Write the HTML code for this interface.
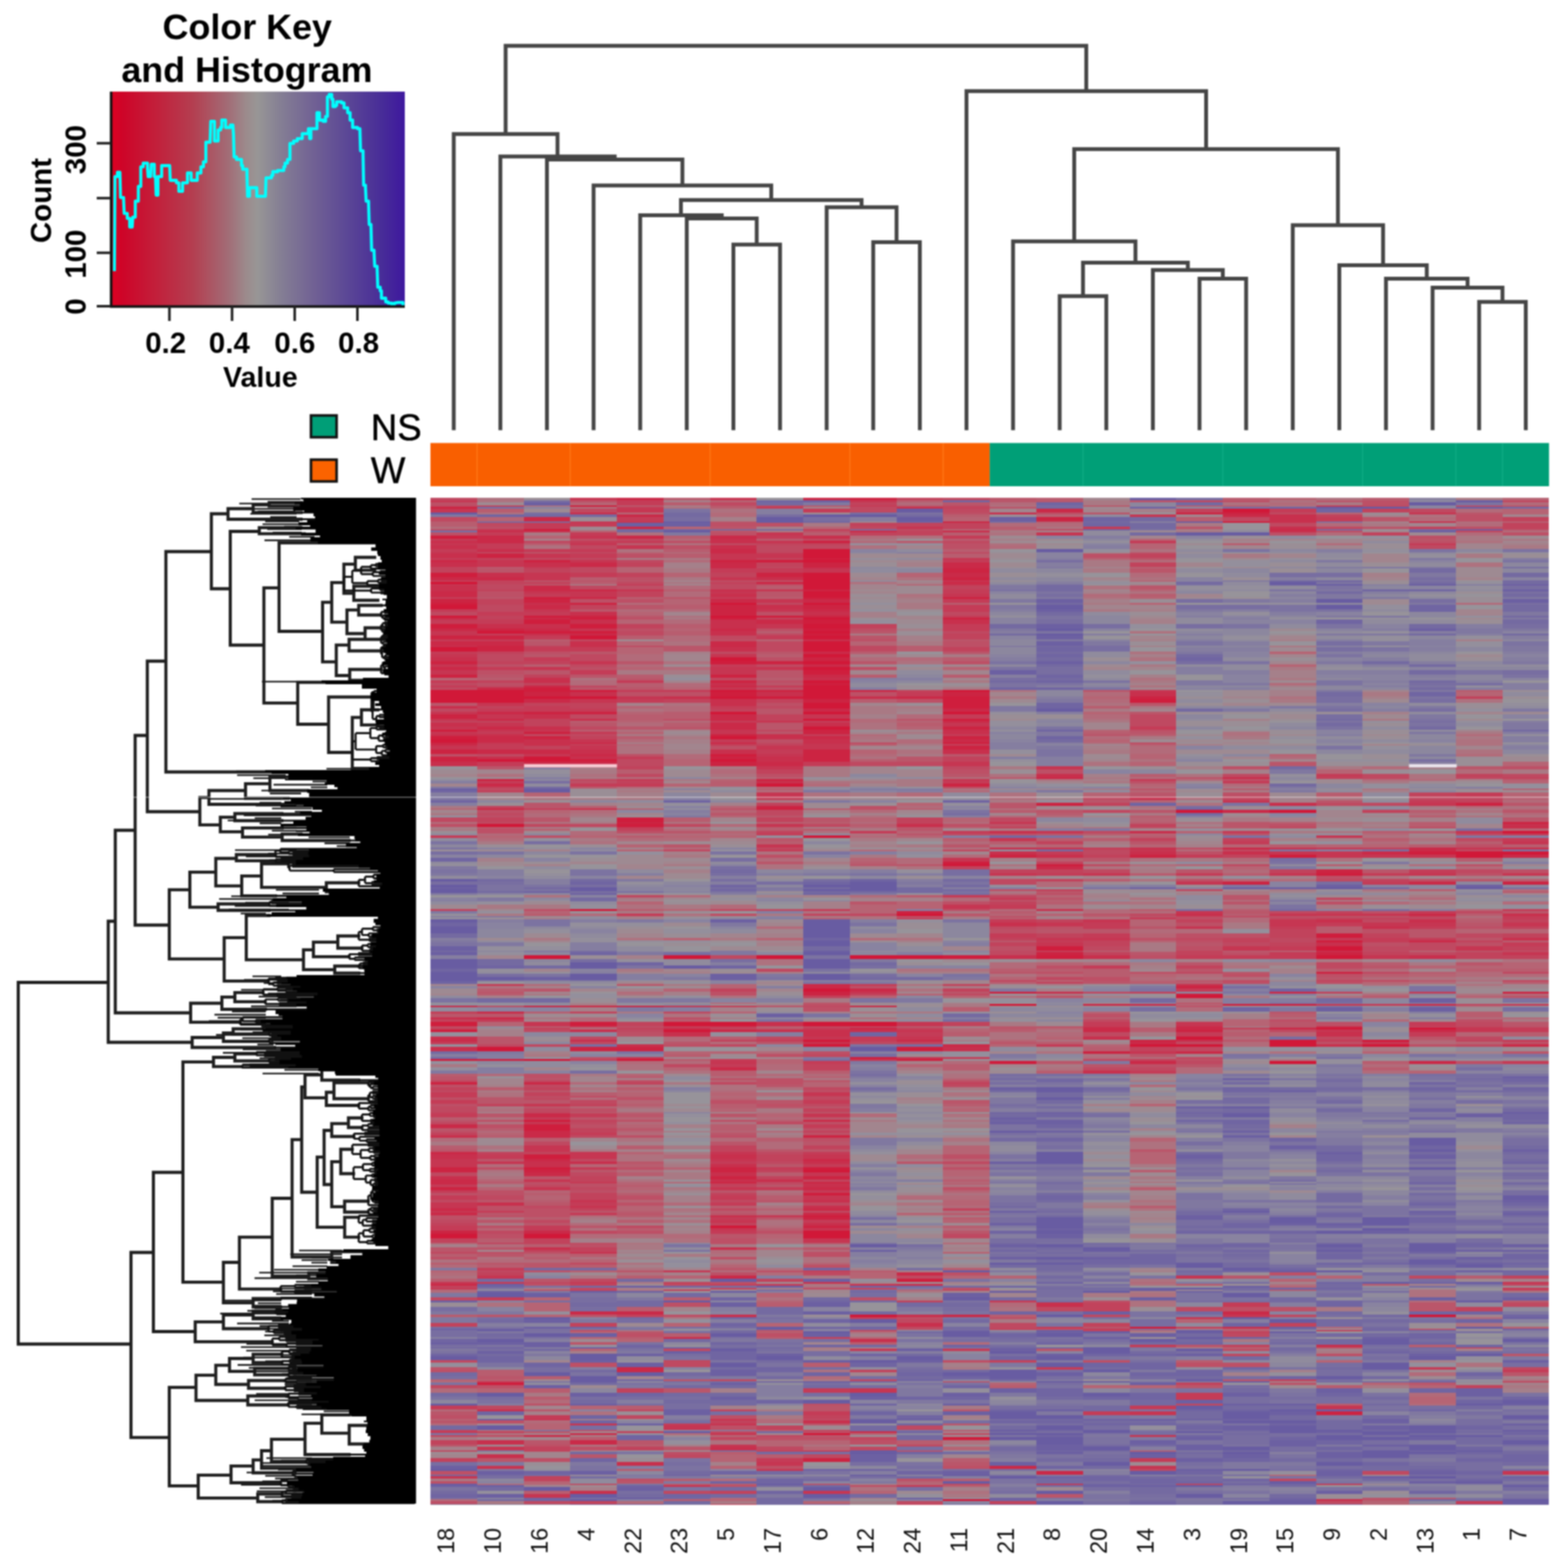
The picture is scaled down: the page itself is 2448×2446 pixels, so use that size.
<!DOCTYPE html>
<html><head><meta charset="utf-8"><title>Heatmap</title>
<style>html,body{margin:0;padding:0;background:#fff;}body{width:2448px;height:2446px;overflow:hidden;}svg{display:block;}#w{filter:blur(1.2px);}</style>
</head><body><div id="w">
<svg width="2448" height="2446" viewBox="0 0 2448 2446">
<linearGradient id="kg" x1="0" x2="1" y1="0" y2="0"><stop offset="0.000" stop-color="#e00020"/><stop offset="0.040" stop-color="#ce0428"/><stop offset="0.150" stop-color="#c31e3a"/><stop offset="0.280" stop-color="#b43e50"/><stop offset="0.400" stop-color="#a26c76"/><stop offset="0.460" stop-color="#9c8a8c"/><stop offset="0.500" stop-color="#989696"/><stop offset="0.580" stop-color="#847e94"/><stop offset="0.680" stop-color="#736494"/><stop offset="0.800" stop-color="#5c4896"/><stop offset="0.920" stop-color="#482d98"/><stop offset="1.000" stop-color="#3e189e"/></linearGradient>
<rect x="172" y="143" width="460" height="335" fill="url(#kg)"/>
<polyline points="178.6,423.3 179.5,275.7 183.4,275.7 183.4,269.0 187.2,269.0 188.2,308.3 193.0,308.3 193.0,312.1 193.9,333.2 198.7,333.2 198.7,340.9 202.5,340.9 202.5,354.3 206.4,354.3 207.3,339.0 211.2,339.0 211.2,333.2 211.2,314.0 216.0,314.0 216.0,310.2 216.0,291.0 219.8,291.0 219.8,287.2 219.8,260.4 223.6,260.4 223.6,254.6 227.5,254.6 230.3,254.6 230.3,262.3 231.3,275.7 235.1,275.7 236.1,256.5 240.9,256.5 240.9,275.7 242.8,275.7 243.8,304.5 246.6,304.5 246.6,275.7 250.5,275.7 252.4,275.7 252.4,258.5 264.9,258.5 265.8,281.5 275.4,281.5 275.4,285.3 279.2,285.3 279.2,298.7 283.1,298.7 285.0,298.7 285.0,285.3 290.7,285.3 292.7,285.3 292.7,270.0 296.5,270.0 298.4,270.0 298.4,281.5 304.2,281.5 308.0,281.5 308.0,270.0 313.7,270.0 313.7,260.4 317.6,260.4 317.6,252.7 321.4,252.7 321.4,246.9 321.4,222.0 328.1,222.0 328.1,220.1 329.1,189.4 332.9,189.4 334.8,189.4 334.8,220.1 338.7,220.1 340.6,220.1 340.6,202.9 344.4,202.9 344.4,199.0 346.3,199.0 346.3,187.5 350.2,187.5 352.1,187.5 352.1,199.0 359.8,199.0 359.8,195.2 363.6,195.2 364.6,210.5 365.5,245.0 369.3,245.0 369.3,248.9 373.2,248.9 377.0,248.9 377.0,258.5 378.9,258.5 378.9,264.2 385.6,264.2 385.6,273.8 386.6,306.4 389.4,306.4 389.4,293.0 393.3,293.0 400.9,293.0 400.9,306.4 414.4,306.4 415.3,277.6 423.9,277.6 423.9,273.8 425.9,273.8 425.9,268.0 433.5,268.0 433.5,266.1 443.1,266.1 443.1,260.4 445.0,260.4 445.0,254.6 448.9,254.6 448.9,248.9 452.7,248.9 452.7,223.9 458.4,223.9 458.4,220.1 464.2,220.1 464.2,216.3 471.9,216.3 471.9,208.6 481.5,208.6 481.5,200.9 483.4,200.9 483.4,216.3 485.3,216.3 485.3,200.9 494.9,200.9 494.9,176.0 498.7,176.0 498.7,187.5 504.5,187.5 504.5,189.4 508.3,189.4 508.3,181.8 511.2,181.8 511.2,151.1 514.0,151.1 514.0,147.3 517.9,147.3 517.9,154.9 519.8,154.9 519.8,166.4 523.6,166.4 523.6,164.5 525.6,164.5 525.6,158.8 533.2,158.8 533.2,160.7 537.1,160.7 537.1,168.3 542.8,168.3 542.8,176.0 546.6,176.0 546.6,187.5 550.5,187.5 550.5,195.2 550.5,199.0 558.1,199.0 558.1,200.9 561.9,200.9 561.9,202.9 562.9,235.4 566.8,235.4 566.8,241.2 567.7,289.1 570.6,289.1 570.6,293.0 571.6,314.0 575.4,314.0 575.4,317.9 576.4,350.5 579.2,350.5 579.2,354.3 580.2,390.7 584.0,390.7 584.0,394.6 585.0,415.7 588.8,415.7 588.8,419.5 589.8,448.3 593.6,448.3 593.6,454.0 595.5,454.0 595.5,465.5 602.2,465.5 602.2,471.3 606.1,471.3 606.1,473.2 611.8,473.2 611.8,477.0 615.7,477.0 615.7,473.2 621.4,472.2 629.1,472.2 629.1,477.0" fill="none" stroke="#00ffff" stroke-width="4.8" stroke-linejoin="round"/>
<path d="M173.5 143V478.5H632" fill="none" stroke="#111" stroke-width="4"/>
<path d="M151 223.6H173" stroke="#222" stroke-width="4"/>
<path d="M151 309.3H173" stroke="#222" stroke-width="4"/>
<path d="M151 394.6H173" stroke="#222" stroke-width="4"/>
<path d="M151 478.0H173" stroke="#222" stroke-width="4"/>
<path d="M264.5 478V501" stroke="#222" stroke-width="4"/>
<path d="M362.3 478V501" stroke="#222" stroke-width="4"/>
<path d="M460.1 478V501" stroke="#222" stroke-width="4"/>
<path d="M558.0 478V501" stroke="#222" stroke-width="4"/>
<path d="M1145.0 668.5V381.7H1217.8V668.5M1072.2 668.5V341.0H1181.4V381.7M999.5 668.5V336.0H1126.8V341.0M1363.3 668.5V378.0H1436.1V668.5M1290.6 668.5V323.5H1399.7V378.0M1063.1 336.0V312.3H1345.1V323.5M926.7 668.5V289.5H1204.1V312.3M853.9 668.5V249.0H1065.4V289.5M781.2 668.5V244.3H959.7V249.0M708.4 668.5V209.3H870.4V244.3M1654.4 668.5V462.3H1727.2V668.5M1872.7 668.5V435.0H1945.5V668.5M1799.9 668.5V421.6H1909.1V435.0M1690.8 462.3V410.1H1854.5V421.6M1581.6 668.5V376.8H1772.7V410.1M2309.3 668.5V471.2H2382.1V668.5M2236.6 668.5V448.9H2345.7V471.2M2163.8 668.5V435.0H2291.2V448.9M2091.0 668.5V414.1H2227.5V435.0M2018.3 668.5V351.5H2159.3V414.1M1677.1 376.8V232.7H2088.8V351.5M1508.9 668.5V142.3H1883.0V232.7M789.4 209.3V71.5H1695.9V142.3" fill="none" stroke="#454545" stroke-width="6" stroke-linecap="square"/>
<rect x="672.0" y="691.5" width="873.2" height="67.5" fill="#f95f00"/>
<rect x="1545.2" y="691.5" width="873.2" height="67.5" fill="#009f77"/>
<rect x="744.0" y="692" width="1.6" height="66.5" fill="#ff7a18"/>
<rect x="889.5" y="692" width="1.6" height="66.5" fill="#ff7a18"/>
<rect x="1107.8" y="692" width="1.6" height="66.5" fill="#ff7a18"/>
<rect x="1326.1" y="692" width="1.6" height="66.5" fill="#ff7a18"/>
<rect x="1471.7" y="692" width="1.6" height="66.5" fill="#ff7a18"/>
<rect x="1690.0" y="692" width="1.6" height="66.5" fill="#10ad86"/>
<rect x="1908.3" y="692" width="1.6" height="66.5" fill="#10ad86"/>
<rect x="2126.6" y="692" width="1.6" height="66.5" fill="#10ad86"/>
<rect x="2272.2" y="692" width="1.6" height="66.5" fill="#10ad86"/>
<rect x="2344.9" y="692" width="1.6" height="66.5" fill="#10ad86"/>
<path fill="#bf4961" d="M672 777h73v4h-73zM672 789h73v2h-73zM672 807h73v7h-73zM672 826h73v2h-73zM672 955h73v6h-73zM672 1066h73v4h-73zM672 1073h73v4h-73zM672 1106h73v5h-73zM672 1276h73v7h-73zM672 1686h73v3h-73zM672 1702h73v3h-73zM672 1727h73v9h-73zM672 1751h73v4h-73zM672 1830h73v6h-73zM672 1873h73v4h-73zM672 1904h73v5h-73zM672 1954h73v3h-73zM672 2025h73v5h-73zM672 2123h73v4h-73zM672 2162h73v5h-73zM672 2240h73v3h-73zM745 816h73v6h-73zM745 862h73v2h-73zM745 912h73v8h-73zM745 944h73v11h-73zM745 1021h73v11h-73zM745 1070h73v3h-73zM745 1177h73v4h-73zM745 1269h73v4h-73zM745 1283h73v3h-73zM745 1630h73v4h-73zM745 1866h73v7h-73zM745 1921h73v5h-73zM745 1983h73v3h-73zM745 2194h73v6h-73zM818 844h72v4h-72zM818 871h72v3h-72zM818 1146h72v3h-72zM818 1286h72v5h-72zM818 1607h72v4h-72zM818 1630h72v4h-72zM818 1686h72v3h-72zM818 1693h72v4h-72zM818 1713h72v4h-72zM818 1730h72v6h-72zM818 1782h72v6h-72zM818 1849h72v4h-72zM818 1882h72v4h-72zM818 1904h72v5h-72zM818 2001h72v3h-72zM818 2343h72v5h-72zM890 794h73v6h-73zM890 851h73v6h-73zM890 862h73v2h-73zM890 871h73v3h-73zM890 885h73v9h-73zM890 914h73v6h-73zM890 998h73v3h-73zM890 1021h73v11h-73zM890 1037h73v4h-73zM890 1070h73v3h-73zM890 1115h73v7h-73zM890 1134h73v5h-73zM890 1146h73v3h-73zM890 1216h73v3h-73zM890 1286h73v5h-73zM890 1602h73v2h-73zM890 1618h73v5h-73zM890 1626h73v4h-73zM890 1711h73v2h-73zM890 1717h73v6h-73zM890 1751h73v4h-73zM890 1772h73v4h-73zM890 1809h73v4h-73zM890 1830h73v6h-73zM890 1853h73v5h-73zM890 1921h73v5h-73zM890 1940h73v2h-73zM890 1971h73v3h-73zM890 1996h73v5h-73zM890 2010h73v3h-73zM890 2076h73v2h-73zM890 2316h73v2h-73zM963 841h73v3h-73zM963 874h73v4h-73zM963 908h73v4h-73zM963 985h73v7h-73zM963 1008h73v2h-73zM963 1185h73v11h-73zM963 1208h73v5h-73zM963 1397h73v4h-73zM963 1607h73v4h-73zM963 1913h73v4h-73zM963 2200h73v3h-73zM963 2209h73v6h-73zM1036 1286h73v5h-73zM1036 1326h73v3h-73zM1036 1579h73v3h-73zM1036 1661h73v5h-73zM1036 2004h73v3h-73zM1036 2105h73v4h-73zM1036 2123h73v11h-73zM1036 2270h73v6h-73zM1036 2327h73v5h-73zM1109 784h72v5h-72zM1109 848h72v3h-72zM1109 912h72v8h-72zM1109 992h72v6h-72zM1109 1017h72v4h-72zM1109 1058h72v4h-72zM1109 1419h72v3h-72zM1109 1491h72v6h-72zM1109 1630h72v4h-72zM1109 1689h72v4h-72zM1109 1873h72v4h-72zM1109 1886h72v4h-72zM1109 2010h72v3h-72zM1109 2153h72v3h-72zM1109 2234h72v3h-72zM1109 2243h72v5h-72zM1181 789h73v2h-73zM1181 851h73v11h-73zM1181 885h73v2h-73zM1181 941h73v3h-73zM1181 989h73v3h-73zM1181 1001h73v16h-73zM1181 1037h73v4h-73zM1181 1102h73v4h-73zM1181 1139h73v3h-73zM1181 1159h73v2h-73zM1181 1264h73v9h-73zM1181 1323h73v3h-73zM1181 1419h73v3h-73zM1181 1512h73v5h-73zM1181 1570h73v2h-73zM1181 1618h73v5h-73zM1181 1751h73v4h-73zM1181 1798h73v4h-73zM1181 1813h73v4h-73zM1181 1845h73v4h-73zM1181 2240h73v3h-73zM1181 2258h73v6h-73zM1254 841h73v3h-73zM1254 851h73v6h-73zM1254 1286h73v5h-73zM1254 1426h73v4h-73zM1254 1570h73v2h-73zM1254 1602h73v2h-73zM1254 1645h73v5h-73zM1254 1697h73v5h-73zM1254 1711h73v6h-73zM1254 1723h73v4h-73zM1254 1877h73v5h-73zM1254 1890h73v3h-73zM1254 1986h73v5h-73zM1254 2270h73v6h-73zM1327 791h73v9h-73zM1327 822h73v4h-73zM1327 1008h73v9h-73zM1327 1159h73v2h-73zM1327 1189h73v7h-73zM1327 1426h73v4h-73zM1327 1602h73v2h-73zM1327 1626h73v4h-73zM1327 2010h73v3h-73zM1327 2153h73v3h-73zM1327 2243h73v5h-73zM1327 2258h73v6h-73zM1400 1189h72v7h-72zM1400 1991h72v5h-72zM1400 2059h72v6h-72zM1400 2071h72v3h-72zM1400 2225h72v7h-72zM1400 2255h72v3h-72zM1400 2343h72v5h-72zM1472 777h73v4h-73zM1472 789h73v2h-73zM1472 794h73v6h-73zM1472 844h73v4h-73zM1472 862h73v2h-73zM1472 955h73v6h-73zM1472 985h73v4h-73zM1472 1196h73v5h-73zM1472 1301h73v3h-73zM1472 1326h73v3h-73zM1472 1551h73v3h-73zM1472 1693h73v4h-73zM1472 1813h73v4h-73zM1472 1926h73v7h-73zM1472 2013h73v2h-73zM1472 2316h73v2h-73zM1545 1276h73v7h-73zM1545 1372h73v9h-73zM1545 1397h73v4h-73zM1545 1446h73v4h-73zM1545 1484h73v7h-73zM1545 2065h73v9h-73zM1618 826h73v2h-73zM1618 1525h73v5h-73zM1618 1532h73v4h-73zM1618 2040h73v7h-73zM1691 1264h73v5h-73zM1691 1297h73v4h-73zM1691 1326h73v8h-73zM1691 1349h73v3h-73zM1691 1357h73v6h-73zM1691 1477h73v7h-73zM1691 1548h73v3h-73zM1691 1591h73v4h-73zM1691 1611h73v7h-73zM1691 1653h73v3h-73zM1691 1666h73v5h-73zM1691 2052h73v4h-73zM1764 1115h72v19h-72zM1764 1159h72v2h-72zM1764 1426h72v4h-72zM1764 1666h72v5h-72zM1764 2293h72v3h-72zM1836 781h73v3h-73zM1836 1388h73v3h-73zM1836 1430h73v2h-73zM1836 1464h73v4h-73zM1836 1517h73v3h-73zM1836 1626h73v4h-73zM1836 1634h73v7h-73zM1836 1650h73v3h-73zM1836 1656h73v5h-73zM1836 2040h73v7h-73zM1836 2191h73v3h-73zM1909 807h73v7h-73zM1909 1208h73v5h-73zM1909 1244h73v5h-73zM1909 1326h73v3h-73zM1909 1349h73v3h-73zM1909 1430h73v2h-73zM1909 1471h73v6h-73zM1909 1530h73v2h-73zM1909 2081h73v6h-73zM1909 2113h73v4h-73zM1982 800h73v3h-73zM1982 816h73v6h-73zM1982 1422h73v4h-73zM1982 1432h73v3h-73zM1982 1464h73v7h-73zM1982 1607h73v4h-73zM1982 2052h73v4h-73zM1982 2308h73v4h-73zM2055 822h72v4h-72zM2055 1253h72v5h-72zM2055 1372h72v4h-72zM2055 1401h72v4h-72zM2055 1502h72v10h-72zM2055 1618h72v5h-72zM2055 2343h72v5h-72zM2127 789h73v2h-73zM2127 1208h73v8h-73zM2127 1253h73v5h-73zM2127 1435h73v5h-73zM2127 1477h73v9h-73zM2127 1517h73v3h-73zM2127 2296h73v6h-73zM2200 794h73v6h-73zM2200 851h73v6h-73zM2200 1244h73v5h-73zM2200 1291h73v2h-73zM2200 1432h73v3h-73zM2200 1471h73v13h-73zM2200 1486h73v5h-73zM2200 1991h73v5h-73zM2273 789h73v2h-73zM2273 828h73v3h-73zM2273 1213h73v3h-73zM2273 1244h73v5h-73zM2273 1301h73v3h-73zM2273 1308h73v5h-73zM2273 1326h73v3h-73zM2273 1357h73v6h-73zM2273 1422h73v4h-73zM2273 1457h73v7h-73zM2273 1567h73v3h-73zM2273 1595h73v7h-73zM2273 1618h73v5h-73zM2273 1630h73v4h-73zM2273 2103h73v2h-73zM2346 781h72v3h-72zM2346 1208h72v5h-72zM2346 1517h72v3h-72zM2346 2004h72v3h-72zM2346 2013h72v2h-72zM2346 2033h72v7h-72zM2346 2134h72v4h-72z"/>
<path fill="#c63652" d="M672 781h73v3h-73zM672 794h73v6h-73zM672 848h73v3h-73zM672 862h73v2h-73zM672 912h73v2h-73zM672 985h73v7h-73zM672 1021h73v5h-73zM672 1037h73v4h-73zM672 1046h73v7h-73zM672 1111h73v4h-73zM672 1122h73v3h-73zM672 1134h73v5h-73zM672 1142h73v4h-73zM672 1164h73v6h-73zM672 1809h73v13h-73zM672 1877h73v9h-73zM672 1890h73v3h-73zM672 2001h73v3h-73zM672 2304h73v4h-73zM745 826h73v2h-73zM745 874h73v11h-73zM745 1097h73v5h-73zM745 1115h73v7h-73zM745 1128h73v6h-73zM745 1139h73v3h-73zM745 1159h73v2h-73zM745 1813h73v4h-73zM745 1991h73v5h-73zM745 2258h73v6h-73zM745 2288h73v5h-73zM818 864h72v7h-72zM818 894h72v12h-72zM818 923h72v4h-72zM818 951h72v4h-72zM818 1041h72v5h-72zM818 1139h72v3h-72zM818 1177h72v4h-72zM818 1595h72v7h-72zM818 1723h72v4h-72zM818 1751h72v4h-72zM818 1788h72v10h-72zM818 1841h72v4h-72zM818 1853h72v5h-72zM818 2215h72v2h-72zM818 2332h72v6h-72zM890 777h73v4h-73zM890 814h73v2h-73zM890 836h73v5h-73zM890 848h73v3h-73zM890 874h73v4h-73zM890 923h73v9h-73zM890 981h73v4h-73zM890 1032h73v5h-73zM890 1091h73v6h-73zM890 1154h73v5h-73zM890 1164h73v6h-73zM890 1798h73v11h-73zM890 1845h73v2h-73zM890 1873h73v4h-73zM890 1882h73v4h-73zM890 1954h73v3h-73zM890 2222h73v3h-73zM963 794h73v6h-73zM963 814h73v2h-73zM963 851h73v6h-73zM963 920h73v3h-73zM963 1087h73v4h-73zM963 1650h73v3h-73zM1036 1983h73v3h-73zM1036 2013h73v2h-73zM1036 2225h73v7h-73zM1036 2318h73v3h-73zM1109 777h72v4h-72zM1109 864h72v10h-72zM1109 901h72v5h-72zM1109 923h72v4h-72zM1109 1021h72v5h-72zM1109 1041h72v12h-72zM1109 1073h72v4h-72zM1109 1139h72v7h-72zM1109 1656h72v5h-72zM1109 1798h72v4h-72zM1109 1809h72v4h-72zM1109 1853h72v5h-72zM1109 1904h72v5h-72zM1109 1917h72v4h-72zM1109 2222h72v3h-72zM1109 2237h72v3h-72zM1109 2255h72v3h-72zM1109 2348h72v1h-72zM1181 831h73v5h-73zM1181 844h73v4h-73zM1181 864h73v7h-73zM1181 920h73v3h-73zM1181 935h73v6h-73zM1181 951h73v4h-73zM1181 974h73v7h-73zM1181 1041h73v5h-73zM1181 1125h73v3h-73zM1181 1164h73v6h-73zM1181 1177h73v4h-73zM1181 1196h73v5h-73zM1181 1237h73v7h-73zM1181 1286h73v5h-73zM1181 1318h73v5h-73zM1181 1897h73v3h-73zM1181 2282h73v6h-73zM1181 2293h73v3h-73zM1254 887h73v7h-73zM1254 1115h73v7h-73zM1254 1161h73v9h-73zM1254 1618h73v5h-73zM1254 1705h73v6h-73zM1254 1738h73v6h-73zM1254 1802h73v7h-73zM1254 1830h73v6h-73zM1254 1866h73v7h-73zM1254 1917h73v4h-73zM1254 1933h73v7h-73zM1254 2001h73v3h-73zM1254 2327h73v5h-73zM1327 781h73v3h-73zM1327 1548h73v3h-73zM1327 1653h73v3h-73zM1327 2004h73v3h-73zM1327 2167h73v7h-73zM1400 822h72v4h-72zM1400 1595h72v7h-72zM1400 1607h72v4h-72zM1400 1618h72v5h-72zM1400 1650h72v3h-72zM1472 871h73v3h-73zM1472 906h73v2h-73zM1472 912h73v2h-73zM1472 927h73v5h-73zM1472 1128h73v6h-73zM1472 1189h73v7h-73zM1472 1216h73v3h-73zM1472 1339h73v6h-73zM1472 1412h73v7h-73zM1545 1283h73v3h-73zM1545 1308h73v5h-73zM1545 1363h73v4h-73zM1618 831h73v5h-73zM1618 1196h73v5h-73zM1618 1297h73v4h-73zM1618 1323h73v3h-73zM1618 1440h73v6h-73zM1618 1464h73v4h-73zM1618 1471h73v6h-73zM1618 2316h73v2h-73zM1691 1363h73v4h-73zM1691 1435h73v5h-73zM1691 1464h73v4h-73zM1691 1602h73v2h-73zM1764 803h72v4h-72zM1764 1077h72v3h-72zM1764 1244h72v5h-72zM1764 1326h72v3h-72zM1764 1641h72v4h-72zM1764 2203h72v6h-72zM1764 2240h72v3h-72zM1764 2288h72v5h-72zM1836 1376h73v5h-73zM1836 1422h73v4h-73zM1836 1446h73v4h-73zM1836 1595h73v7h-73zM1836 1991h73v5h-73zM1836 2056h73v3h-73zM1909 1249h73v4h-73zM1909 1477h73v7h-73zM1909 2052h73v4h-73zM1982 1323h73v3h-73zM1982 1329h73v5h-73zM1982 1363h73v4h-73zM1982 1426h73v4h-73zM1982 1435h73v11h-73zM2055 789h72v2h-72zM2055 1304h72v4h-72zM2055 1329h72v10h-72zM2055 1426h72v4h-72zM2055 1607h72v4h-72zM2055 2076h72v2h-72zM2055 2194h72v6h-72zM2055 2316h72v2h-72zM2127 1334h73v5h-73zM2127 1426h73v4h-73zM2127 1440h73v6h-73zM2127 1491h73v6h-73zM2127 1626h73v4h-73zM2200 800h73v3h-73zM2200 1253h73v5h-73zM2200 1334h73v5h-73zM2200 1363h73v4h-73zM2200 1440h73v6h-73zM2273 1297h73v4h-73zM2273 1323h73v3h-73zM2273 1477h73v7h-73zM2273 1604h73v7h-73zM2346 1313h72v5h-72zM2346 1363h72v4h-72zM2346 1440h72v6h-72zM2346 1486h72v5h-72zM2346 2001h72v3h-72zM2346 2296h72v6h-72z"/>
<path fill="#bd5066" d="M672 784h73v5h-73zM672 831h73v5h-73zM672 1177h73v4h-73zM672 1286h73v5h-73zM672 1602h73v2h-73zM672 1693h73v4h-73zM672 1713h73v4h-73zM672 1723h73v4h-73zM672 1765h73v3h-73zM672 1862h73v4h-73zM672 1897h73v7h-73zM672 1962h73v4h-73zM672 2138h73v4h-73zM672 2209h73v6h-73zM672 2296h73v6h-73zM672 2312h73v4h-73zM672 2343h73v5h-73zM745 822h73v4h-73zM745 923h73v9h-73zM745 1037h73v4h-73zM745 1046h73v7h-73zM745 1066h73v4h-73zM745 1231h73v2h-73zM745 1264h73v5h-73zM745 1273h73v3h-73zM745 1293h73v8h-73zM745 1748h73v3h-73zM745 1755h73v6h-73zM745 1822h73v4h-73zM745 1858h73v8h-73zM745 1882h73v8h-73zM745 1897h73v3h-73zM745 1913h73v4h-73zM745 1926h73v7h-73zM745 1954h73v3h-73zM745 2162h73v5h-73zM745 2217h73v5h-73zM745 2240h73v3h-73zM818 1017h72v4h-72zM818 1304h72v4h-72zM818 1419h72v3h-72zM818 1676h72v7h-72zM818 1711h72v2h-72zM818 1845h72v4h-72zM818 1886h72v14h-72zM818 1954h72v3h-72zM818 1983h72v3h-72zM818 2004h72v3h-72zM818 2013h72v2h-72zM818 2191h72v3h-72zM818 2255h72v3h-72zM818 2276h72v6h-72zM890 781h73v3h-73zM890 841h73v3h-73zM890 935h73v6h-73zM890 1041h73v5h-73zM890 1219h73v4h-73zM890 1650h73v3h-73zM890 1730h73v6h-73zM890 1755h73v6h-73zM890 1847h73v6h-73zM890 1858h73v4h-73zM890 1942h73v5h-73zM890 2127h73v7h-73zM890 2232h73v2h-73zM890 2258h73v6h-73zM963 864h73v7h-73zM963 901h73v5h-73zM963 914h73v6h-73zM963 935h73v6h-73zM963 964h73v3h-73zM963 981h73v4h-73zM963 1080h73v7h-73zM963 1177h73v4h-73zM963 1297h73v4h-73zM963 1602h73v2h-73zM963 1611h73v7h-73zM963 1686h73v3h-73zM963 1713h73v4h-73zM963 1748h73v3h-73zM963 1772h73v4h-73zM963 1822h73v4h-73zM963 1866h73v7h-73zM963 1877h73v5h-73zM963 1921h73v5h-73zM963 2081h73v6h-73zM963 2308h73v4h-73zM1036 844h73v4h-73zM1036 851h73v6h-73zM1036 1080h73v7h-73zM1036 1122h73v3h-73zM1036 1588h73v3h-73zM1036 1630h73v4h-73zM1036 2033h73v7h-73zM1036 2052h73v4h-73zM1036 2266h73v4h-73zM1109 816h72v6h-72zM1109 831h72v5h-72zM1109 906h72v2h-72zM1109 998h72v3h-72zM1109 1164h72v6h-72zM1109 1262h72v2h-72zM1109 1426h72v4h-72zM1109 1548h72v6h-72zM1109 1683h72v3h-72zM1109 1717h72v6h-72zM1109 1748h72v3h-72zM1109 1772h72v4h-72zM1109 1933h72v9h-72zM1109 1962h72v4h-72zM1109 1986h72v5h-72zM1109 2001h72v3h-72zM1109 2209h72v6h-72zM1109 2225h72v7h-72zM1109 2318h72v3h-72zM1181 816h73v6h-73zM1181 912h73v2h-73zM1181 955h73v6h-73zM1181 981h73v4h-73zM1181 1026h73v6h-73zM1181 1062h73v4h-73zM1181 1073h73v4h-73zM1181 1097h73v5h-73zM1181 1154h73v5h-73zM1181 1208h73v5h-73zM1181 1334h73v5h-73zM1181 1645h73v5h-73zM1181 1683h73v10h-73zM1181 1723h73v4h-73zM1181 1921h73v5h-73zM1181 1983h73v3h-73zM1181 2081h73v6h-73zM1181 2243h73v5h-73zM1181 2288h73v5h-73zM1254 828h73v3h-73zM1254 1567h73v3h-73zM1254 1572h73v7h-73zM1254 1641h73v4h-73zM1254 1702h73v3h-73zM1254 1751h73v4h-73zM1254 1761h73v4h-73zM1254 1768h73v4h-73zM1254 1776h73v6h-73zM1254 1954h73v8h-73zM1254 1974h73v5h-73zM1254 2010h73v3h-73zM1254 2191h73v3h-73zM1254 2215h73v2h-73zM1254 2234h73v3h-73zM1254 2243h73v5h-73zM1254 2316h73v2h-73zM1327 981h73v4h-73zM1327 998h73v3h-73zM1327 1041h73v5h-73zM1327 1080h73v7h-73zM1327 1258h73v6h-73zM1327 1539h73v4h-73zM1327 2025h73v5h-73zM1327 2248h73v7h-73zM1327 2318h73v3h-73zM1400 826h72v2h-72zM1400 1091h72v6h-72zM1400 2056h72v3h-72zM1400 2264h72v2h-72zM1400 2308h72v4h-72zM1472 800h73v3h-73zM1472 848h73v9h-73zM1472 1001h73v9h-73zM1472 1032h73v5h-73zM1472 1201h73v7h-73zM1472 1228h73v3h-73zM1472 1286h73v5h-73zM1472 1407h73v5h-73zM1472 1419h73v3h-73zM1472 1686h73v3h-73zM1472 1802h73v7h-73zM1472 1822h73v4h-73zM1472 1853h73v5h-73zM1472 1986h73v5h-73zM1472 2010h73v3h-73zM1472 2123h73v4h-73zM1472 2237h73v3h-73zM1472 2288h73v5h-73zM1545 1286h73v5h-73zM1545 1301h73v3h-73zM1545 1388h73v3h-73zM1545 1430h73v2h-73zM1545 1450h73v7h-73zM1545 1477h73v7h-73zM1545 2056h73v3h-73zM1618 800h73v3h-73zM1618 1201h73v7h-73zM1618 1394h73v3h-73zM1618 1446h73v4h-73zM1618 1507h73v5h-73zM1618 1517h73v3h-73zM1618 1602h73v2h-73zM1618 2074h73v2h-73zM1691 864h73v7h-73zM1691 1244h73v5h-73zM1691 1525h73v7h-73zM1691 1582h73v6h-73zM1691 2030h73v3h-73zM1691 2123h73v4h-73zM1764 781h72v3h-72zM1764 1139h72v3h-72zM1764 1219h72v4h-72zM1764 1231h72v2h-72zM1764 1291h72v2h-72zM1764 1464h72v4h-72zM1764 1491h72v6h-72zM1764 1517h72v3h-72zM1764 1661h72v5h-72zM1836 1323h73v3h-73zM1836 1329h73v5h-73zM1836 1372h73v4h-73zM1836 1432h73v3h-73zM1836 1440h73v6h-73zM1836 1457h73v7h-73zM1836 1468h73v3h-73zM1836 1477h73v7h-73zM1836 1570h73v2h-73zM1836 1653h73v3h-73zM1836 2127h73v7h-73zM1909 781h73v3h-73zM1909 1196h73v5h-73zM1909 1216h73v3h-73zM1909 1237h73v7h-73zM1909 1457h73v7h-73zM1909 1486h73v5h-73zM1909 1520h73v5h-73zM1909 1532h73v4h-73zM1909 2040h73v7h-73zM1909 2105h73v4h-73zM1909 2127h73v7h-73zM1982 831h73v5h-73zM1982 1286h73v5h-73zM1982 1430h73v2h-73zM1982 1591h73v4h-73zM1982 1986h73v5h-73zM1982 2040h73v7h-73zM2055 828h72v3h-72zM2055 1367h72v5h-72zM2055 1407h72v5h-72zM2055 1520h72v5h-72zM2055 1532h72v4h-72zM2055 1595h72v7h-72zM2055 1626h72v4h-72zM2055 2113h72v4h-72zM2127 781h73v8h-73zM2127 1422h73v4h-73zM2127 1450h73v7h-73zM2127 1471h73v6h-73zM2127 2338h73v2h-73zM2200 836h73v5h-73zM2200 844h73v4h-73zM2200 1372h73v4h-73zM2200 1630h73v4h-73zM2200 2074h73v2h-73zM2200 2338h73v2h-73zM2273 803h73v11h-73zM2273 822h73v4h-73zM2273 1318h73v5h-73zM2273 1349h73v3h-73zM2273 1363h73v4h-73zM2273 1446h73v4h-73zM2273 1471h73v6h-73zM2273 1591h73v4h-73zM2273 1656h73v5h-73zM2346 789h72v2h-72zM2346 831h72v5h-72zM2346 1196h72v5h-72zM2346 1357h72v6h-72zM2346 1484h72v2h-72zM2346 1602h72v2h-72zM2346 1626h72v4h-72z"/>
<path fill="#cc2442" d="M672 791h73v3h-73zM672 935h73v6h-73zM672 992h73v6h-73zM672 1032h73v5h-73zM672 1053h73v5h-73zM672 1115h73v7h-73zM672 1159h73v2h-73zM672 1170h73v7h-73zM672 1181h73v8h-73zM672 1689h73v4h-73zM672 1822h73v8h-73zM672 1853h73v5h-73zM672 1921h73v5h-73zM745 864h73v7h-73zM745 981h73v4h-73zM745 992h73v6h-73zM745 1008h73v9h-73zM745 1216h73v3h-73zM745 1262h73v2h-73zM745 1653h73v3h-73zM818 874h72v4h-72zM818 935h72v6h-72zM818 1080h72v7h-72zM818 1111h72v4h-72zM818 1142h72v4h-72zM818 1149h72v5h-72zM818 1826h72v4h-72zM890 941h73v3h-73zM890 961h73v3h-73zM890 1111h73v4h-73zM890 1634h73v7h-73zM963 1283h73v3h-73zM963 1634h73v7h-73zM1109 874h72v4h-72zM1109 944h72v17h-72zM1109 1053h72v5h-72zM1109 1062h72v4h-72zM1109 1146h72v3h-72zM1109 1181h72v4h-72zM1109 1189h72v7h-72zM1109 1822h72v8h-72zM1109 1836h72v5h-72zM1109 1845h72v2h-72zM1181 894h73v7h-73zM1181 1032h73v5h-73zM1181 1077h73v3h-73zM1181 1216h73v3h-73zM1181 1258h73v4h-73zM1254 844h73v4h-73zM1254 878h73v7h-73zM1254 920h73v3h-73zM1254 944h73v7h-73zM1254 961h73v3h-73zM1254 1026h73v6h-73zM1254 1091h73v6h-73zM1254 1139h73v7h-73zM1254 1170h73v19h-73zM1254 1548h73v6h-73zM1254 1772h73v4h-73zM1254 1836h73v5h-73zM1254 1845h73v2h-73zM1254 1900h73v4h-73zM1254 1913h73v4h-73zM1254 2276h73v6h-73zM1327 777h73v4h-73zM1400 1422h72v4h-72zM1472 814h73v2h-73zM1472 887h73v7h-73zM1472 901h73v5h-73zM1472 932h73v3h-73zM1472 964h73v3h-73zM1472 1080h73v7h-73zM1472 1134h73v5h-73zM1472 1149h73v5h-73zM1472 1164h73v6h-73zM1472 1223h73v5h-73zM1545 1334h73v5h-73zM1545 1548h73v3h-73zM1618 807h73v7h-73zM1618 1253h73v5h-73zM1618 1486h73v5h-73zM1691 1641h73v4h-73zM1764 1087h72v4h-72zM1764 1334h72v5h-72zM1764 1623h72v3h-72zM1836 800h73v3h-73zM1836 1539h73v4h-73zM1836 1607h73v4h-73zM1909 800h73v3h-73zM1909 1376h73v5h-73zM1909 1567h73v3h-73zM1982 1567h73v3h-73zM2055 1357h72v6h-72zM2055 1486h72v5h-72zM2055 1517h72v3h-72zM2055 2203h72v6h-72zM2273 1253h73v5h-73zM2346 1283h72v3h-72zM2346 1376h72v5h-72zM2346 1548h72v3h-72z"/>
<path fill="#685ca2" d="M672 800h73v3h-73zM672 1231h73v2h-73zM672 1372h73v4h-73zM672 1381h73v4h-73zM672 1388h73v6h-73zM672 1435h73v5h-73zM672 1446h73v11h-73zM672 1497h73v15h-73zM672 1517h73v15h-73zM672 2117h73v6h-73zM672 2191h73v3h-73zM672 2293h73v3h-73zM672 2316h73v2h-73zM745 1525h73v5h-73zM745 2018h73v7h-73zM745 2076h73v2h-73zM745 2090h73v5h-73zM745 2174h73v6h-73zM745 2215h73v2h-73zM745 2225h73v7h-73zM818 1231h72v6h-72zM818 2056h72v3h-72zM818 2081h72v6h-72zM818 2142h72v6h-72zM818 2321h72v6h-72zM890 1385h73v6h-73zM890 1502h73v10h-73zM890 1520h73v10h-73zM890 2103h73v2h-73zM890 2113h73v10h-73zM890 2148h73v10h-73zM890 2332h73v6h-73zM890 2340h73v3h-73zM963 2142h73v6h-73zM963 2338h73v2h-73zM963 2348h73v1h-73zM1036 814h73v2h-73zM1036 828h73v3h-73zM1036 1507h73v5h-73zM1036 2030h73v3h-73zM1036 2234h73v3h-73zM1109 1996h72v5h-72zM1109 2081h72v6h-72zM1109 2105h72v4h-72zM1109 2127h72v7h-72zM1181 807h73v9h-73zM1181 2071h73v3h-73zM1181 2117h73v6h-73zM1181 2316h73v2h-73zM1254 803h73v4h-73zM1254 1381h73v4h-73zM1254 1388h73v3h-73zM1254 1435h73v29h-73zM1254 1468h73v9h-73zM1254 1486h73v5h-73zM1254 1497h73v15h-73zM1254 1520h73v10h-73zM1254 2078h73v3h-73zM1254 2185h73v6h-73zM1254 2321h73v6h-73zM1254 2332h73v6h-73zM1327 803h73v4h-73zM1327 1376h73v15h-73zM1327 1634h73v7h-73zM1327 1942h73v5h-73zM1327 2059h73v6h-73zM1327 2123h73v4h-73zM1327 2174h73v6h-73zM1327 2217h73v5h-73zM1327 2264h73v6h-73zM1327 2302h73v2h-73zM1400 794h72v6h-72zM1400 807h72v7h-72zM1400 2117h72v6h-72zM1400 2215h72v2h-72zM1400 2338h72v2h-72zM1472 1983h73v3h-73zM1472 2025h73v5h-73zM1472 2078h73v9h-73zM1472 2142h73v6h-73zM1472 2302h73v2h-73zM1472 2312h73v4h-73zM1545 1765h73v3h-73zM1545 1971h73v3h-73zM1545 2109h73v4h-73zM1545 2138h73v15h-73zM1545 2203h73v12h-73zM1545 2232h73v2h-73zM1545 2237h73v3h-73zM1545 2243h73v5h-73zM1545 2304h73v4h-73zM1618 857h73v5h-73zM1618 944h73v7h-73zM1618 981h73v4h-73zM1618 989h73v3h-73zM1618 1106h73v5h-73zM1618 1697h73v8h-73zM1618 1713h73v4h-73zM1618 1798h73v19h-73zM1618 1900h73v17h-73zM1618 1921h73v5h-73zM1618 1942h73v5h-73zM1618 1962h73v4h-73zM1618 1971h73v3h-73zM1618 2052h73v4h-73zM1618 2081h73v6h-73zM1618 2117h73v6h-73zM1618 2127h73v7h-73zM1618 2156h73v2h-73zM1618 2209h73v6h-73zM1618 2225h73v7h-73zM1618 2237h73v3h-73zM1618 2243h73v12h-73zM1618 2327h73v5h-73zM1618 2343h73v5h-73zM1691 1947h73v7h-73zM1691 2015h73v3h-73zM1691 2078h73v3h-73zM1691 2103h73v10h-73zM1691 2138h73v4h-73zM1691 2156h73v2h-73zM1691 2174h73v6h-73zM1691 2232h73v5h-73zM1691 2258h73v6h-73zM1691 2282h73v6h-73zM1764 2013h72v2h-72zM1764 2090h72v5h-72zM1764 2215h72v2h-72zM1764 2266h72v4h-72zM1764 2296h72v6h-72zM1836 814h73v2h-73zM1836 831h73v5h-73zM1836 1971h73v8h-73zM1836 2010h73v3h-73zM1836 2078h73v3h-73zM1836 2087h73v3h-73zM1836 2105h73v4h-73zM1836 2153h73v3h-73zM1836 2194h73v6h-73zM1836 2234h73v3h-73zM1836 2318h73v3h-73zM1836 2332h73v6h-73zM1909 831h73v5h-73zM1909 1727h73v3h-73zM1909 1738h73v6h-73zM1909 1890h73v3h-73zM1909 1979h73v4h-73zM1909 2018h73v7h-73zM1909 2056h73v3h-73zM1909 2156h73v2h-73zM1909 2203h73v12h-73zM1909 2217h73v5h-73zM1909 2258h73v6h-73zM1909 2266h73v4h-73zM1909 2293h73v3h-73zM1909 2343h73v5h-73zM1982 908h73v4h-73zM1982 1900h73v9h-73zM1982 1983h73v3h-73zM1982 2059h73v6h-73zM1982 2200h73v3h-73zM1982 2217h73v5h-73zM1982 2225h73v12h-73zM1982 2312h73v4h-73zM1982 2343h73v5h-73zM2055 791h72v3h-72zM2055 912h72v2h-72zM2055 935h72v6h-72zM2055 944h72v7h-72zM2055 1385h72v3h-72zM2055 1921h72v5h-72zM2055 1942h72v5h-72zM2055 1951h72v3h-72zM2055 1983h72v3h-72zM2055 2148h72v5h-72zM2055 2232h72v2h-72zM2055 2240h72v8h-72zM2055 2282h72v6h-72zM2127 791h73v3h-73zM2127 1900h73v13h-73zM2127 1917h73v4h-73zM2127 2001h73v3h-73zM2127 2090h73v9h-73zM2127 2127h73v11h-73zM2127 2234h73v6h-73zM2127 2243h73v5h-73zM2127 2264h73v12h-73zM2200 784h73v5h-73zM2200 912h73v2h-73zM2200 1776h73v12h-73zM2200 1794h73v4h-73zM2200 1822h73v4h-73zM2200 1942h73v12h-73zM2200 1966h73v8h-73zM2200 2117h73v6h-73zM2200 2225h73v7h-73zM2200 2234h73v3h-73zM2200 2240h73v3h-73zM2200 2255h73v9h-73zM2200 2266h73v4h-73zM2200 2304h73v4h-73zM2273 781h73v3h-73zM2273 826h73v2h-73zM2273 1385h73v3h-73zM2273 1974h73v5h-73zM2273 2001h73v3h-73zM2273 2030h73v3h-73zM2273 2071h73v3h-73zM2273 2113h73v4h-73zM2273 2191h73v3h-73zM2273 2240h73v3h-73zM2273 2264h73v2h-73zM2273 2312h73v4h-73zM2346 1736h72v2h-72zM2346 1866h72v7h-72zM2346 2090h72v5h-72zM2346 2185h72v6h-72zM2346 2209h72v6h-72zM2346 2232h72v2h-72zM2346 2248h72v7h-72zM2346 2318h72v3h-72zM2346 2340h72v8h-72z"/>
<path fill="#8078a0" d="M672 803h73v4h-73zM672 1228h73v3h-73zM672 1244h73v5h-73zM672 1352h73v5h-73zM672 1363h73v4h-73zM672 1394h73v3h-73zM672 1422h73v4h-73zM672 1468h73v3h-73zM672 1671h73v5h-73zM672 1979h73v4h-73zM672 2018h73v7h-73zM672 2047h73v5h-73zM672 2056h73v9h-73zM672 2105h73v4h-73zM745 1401h73v6h-73zM745 1430h73v2h-73zM745 1471h73v6h-73zM745 1530h73v2h-73zM745 1641h73v4h-73zM745 2010h73v3h-73zM745 2047h73v5h-73zM745 2078h73v3h-73zM745 2264h73v2h-73zM745 2282h73v6h-73zM745 2293h73v3h-73zM818 1484h72v2h-72zM818 2015h72v3h-72zM818 2113h72v4h-72zM890 1530h73v2h-73zM890 2059h73v6h-73zM890 2074h73v2h-73zM890 2282h73v6h-73zM963 1372h73v4h-73zM963 1435h73v5h-73zM963 1486h73v5h-73zM963 1558h73v7h-73zM963 1572h73v7h-73zM963 2025h73v5h-73zM963 2071h73v3h-73zM963 2109h73v4h-73zM963 2162h73v5h-73zM963 2302h73v2h-73zM963 2316h73v2h-73zM1036 831h73v5h-73zM1036 1273h73v3h-73zM1036 1525h73v5h-73zM1036 1558h73v7h-73zM1036 2158h73v4h-73zM1036 2215h73v2h-73zM1036 2304h73v4h-73zM1036 2312h73v4h-73zM1109 1440h72v6h-72zM1109 1484h72v7h-72zM1109 2090h72v5h-72zM1109 2148h72v5h-72zM1181 1385h73v6h-73zM1181 1520h73v5h-73zM1181 2052h73v4h-73zM1181 2142h73v6h-73zM1181 2203h73v6h-73zM1181 2304h73v4h-73zM1181 2332h73v6h-73zM1254 784h73v5h-73zM1254 1233h73v4h-73zM1254 1249h73v4h-73zM1254 1363h73v4h-73zM1254 1650h73v3h-73zM1254 2340h73v3h-73zM1327 1231h73v2h-73zM1327 1394h73v3h-73zM1327 1497h73v5h-73zM1327 1532h73v4h-73zM1327 1656h73v5h-73zM1327 1680h73v3h-73zM1327 1702h73v3h-73zM1327 1723h73v7h-73zM1327 1776h73v12h-73zM1327 1830h73v6h-73zM1327 1853h73v5h-73zM1327 2200h73v3h-73zM1327 2209h73v6h-73zM1327 2312h73v4h-73zM1400 1231h72v2h-72zM1400 1376h72v5h-72zM1400 1558h72v7h-72zM1400 1947h72v4h-72zM1400 2010h72v3h-72zM1400 2040h72v7h-72zM1400 2127h72v7h-72zM1400 2167h72v13h-72zM1400 2185h72v6h-72zM1400 2293h72v3h-72zM1472 1525h73v5h-73zM1545 914h73v6h-73zM1545 935h73v6h-73zM1545 944h73v7h-73zM1545 981h73v4h-73zM1545 1008h73v2h-73zM1545 1102h73v9h-73zM1545 1543h73v5h-73zM1545 1645h73v5h-73zM1545 1686h73v3h-73zM1545 1713h73v10h-73zM1545 1772h73v4h-73zM1545 1817h73v5h-73zM1545 1886h73v4h-73zM1545 1897h73v3h-73zM1545 1913h73v4h-73zM1545 1966h73v5h-73zM1545 1983h73v3h-73zM1545 2078h73v3h-73zM1545 2127h73v7h-73zM1545 2174h73v6h-73zM1545 2222h73v3h-73zM1545 2255h73v3h-73zM1545 2270h73v6h-73zM1618 885h73v2h-73zM1618 932h73v3h-73zM1618 998h73v3h-73zM1618 1091h73v6h-73zM1618 1142h73v7h-73zM1618 1164h73v6h-73zM1618 1233h73v4h-73zM1618 1693h73v4h-73zM1618 1723h73v4h-73zM1618 1730h73v6h-73zM1618 1744h73v4h-73zM1618 1768h73v4h-73zM1618 1841h73v4h-73zM1618 1877h73v9h-73zM1618 1986h73v5h-73zM1618 2025h73v5h-73zM1618 2123h73v4h-73zM1618 2153h73v3h-73zM1618 2185h73v6h-73zM1618 2203h73v6h-73zM1618 2282h73v6h-73zM1691 1001h73v7h-73zM1691 1293h73v4h-73zM1691 1656h73v5h-73zM1691 1676h73v4h-73zM1691 1736h73v2h-73zM1691 1755h73v6h-73zM1691 1822h73v4h-73zM1691 1830h73v6h-73zM1691 1904h73v5h-73zM1691 1913h73v4h-73zM1691 1921h73v5h-73zM1691 2007h73v3h-73zM1691 2095h73v4h-73zM1691 2148h73v5h-73zM1691 2185h73v9h-73zM1691 2240h73v3h-73zM1691 2340h73v3h-73zM1764 1539h72v4h-72zM1764 1942h72v9h-72zM1764 2105h72v4h-72zM1764 2117h72v6h-72zM1764 2138h72v4h-72zM1764 2167h72v7h-72zM1764 2209h72v6h-72zM1764 2232h72v2h-72zM1764 2243h72v5h-72zM1836 951h73v4h-73zM1836 1017h73v4h-73zM1836 1062h73v8h-73zM1836 1686h73v3h-73zM1836 1744h73v4h-73zM1836 1761h73v4h-73zM1836 1817h73v5h-73zM1836 1873h73v13h-73zM1836 1933h73v9h-73zM1836 1954h73v3h-73zM1836 1979h73v4h-73zM1836 2001h73v3h-73zM1836 2052h73v4h-73zM1836 2156h73v2h-73zM1836 2217h73v5h-73zM1836 2237h73v3h-73zM1836 2264h73v2h-73zM1836 2302h73v2h-73zM1836 2321h73v6h-73zM1836 2340h73v3h-73zM1909 906h73v2h-73zM1909 935h73v6h-73zM1909 1066h73v4h-73zM1909 1106h73v5h-73zM1909 1381h73v4h-73zM1909 1650h73v3h-73zM1909 1686h73v3h-73zM1909 1744h73v4h-73zM1909 1798h73v11h-73zM1909 1841h73v4h-73zM1909 1900h73v4h-73zM1909 2138h73v4h-73zM1909 2282h73v11h-73zM1909 2318h73v3h-73zM1909 2340h73v3h-73zM1982 1102h73v4h-73zM1982 1201h73v7h-73zM1982 1228h73v3h-73zM1982 1233h73v4h-73zM1982 1352h73v5h-73zM1982 1572h73v7h-73zM1982 1705h73v6h-73zM1982 1713h73v4h-73zM1982 1727h73v3h-73zM1982 1836h73v5h-73zM1982 1913h73v4h-73zM1982 1951h73v3h-73zM1982 2167h73v7h-73zM1982 2282h73v6h-73zM2055 874h72v4h-72zM2055 885h72v2h-72zM2055 920h72v3h-72zM2055 927h72v8h-72zM2055 961h72v3h-72zM2055 989h72v3h-72zM2055 1032h72v5h-72zM2055 1077h72v3h-72zM2055 1570h72v2h-72zM2055 1588h72v3h-72zM2055 1645h72v5h-72zM2055 1661h72v5h-72zM2055 1680h72v3h-72zM2055 1711h72v2h-72zM2055 1727h72v3h-72zM2055 1736h72v8h-72zM2055 1765h72v3h-72zM2055 1776h72v12h-72zM2055 1817h72v5h-72zM2055 1845h72v2h-72zM2055 1886h72v4h-72zM2055 1904h72v5h-72zM2055 1933h72v7h-72zM2055 2015h72v3h-72zM2055 2209h72v6h-72zM2055 2255h72v3h-72zM2055 2308h72v4h-72zM2127 932h73v3h-73zM2127 961h73v3h-73zM2127 989h73v3h-73zM2127 1001h73v7h-73zM2127 1345h73v4h-73zM2127 1738h73v6h-73zM2127 1765h73v3h-73zM2127 1788h73v6h-73zM2127 1897h73v3h-73zM2127 1913h73v4h-73zM2127 1942h73v5h-73zM2127 1954h73v3h-73zM2127 1962h73v4h-73zM2127 1974h73v5h-73zM2127 2056h73v3h-73zM2127 2123h73v4h-73zM2127 2222h73v3h-73zM2200 871h73v3h-73zM2200 885h73v2h-73zM2200 894h73v7h-73zM2200 941h73v3h-73zM2200 1077h73v3h-73zM2200 1102h73v4h-73zM2200 1115h73v7h-73zM2200 1142h73v4h-73zM2200 1177h73v4h-73zM2200 1565h73v2h-73zM2200 1570h73v2h-73zM2200 1705h73v8h-73zM2200 1723h73v7h-73zM2200 1738h73v6h-73zM2200 1761h73v4h-73zM2200 1817h73v5h-73zM2200 1826h73v10h-73zM2200 1957h73v5h-73zM2200 2078h73v3h-73zM2200 2203h73v6h-73zM2200 2222h73v3h-73zM2200 2248h73v7h-73zM2200 2276h73v6h-73zM2200 2321h73v6h-73zM2273 981h73v8h-73zM2273 1304h73v4h-73zM2273 1661h73v5h-73zM2273 1761h73v7h-73zM2273 1873h73v4h-73zM2273 1900h73v4h-73zM2273 1917h73v4h-73zM2273 2015h73v3h-73zM2273 2209h73v6h-73zM2273 2255h73v3h-73zM2273 2316h73v2h-73zM2273 2327h73v5h-73zM2346 932h72v3h-72zM2346 955h72v6h-72zM2346 964h72v3h-72zM2346 981h72v4h-72zM2346 1008h72v9h-72zM2346 1032h72v5h-72zM2346 1106h72v5h-72zM2346 1128h72v11h-72zM2346 1765h72v3h-72zM2346 1772h72v4h-72zM2346 1817h72v5h-72zM2346 1849h72v4h-72zM2346 1886h72v4h-72zM2346 1954h72v3h-72zM2346 2047h72v5h-72zM2346 2076h72v2h-72zM2346 2117h72v6h-72zM2346 2217h72v5h-72zM2346 2258h72v6h-72zM2346 2312h72v4h-72z"/>
<path fill="#b85d6f" d="M672 814h73v8h-73zM672 1676h73v4h-73zM672 1744h73v4h-73zM672 1788h73v6h-73zM672 1957h73v5h-73zM672 1971h73v3h-73zM672 1996h73v5h-73zM672 2052h73v4h-73zM745 794h73v6h-73zM745 885h73v2h-73zM745 1058h73v4h-73zM745 1291h73v2h-73zM745 1543h73v5h-73zM745 1551h73v3h-73zM745 1697h73v5h-73zM745 1761h73v4h-73zM745 1772h73v4h-73zM745 1933h73v7h-73zM745 1974h73v5h-73zM745 2138h73v10h-73zM745 2153h73v3h-73zM818 848h72v3h-72zM818 998h72v3h-72zM818 1037h72v4h-72zM818 1426h72v4h-72zM818 1579h72v3h-72zM818 1602h72v2h-72zM818 1776h72v6h-72zM818 1862h72v4h-72zM818 1873h72v4h-72zM818 1900h72v4h-72zM818 1942h72v5h-72zM818 1962h72v4h-72zM818 2148h72v5h-72zM818 2167h72v7h-72zM818 2180h72v5h-72zM818 2327h72v5h-72zM890 901h73v5h-73zM890 908h73v4h-73zM890 1125h73v3h-73zM890 1139h73v3h-73zM890 1228h73v3h-73zM890 1258h73v4h-73zM890 1705h73v6h-73zM890 1957h73v5h-73zM890 1974h73v5h-73zM890 1983h73v3h-73zM890 2243h73v5h-73zM963 789h73v2h-73zM963 848h73v3h-73zM963 932h73v3h-73zM963 992h73v6h-73zM963 1053h73v5h-73zM963 1066h73v7h-73zM963 1115h73v10h-73zM963 1149h73v5h-73zM963 1201h73v7h-73zM963 1262h73v2h-73zM963 1304h73v4h-73zM963 1419h73v3h-73zM963 1680h73v3h-73zM963 1697h73v5h-73zM963 1711h73v2h-73zM963 1723h73v4h-73zM963 1788h73v6h-73zM963 1817h73v5h-73zM963 1830h73v6h-73zM963 1849h73v4h-73zM963 1862h73v4h-73zM963 1890h73v3h-73zM963 1897h73v3h-73zM963 1904h73v5h-73zM963 1917h73v4h-73zM963 1991h73v5h-73zM963 2040h73v7h-73zM963 2087h73v3h-73zM963 2194h73v6h-73zM963 2255h73v3h-73zM963 2293h73v3h-73zM1036 777h73v4h-73zM1036 784h73v5h-73zM1036 836h73v5h-73zM1036 857h73v5h-73zM1036 864h73v7h-73zM1036 920h73v3h-73zM1036 944h73v7h-73zM1036 974h73v7h-73zM1036 985h73v7h-73zM1036 1111h73v11h-73zM1036 1128h73v6h-73zM1036 1276h73v7h-73zM1036 1591h73v4h-73zM1036 1645h73v5h-73zM1036 1653h73v3h-73zM1036 2025h73v5h-73zM1036 2081h73v6h-73zM1036 2308h73v4h-73zM1036 2316h73v2h-73zM1036 2340h73v3h-73zM1109 791h72v3h-72zM1109 1219h72v9h-72zM1109 1618h72v5h-72zM1109 1671h72v9h-72zM1109 1723h72v7h-72zM1109 1755h72v10h-72zM1109 1882h72v4h-72zM1109 1890h72v3h-72zM1109 2266h72v4h-72zM1109 2316h72v2h-72zM1181 841h73v3h-73zM1181 914h73v6h-73zM1181 932h73v3h-73zM1181 985h73v4h-73zM1181 1021h73v5h-73zM1181 1058h73v4h-73zM1181 1213h73v3h-73zM1181 1231h73v2h-73zM1181 1283h73v3h-73zM1181 1291h73v6h-73zM1181 1313h73v5h-73zM1181 1748h73v3h-73zM1181 1776h73v6h-73zM1181 1830h73v6h-73zM1181 1866h73v7h-73zM1181 1917h73v4h-73zM1181 2033h73v7h-73zM1181 2078h73v3h-73zM1181 2087h73v3h-73zM1181 2232h73v2h-73zM1181 2270h73v6h-73zM1254 831h73v5h-73zM1254 1283h73v3h-73zM1254 1293h73v4h-73zM1254 1671h73v5h-73zM1254 2127h73v7h-73zM1327 1017h73v4h-73zM1327 1053h73v5h-73zM1327 1091h73v6h-73zM1327 1161h73v3h-73zM1327 1185h73v4h-73zM1327 1286h73v5h-73zM1327 1345h73v4h-73zM1327 1983h73v3h-73zM1327 2095h73v4h-73zM1400 781h72v3h-72zM1400 844h72v4h-72zM1400 1008h72v9h-72zM1400 1128h72v6h-72zM1400 1262h72v2h-72zM1400 1397h72v4h-72zM1400 1602h72v2h-72zM1400 2248h72v7h-72zM1472 803h73v4h-73zM1472 831h73v5h-73zM1472 841h73v3h-73zM1472 857h73v5h-73zM1472 864h73v7h-73zM1472 941h73v3h-73zM1472 1026h73v6h-73zM1472 1053h73v5h-73zM1472 1308h73v5h-73zM1472 1572h73v7h-73zM1472 1611h73v7h-73zM1472 1661h73v10h-73zM1472 1723h73v4h-73zM1472 1841h73v4h-73zM1472 1847h73v2h-73zM1472 1893h73v4h-73zM1472 1900h73v4h-73zM1472 1913h73v4h-73zM1472 1979h73v4h-73zM1472 2276h73v6h-73zM1472 2308h73v4h-73zM1472 2318h73v3h-73zM1545 822h73v4h-73zM1545 1213h73v3h-73zM1545 1264h73v5h-73zM1545 1313h73v5h-73zM1545 1422h73v4h-73zM1545 1432h73v3h-73zM1545 1512h73v5h-73zM1545 1532h73v4h-73zM1545 1607h73v4h-73zM1545 2052h73v4h-73zM1545 2162h73v5h-73zM1618 777h73v4h-73zM1618 814h73v2h-73zM1618 1269h73v4h-73zM1618 1308h73v5h-73zM1618 1339h73v6h-73zM1618 1407h73v5h-73zM1618 1512h73v5h-73zM1618 1626h73v4h-73zM1618 1671h73v5h-73zM1691 1102h73v4h-73zM1691 1142h73v4h-73zM1691 1301h73v3h-73zM1691 1308h73v5h-73zM1691 1372h73v4h-73zM1691 1484h73v2h-73zM1691 1512h73v13h-73zM1691 1588h73v3h-73zM1691 1634h73v7h-73zM1764 927h72v5h-72zM1764 1146h72v3h-72zM1764 1161h72v3h-72zM1764 1208h72v5h-72zM1764 1273h72v3h-72zM1764 1283h72v3h-72zM1764 1304h72v4h-72zM1764 1363h72v4h-72zM1764 1419h72v3h-72zM1764 1532h72v4h-72zM1764 1604h72v7h-72zM1764 1826h72v4h-72zM1764 1853h72v5h-72zM1764 1882h72v4h-72zM1764 2264h72v2h-72zM1836 789h73v2h-73zM1836 807h73v7h-73zM1836 1532h73v4h-73zM1836 2004h73v3h-73zM1836 2123h73v4h-73zM1909 777h73v4h-73zM1909 789h73v2h-73zM1909 848h73v3h-73zM1909 1363h73v4h-73zM1909 1419h73v3h-73zM1909 1426h73v4h-73zM1909 1484h73v2h-73zM1909 1611h73v7h-73zM1909 2076h73v2h-73zM1982 1283h73v3h-73zM1982 1318h73v5h-73zM1982 1582h73v6h-73zM2055 1237h72v7h-72zM2055 1349h72v3h-72zM2055 1446h72v11h-72zM2055 1512h72v5h-72zM2055 2162h72v5h-72zM2055 2191h72v3h-72zM2127 777h73v4h-73zM2127 1297h73v4h-73zM2127 1308h73v5h-73zM2127 1502h73v5h-73zM2127 1520h73v5h-73zM2127 1554h73v4h-73zM2127 1656h73v5h-73zM2127 1666h73v5h-73zM2127 2004h73v3h-73zM2200 1264h73v5h-73zM2200 1273h73v3h-73zM2200 1283h73v8h-73zM2200 1297h73v4h-73zM2200 1318h73v5h-73zM2200 1388h73v3h-73zM2200 1517h73v3h-73zM2200 2099h73v4h-73zM2273 1077h73v3h-73zM2273 1313h73v5h-73zM2273 1339h73v6h-73zM2273 1426h73v4h-73zM2273 1435h73v5h-73zM2273 1512h73v5h-73zM2273 1579h73v9h-73zM2273 1991h73v5h-73zM2346 1216h72v3h-72zM2346 1231h72v2h-72zM2346 1318h72v5h-72zM2346 1372h72v4h-72zM2346 1391h72v3h-72zM2346 1468h72v3h-72zM2346 1512h72v5h-72zM2346 1532h72v4h-72zM2346 1611h72v7h-72zM2346 2030h72v3h-72zM2346 2071h72v3h-72z"/>
<path fill="#b26b7a" d="M672 822h73v4h-73zM672 1283h73v3h-73zM672 1776h73v6h-73zM672 1974h73v5h-73zM672 1986h73v5h-73zM672 2013h73v5h-73zM672 2156h73v2h-73zM672 2167h73v7h-73zM672 2200h73v3h-73zM672 2222h73v3h-73zM672 2340h73v3h-73zM745 1301h73v3h-73zM745 1308h73v5h-73zM745 1676h73v4h-73zM745 1711h73v2h-73zM745 1765h73v3h-73zM745 1817h73v5h-73zM745 1847h73v2h-73zM745 1942h73v5h-73zM745 1966h73v5h-73zM745 2316h73v2h-73zM818 1269h72v7h-72zM818 1536h72v3h-72zM818 1966h72v5h-72zM818 2185h72v6h-72zM818 2217h72v5h-72zM818 2316h72v2h-72zM890 791h73v3h-73zM890 1062h73v8h-73zM890 1264h73v5h-73zM890 1297h73v7h-73zM890 1426h73v4h-73zM890 1588h73v7h-73zM890 1604h73v3h-73zM890 1689h73v4h-73zM890 1713h73v4h-73zM890 1897h73v3h-73zM890 1909h73v4h-73zM890 1926h73v7h-73zM963 941h73v3h-73zM963 951h73v4h-73zM963 1021h73v11h-73zM963 1037h73v4h-73zM963 1128h73v6h-73zM963 1154h73v5h-73zM963 1161h73v3h-73zM963 1213h73v3h-73zM963 1228h73v3h-73zM963 1308h73v5h-73zM963 1548h73v3h-73zM963 1656h73v5h-73zM963 1702h73v3h-73zM963 1727h73v3h-73zM963 1751h73v4h-73zM963 1768h73v4h-73zM963 1826h73v4h-73zM963 1858h73v4h-73zM963 1926h73v7h-73zM963 2343h73v5h-73zM1036 841h73v3h-73zM1036 862h73v2h-73zM1036 874h73v4h-73zM1036 914h73v6h-73zM1036 923h73v9h-73zM1036 951h73v4h-73zM1036 967h73v7h-73zM1036 992h73v9h-73zM1036 1041h73v5h-73zM1036 1066h73v7h-73zM1036 1102h73v9h-73zM1036 1125h73v3h-73zM1036 1177h73v8h-73zM1036 1293h73v4h-73zM1036 1301h73v3h-73zM1036 1308h73v5h-73zM1036 1323h73v3h-73zM1036 1397h73v4h-73zM1036 1618h73v8h-73zM1036 1656h73v5h-73zM1036 1802h73v7h-73zM1036 1877h73v5h-73zM1036 1897h73v3h-73zM1036 1926h73v7h-73zM1036 2237h73v3h-73zM1109 800h72v7h-72zM1109 1201h72v7h-72zM1109 1286h72v5h-72zM1109 1301h72v3h-72zM1109 1412h72v7h-72zM1109 1565h72v2h-72zM1109 1626h72v4h-72zM1109 1680h72v3h-72zM1109 1702h72v3h-72zM1109 1711h72v2h-72zM1109 1776h72v6h-72zM1109 1951h72v6h-72zM1109 1983h72v3h-72zM1109 2308h72v4h-72zM1109 2338h72v2h-72zM1181 1233h73v4h-73zM1181 1339h73v6h-73zM1181 1446h73v4h-73zM1181 1641h73v4h-73zM1181 1661h73v10h-73zM1181 1676h73v4h-73zM1181 1705h73v6h-73zM1181 1744h73v4h-73zM1181 1765h73v3h-73zM1181 1782h73v12h-73zM1181 1862h73v4h-73zM1181 1893h73v4h-73zM1181 1913h73v4h-73zM1181 1933h73v7h-73zM1181 1947h73v4h-73zM1181 1986h73v5h-73zM1181 2215h73v7h-73zM1254 1223h73v5h-73zM1254 1676h73v4h-73zM1254 1951h73v3h-73zM1254 2148h73v5h-73zM1327 836h73v5h-73zM1327 844h73v4h-73zM1327 1026h73v6h-73zM1327 1122h73v6h-73zM1327 1146h73v3h-73zM1327 1177h73v4h-73zM1327 1264h73v5h-73zM1327 1283h73v3h-73zM1327 1291h73v2h-73zM1327 1304h73v4h-73zM1327 1326h73v3h-73zM1327 1397h73v4h-73zM1327 1464h73v4h-73zM1327 1738h73v6h-73zM1327 2078h73v3h-73zM1400 784h72v5h-72zM1400 1026h72v6h-72zM1400 1115h72v7h-72zM1400 1154h72v7h-72zM1400 1237h72v7h-72zM1400 1258h72v4h-72zM1400 1339h72v10h-72zM1400 1802h72v7h-72zM1400 1866h72v7h-72zM1400 2316h72v2h-72zM1472 826h73v2h-73zM1472 1213h73v3h-73zM1472 1233h73v4h-73zM1472 1283h73v3h-73zM1472 1313h73v5h-73zM1472 1334h73v5h-73zM1472 1401h73v6h-73zM1472 1604h73v3h-73zM1472 1656h73v5h-73zM1472 1727h73v3h-73zM1472 1836h73v5h-73zM1472 1845h73v2h-73zM1472 1866h73v7h-73zM1472 1882h73v4h-73zM1472 1917h73v4h-73zM1472 2095h73v4h-73zM1545 784h73v5h-73zM1545 816h73v6h-73zM1545 851h73v6h-73zM1545 1273h73v3h-73zM1545 1394h73v3h-73zM1545 1419h73v3h-73zM1545 1502h73v10h-73zM1545 2033h73v7h-73zM1618 816h73v6h-73zM1618 1273h73v3h-73zM1618 1376h73v9h-73zM1618 1611h73v7h-73zM1691 927h73v5h-73zM1691 1080h73v7h-73zM1691 1091h73v6h-73zM1691 1115h73v7h-73zM1691 1149h73v5h-73zM1691 1159h73v2h-73zM1691 1419h73v7h-73zM1691 1502h73v5h-73zM1691 1650h73v3h-73zM1764 874h72v4h-72zM1764 894h72v7h-72zM1764 1164h72v13h-72zM1764 1213h72v3h-72zM1764 1228h72v3h-72zM1764 1349h72v3h-72zM1764 1422h72v4h-72zM1764 1450h72v7h-72zM1764 1525h72v5h-72zM1764 1650h72v3h-72zM1764 1693h72v4h-72zM1764 2001h72v3h-72zM1836 1216h73v3h-73zM1836 1326h73v3h-73zM1836 1450h73v7h-73zM1836 1520h73v5h-73zM1836 1572h73v7h-73zM1836 1666h73v10h-73zM1909 1223h73v5h-73zM1909 1339h73v6h-73zM1909 1357h73v6h-73zM1909 1432h73v8h-73zM1909 1525h73v5h-73zM1909 1618h73v5h-73zM1909 1626h73v8h-73zM1982 784h73v5h-73zM1982 1066h73v4h-73zM1982 1181h73v4h-73zM1982 1372h73v4h-73zM1982 1588h73v3h-73zM2055 816h72v6h-72zM2055 831h72v5h-72zM2055 848h72v3h-72zM2055 2071h72v3h-72zM2127 1196h73v5h-73zM2127 1216h73v3h-73zM2127 1301h73v3h-73zM2127 1313h73v5h-73zM2127 1407h73v5h-73zM2127 1512h73v5h-73zM2127 1525h73v5h-73zM2127 1551h73v3h-73zM2127 1591h73v4h-73zM2127 1661h73v5h-73zM2127 1671h73v5h-73zM2127 2348h73v1h-73zM2200 807h73v7h-73zM2200 1216h73v3h-73zM2200 1269h73v4h-73zM2200 1349h73v3h-73zM2200 1401h73v4h-73zM2200 1532h73v4h-73zM2200 1626h73v4h-73zM2200 2030h73v3h-73zM2200 2142h73v6h-73zM2200 2174h73v6h-73zM2200 2191h73v3h-73zM2273 794h73v6h-73zM2273 816h73v6h-73zM2273 831h73v5h-73zM2273 941h73v3h-73zM2273 1146h73v3h-73zM2273 1177h73v4h-73zM2273 1201h73v7h-73zM2273 1258h73v4h-73zM2273 1352h73v5h-73zM2273 1517h73v8h-73zM2273 1530h73v2h-73zM2273 1588h73v3h-73zM2273 2056h73v3h-73zM2346 784h72v5h-72zM2346 828h72v3h-72zM2346 1249h72v4h-72zM2346 1262h72v2h-72zM2346 1269h72v4h-72zM2346 1388h72v3h-72zM2346 1407h72v5h-72zM2346 1520h72v5h-72zM2346 1551h72v3h-72zM2346 1588h72v3h-72z"/>
<path fill="#786ea1" d="M672 828h73v3h-73zM672 1329h73v5h-73zM672 1376h73v5h-73zM672 2040h73v7h-73zM672 2071h73v3h-73zM672 2076h73v11h-73zM672 2099h73v4h-73zM672 2148h73v5h-73zM672 2282h73v6h-73zM672 2338h73v2h-73zM745 791h73v3h-73zM745 1376h73v5h-73zM745 1520h73v5h-73zM745 2056h73v3h-73zM745 2087h73v3h-73zM745 2105h73v4h-73zM745 2180h73v5h-73zM745 2304h73v4h-73zM818 781h72v3h-72zM818 800h72v3h-72zM818 814h72v2h-72zM818 1219h72v4h-72zM818 1313h72v5h-72zM818 2030h72v3h-72zM818 2076h72v2h-72zM818 2134h72v8h-72zM818 2302h72v2h-72zM890 1381h73v4h-73zM890 1391h73v3h-73zM890 1484h73v2h-73zM890 1497h73v5h-73zM890 1630h73v4h-73zM890 1671h73v5h-73zM890 2025h73v8h-73zM890 2040h73v7h-73zM890 2180h73v5h-73zM890 2225h73v7h-73zM890 2304h73v4h-73zM963 2059h73v6h-73zM963 2180h73v5h-73zM963 2191h73v3h-73zM963 2327h73v5h-73zM1036 807h73v7h-73zM1036 1486h73v5h-73zM1036 2071h73v3h-73zM1036 2078h73v3h-73zM1036 2113h73v4h-73zM1036 2156h73v2h-73zM1036 2180h73v5h-73zM1036 2191h73v9h-73zM1036 2217h73v5h-73zM1036 2282h73v6h-73zM1109 1339h72v6h-72zM1109 1352h72v5h-72zM1109 1363h72v4h-72zM1109 1372h72v4h-72zM1109 1385h72v3h-72zM1109 1497h72v5h-72zM1109 2007h72v3h-72zM1109 2071h72v3h-72zM1109 2076h72v2h-72zM1109 2099h72v4h-72zM1109 2156h72v2h-72zM1109 2203h72v6h-72zM1109 2264h72v2h-72zM1181 803h73v4h-73zM1181 1376h73v5h-73zM1181 2056h73v3h-73zM1181 2095h73v4h-73zM1181 2105h73v4h-73zM1254 807h73v7h-73zM1254 1372h73v4h-73zM1254 1653h73v3h-73zM1254 2090h73v5h-73zM1254 2109h73v8h-73zM1254 2134h73v4h-73zM1254 2158h73v4h-73zM1254 2174h73v6h-73zM1254 2266h73v4h-73zM1327 800h73v3h-73zM1327 826h73v2h-73zM1327 1507h73v5h-73zM1327 1520h73v5h-73zM1327 1645h73v5h-73zM1327 1676h73v4h-73zM1327 1697h73v5h-73zM1327 1900h73v4h-73zM1327 1909h73v4h-73zM1327 2013h73v2h-73zM1327 2018h73v7h-73zM1327 2074h73v2h-73zM1327 2148h73v5h-73zM1327 2162h73v5h-73zM1327 2282h73v6h-73zM1327 2304h73v4h-73zM1400 1630h72v4h-72zM1400 1942h72v5h-72zM1400 1979h72v4h-72zM1400 2134h72v4h-72zM1400 2258h72v6h-72zM1400 2288h72v5h-72zM1400 2321h72v6h-72zM1472 1269h73v4h-73zM1472 1357h73v10h-73zM1472 1394h73v3h-73zM1472 1591h73v4h-73zM1472 2040h73v7h-73zM1472 2074h73v2h-73zM1472 2090h73v5h-73zM1472 2217h73v5h-73zM1472 2293h73v3h-73zM1545 814h73v2h-73zM1545 1058h73v4h-73zM1545 1676h73v4h-73zM1545 1689h73v4h-73zM1545 1723h73v4h-73zM1545 1768h73v4h-73zM1545 1822h73v4h-73zM1545 1877h73v5h-73zM1545 1900h73v9h-73zM1545 1933h73v7h-73zM1545 1947h73v4h-73zM1545 1957h73v5h-73zM1545 2090h73v5h-73zM1545 2099h73v4h-73zM1545 2113h73v4h-73zM1545 2194h73v6h-73zM1545 2215h73v2h-73zM1545 2264h73v2h-73zM1545 2293h73v3h-73zM1545 2302h73v2h-73zM1545 2327h73v5h-73zM1618 789h73v2h-73zM1618 874h73v4h-73zM1618 912h73v2h-73zM1618 927h73v5h-73zM1618 967h73v7h-73zM1618 1041h73v12h-73zM1618 1676h73v4h-73zM1618 1788h73v6h-73zM1618 1847h73v2h-73zM1618 1886h73v4h-73zM1618 1933h73v7h-73zM1618 1951h73v3h-73zM1618 1957h73v5h-73zM1618 1983h73v3h-73zM1618 2007h73v3h-73zM1618 2013h73v12h-73zM1618 2030h73v3h-73zM1618 2047h73v5h-73zM1618 2090h73v5h-73zM1618 2138h73v4h-73zM1618 2148h73v5h-73zM1618 2158h73v4h-73zM1618 2194h73v6h-73zM1618 2222h73v3h-73zM1618 2234h73v3h-73zM1691 974h73v7h-73zM1691 1008h73v9h-73zM1691 1702h73v3h-73zM1691 1738h73v6h-73zM1691 1765h73v3h-73zM1691 1942h73v5h-73zM1691 1957h73v5h-73zM1691 1974h73v5h-73zM1691 1986h73v5h-73zM1691 1996h73v5h-73zM1691 2004h73v3h-73zM1691 2013h73v2h-73zM1691 2056h73v3h-73zM1691 2090h73v5h-73zM1691 2225h73v7h-73zM1691 2270h73v6h-73zM1691 2302h73v2h-73zM1691 2312h73v4h-73zM1691 2321h73v6h-73zM1691 2343h73v5h-73zM1764 1572h72v7h-72zM1764 2059h72v12h-72zM1764 2123h72v4h-72zM1764 2234h72v6h-72zM1764 2332h72v6h-72zM1764 2340h72v3h-72zM1836 777h73v4h-73zM1836 935h73v6h-73zM1836 944h73v7h-73zM1836 974h73v7h-73zM1836 1032h73v5h-73zM1836 1258h73v4h-73zM1836 1419h73v3h-73zM1836 1717h73v6h-73zM1836 1730h73v6h-73zM1836 1782h73v6h-73zM1836 1813h73v4h-73zM1836 1822h73v4h-73zM1836 1830h73v6h-73zM1836 1904h73v9h-73zM1836 1917h73v4h-73zM1836 1951h73v3h-73zM1836 1957h73v5h-73zM1836 1986h73v5h-73zM1836 2030h73v3h-73zM1836 2109h73v4h-73zM1836 2232h73v2h-73zM1836 2270h73v6h-73zM1836 2282h73v6h-73zM1836 2327h73v5h-73zM1909 791h73v3h-73zM1909 944h73v7h-73zM1909 1539h73v4h-73zM1909 1761h73v4h-73zM1909 1845h73v2h-73zM1909 1893h73v4h-73zM1909 1904h73v5h-73zM1909 1954h73v3h-73zM1909 1962h73v4h-73zM1909 2001h73v3h-73zM1909 2013h73v2h-73zM1909 2030h73v3h-73zM1909 2148h73v5h-73zM1909 2162h73v5h-73zM1909 2180h73v11h-73zM1909 2234h73v3h-73zM1909 2240h73v15h-73zM1909 2312h73v4h-73zM1982 894h73v7h-73zM1982 1339h73v6h-73zM1982 1618h73v5h-73zM1982 1841h73v4h-73zM1982 1847h73v2h-73zM1982 1897h73v3h-73zM1982 1933h73v7h-73zM1982 1974h73v5h-73zM1982 2074h73v2h-73zM1982 2090h73v5h-73zM1982 2180h73v5h-73zM1982 2237h73v6h-73zM1982 2258h73v6h-73zM1982 2293h73v3h-73zM2055 894h72v7h-72zM2055 1001h72v7h-72zM2055 1010h72v7h-72zM2055 1087h72v10h-72zM2055 1106h72v5h-72zM2055 1115h72v7h-72zM2055 1376h72v5h-72zM2055 1650h72v3h-72zM2055 1683h72v3h-72zM2055 1702h72v3h-72zM2055 1813h72v4h-72zM2055 1822h72v4h-72zM2055 1974h72v5h-72zM2055 2013h72v2h-72zM2055 2018h72v7h-72zM2055 2052h72v4h-72zM2055 2127h72v7h-72zM2055 2138h72v10h-72zM2055 2153h72v3h-72zM2055 2180h72v11h-72zM2055 2237h72v3h-72zM2055 2288h72v5h-72zM2055 2348h72v1h-72zM2127 1326h73v3h-73zM2127 1419h73v3h-73zM2127 1697h73v5h-73zM2127 1748h73v3h-73zM2127 1947h73v7h-73zM2127 1957h73v5h-73zM2127 1966h73v5h-73zM2127 1986h73v5h-73zM2127 2015h73v3h-73zM2127 2099h73v4h-73zM2127 2117h73v6h-73zM2127 2200h73v3h-73zM2127 2240h73v3h-73zM2127 2248h73v7h-73zM2127 2258h73v6h-73zM2127 2321h73v6h-73zM2200 901h73v5h-73zM2200 935h73v6h-73zM2200 1066h73v4h-73zM2200 1091h73v6h-73zM2200 1106h73v5h-73zM2200 1125h73v3h-73zM2200 1185h73v4h-73zM2200 1676h73v4h-73zM2200 1713h73v4h-73zM2200 1765h73v3h-73zM2200 1836h73v9h-73zM2200 1853h73v5h-73zM2200 1873h73v4h-73zM2200 1882h73v4h-73zM2200 1909h73v4h-73zM2200 1917h73v4h-73zM2200 1962h73v4h-73zM2200 1983h73v8h-73zM2200 1996h73v5h-73zM2200 2007h73v3h-73zM2200 2059h73v6h-73zM2200 2090h73v5h-73zM2200 2105h73v4h-73zM2200 2194h73v6h-73zM2200 2282h73v6h-73zM2200 2302h73v2h-73zM2200 2308h73v4h-73zM2273 1066h73v4h-73zM2273 1293h73v4h-73zM2273 1666h73v5h-73zM2273 1676h73v7h-73zM2273 1686h73v3h-73zM2273 1693h73v4h-73zM2273 1717h73v6h-73zM2273 1909h73v4h-73zM2273 1933h73v7h-73zM2273 2078h73v3h-73zM2273 2203h73v6h-73zM2273 2215h73v10h-73zM2273 2232h73v2h-73zM2273 2270h73v6h-73zM2273 2282h73v14h-73zM2273 2302h73v6h-73zM2273 2340h73v3h-73zM2273 2348h73v1h-73zM2346 914h72v6h-72zM2346 923h72v4h-72zM2346 941h72v3h-72zM2346 974h72v7h-72zM2346 1046h72v7h-72zM2346 1572h72v7h-72zM2346 1689h72v4h-72zM2346 1776h72v12h-72zM2346 1802h72v7h-72zM2346 1822h72v4h-72zM2346 1836h72v5h-72zM2346 1845h72v2h-72zM2346 1858h72v8h-72zM2346 1882h72v4h-72zM2346 1917h72v4h-72zM2346 1966h72v5h-72zM2346 2087h72v3h-72zM2346 2103h72v2h-72zM2346 2109h72v4h-72zM2346 2127h72v7h-72zM2346 2200h72v3h-72zM2346 2225h72v7h-72zM2346 2255h72v3h-72zM2346 2264h72v2h-72zM2346 2316h72v2h-72zM2346 2338h72v2h-72zM2346 2348h72v1h-72z"/>
<path fill="#cf1e3d" d="M672 836h73v5h-73zM672 894h73v7h-73zM672 941h73v3h-73zM672 974h73v7h-73zM672 1139h73v3h-73zM672 1149h73v5h-73zM672 1570h73v2h-73zM672 1595h73v7h-73zM672 1607h73v4h-73zM672 1653h73v3h-73zM745 2158h73v4h-73zM818 932h72v3h-72zM818 961h72v3h-72zM818 967h72v7h-72zM818 985h72v4h-72zM818 1073h72v7h-72zM818 1748h72v3h-72zM818 1755h72v10h-72zM818 1802h72v7h-72zM818 1822h72v4h-72zM890 964h73v3h-73zM890 974h73v7h-73zM890 985h73v4h-73zM890 1077h73v3h-73zM890 1185h73v4h-73zM890 1595h73v7h-73zM963 1276h73v7h-73zM963 1286h73v5h-73zM1109 964h72v3h-72zM1109 1032h72v5h-72zM1109 1080h72v7h-72zM1109 1177h72v4h-72zM1181 874h73v4h-73zM1181 961h73v3h-73zM1181 1087h73v4h-73zM1181 1262h73v2h-73zM1254 871h73v3h-73zM1254 932h73v3h-73zM1254 967h73v7h-73zM1254 981h73v4h-73zM1254 989h73v3h-73zM1254 1046h73v7h-73zM1254 1066h73v4h-73zM1254 1822h73v4h-73zM1254 1862h73v4h-73zM1254 1897h73v3h-73zM1327 1650h73v3h-73zM1400 1634h72v7h-72zM1400 1653h72v3h-72zM1400 1996h72v5h-72zM1472 1087h73v19h-73zM1472 1122h73v3h-73zM1472 1159h73v2h-73zM1472 1345h73v4h-73zM1472 1491h73v6h-73zM1472 2243h73v5h-73zM1545 1656h73v5h-73zM1618 1349h73v3h-73zM1618 1477h73v7h-73zM1618 1491h73v6h-73zM1764 1091h72v6h-72zM1764 2071h72v3h-72zM1836 1551h73v3h-73zM1982 1334h73v5h-73zM2055 1363h72v4h-72zM2055 1457h72v7h-72zM2055 1468h72v3h-72zM2200 1329h73v5h-73z"/>
<path fill="#c43c57" d="M672 841h73v3h-73zM672 857h73v5h-73zM672 871h73v3h-73zM672 932h73v3h-73zM672 951h73v4h-73zM672 967h73v7h-73zM672 998h73v3h-73zM672 1017h73v4h-73zM672 1062h73v4h-73zM672 1070h73v3h-73zM672 1304h73v4h-73zM672 1579h73v3h-73zM672 1626h73v4h-73zM672 1705h73v8h-73zM672 1717h73v6h-73zM672 1738h73v6h-73zM672 1849h73v4h-73zM672 1858h73v4h-73zM672 1866h73v7h-73zM672 1913h73v8h-73zM672 2010h73v3h-73zM672 2194h73v6h-73zM672 2234h73v3h-73zM745 789h73v2h-73zM745 831h73v5h-73zM745 848h73v9h-73zM745 955h73v6h-73zM745 967h73v7h-73zM745 989h73v3h-73zM745 998h73v3h-73zM745 1041h73v5h-73zM745 1106h73v5h-73zM745 1142h73v4h-73zM745 1161h73v9h-73zM745 1189h73v7h-73zM745 1219h73v4h-73zM745 1536h73v3h-73zM745 1591h73v4h-73zM745 1802h73v7h-73zM745 1890h73v3h-73zM745 1979h73v4h-73zM745 2001h73v3h-73zM745 2025h73v5h-73zM745 2156h73v2h-73zM818 816h72v10h-72zM818 857h72v5h-72zM818 885h72v2h-72zM818 927h72v5h-72zM818 955h72v6h-72zM818 992h72v6h-72zM818 1010h72v7h-72zM818 1026h72v6h-72zM818 1102h72v9h-72zM818 1262h72v2h-72zM818 1744h72v4h-72zM818 1913h72v8h-72zM818 2209h72v6h-72zM890 816h73v6h-73zM890 831h73v5h-73zM890 844h73v4h-73zM890 857h73v5h-73zM890 864h73v7h-73zM890 894h73v7h-73zM890 1010h73v7h-73zM890 1046h73v7h-73zM890 1106h73v5h-73zM890 1142h73v4h-73zM890 1161h73v3h-73zM890 1223h73v5h-73zM890 1738h73v6h-73zM890 1768h73v4h-73zM890 1822h73v4h-73zM890 1877h73v5h-73zM890 1893h73v4h-73zM890 2001h73v3h-73zM963 781h73v8h-73zM963 791h73v3h-73zM963 807h73v7h-73zM963 844h73v4h-73zM963 912h73v2h-73zM963 1062h73v4h-73zM963 1077h73v3h-73zM963 1091h73v6h-73zM963 1181h73v4h-73zM963 1216h73v3h-73zM963 1223h73v5h-73zM963 1291h73v2h-73zM963 1426h73v4h-73zM1036 1077h73v3h-73zM1036 2222h73v3h-73zM1109 887h72v7h-72zM1109 932h72v3h-72zM1109 1037h72v4h-72zM1109 1102h72v4h-72zM1109 1125h72v3h-72zM1109 1154h72v5h-72zM1109 1161h72v3h-72zM1109 1602h72v2h-72zM1109 1653h72v3h-72zM1109 1661h72v5h-72zM1109 1813h72v4h-72zM1109 1847h72v2h-72zM1109 1866h72v7h-72zM1109 1877h72v5h-72zM1109 1900h72v4h-72zM1109 1921h72v5h-72zM1181 791h73v3h-73zM1181 836h73v5h-73zM1181 887h73v7h-73zM1181 992h73v6h-73zM1181 1070h73v3h-73zM1181 1170h73v7h-73zM1181 1301h73v3h-73zM1181 1326h73v3h-73zM1181 1623h73v3h-73zM1181 1822h73v4h-73zM1181 1853h73v5h-73zM1181 2004h73v3h-73zM1181 2276h73v6h-73zM1254 794h73v6h-73zM1254 826h73v2h-73zM1254 1125h73v3h-73zM1254 1146h73v3h-73zM1254 1189h73v7h-73zM1254 1419h73v3h-73zM1254 1604h73v3h-73zM1254 1656h73v5h-73zM1254 1717h73v6h-73zM1254 1755h73v6h-73zM1254 1798h73v4h-73zM1254 1817h73v5h-73zM1254 1858h73v4h-73zM1254 1904h73v5h-73zM1254 2167h73v7h-73zM1254 2203h73v6h-73zM1254 2264h73v2h-73zM1327 789h73v2h-73zM1327 1297h73v4h-73zM1327 1536h73v3h-73zM1327 1618h73v8h-73zM1327 2105h73v4h-73zM1400 1080h72v7h-72zM1400 1611h72v7h-72zM1400 2318h72v3h-72zM1472 836h73v5h-73zM1472 874h73v4h-73zM1472 920h73v7h-73zM1472 935h73v6h-73zM1472 944h73v11h-73zM1472 961h73v3h-73zM1472 974h73v11h-73zM1472 1115h73v7h-73zM1472 1146h73v3h-73zM1472 1161h73v3h-73zM1472 1219h73v4h-73zM1472 1297h73v4h-73zM1472 1397h73v4h-73zM1472 1650h73v3h-73zM1472 2105h73v4h-73zM1545 1291h73v2h-73zM1545 1401h73v4h-73zM1545 1412h73v7h-73zM1545 1435h73v5h-73zM1545 1457h73v7h-73zM1545 2030h73v3h-73zM1618 1329h73v5h-73zM1618 1363h73v4h-73zM1618 1468h73v3h-73zM1618 1630h73v4h-73zM1618 2071h73v3h-73zM1618 2134h73v4h-73zM1691 822h73v4h-73zM1691 1323h73v3h-73zM1691 1440h73v10h-73zM1691 1457h73v7h-73zM1691 1507h73v5h-73zM1691 1595h73v7h-73zM1691 2074h73v2h-73zM1691 2203h73v6h-73zM1764 844h72v4h-72zM1764 1134h72v5h-72zM1764 1216h72v3h-72zM1764 1432h72v3h-72zM1764 1671h72v5h-72zM1764 2099h72v4h-72zM1764 2194h72v6h-72zM1764 2276h72v6h-72zM1836 1334h73v5h-73zM1836 1363h73v4h-73zM1836 1491h73v6h-73zM1836 1543h73v5h-73zM1836 1611h73v7h-73zM1836 2174h73v11h-73zM1909 1219h73v4h-73zM1909 1297h73v4h-73zM1909 1313h73v5h-73zM1909 1491h73v6h-73zM1909 2033h73v7h-73zM1982 794h73v6h-73zM1982 1446h73v4h-73zM1982 1477h73v7h-73zM1982 1486h73v11h-73zM2055 807h72v7h-72zM2055 1208h72v5h-72zM2055 1323h72v3h-72zM2055 1440h72v6h-72zM2055 1464h72v4h-72zM2055 1567h72v3h-72zM2055 1623h72v3h-72zM2127 1363h73v4h-73zM2127 1376h73v5h-73zM2127 1464h73v7h-73zM2127 1567h73v3h-73zM2200 848h73v3h-73zM2200 1249h73v4h-73zM2200 1357h73v6h-73zM2200 1422h73v4h-73zM2200 1446h73v4h-73zM2200 1464h73v4h-73zM2200 1548h73v3h-73zM2200 1595h73v7h-73zM2200 1611h73v7h-73zM2200 2134h73v4h-73zM2273 1237h73v7h-73zM2273 2343h73v5h-73zM2346 1301h72v3h-72zM2346 1308h72v5h-72zM2346 1419h72v3h-72zM2346 1430h72v5h-72zM2346 1471h72v6h-72zM2346 1567h72v3h-72zM2346 1604h72v7h-72zM2346 1623h72v3h-72zM2346 1656h72v5h-72zM2346 2010h72v3h-72zM2346 2138h72v4h-72z"/>
<path fill="#c8304d" d="M672 844h73v4h-73zM672 851h73v6h-73zM672 864h73v7h-73zM672 878h73v7h-73zM672 914h73v9h-73zM672 1008h73v2h-73zM672 1026h73v6h-73zM672 1102h73v4h-73zM672 1128h73v6h-73zM672 1146h73v3h-73zM672 1189h73v7h-73zM672 1588h73v3h-73zM672 1618h73v5h-73zM672 1634h73v7h-73zM672 1772h73v4h-73zM672 1802h73v7h-73zM672 1836h73v5h-73zM745 828h73v3h-73zM745 857h73v5h-73zM745 894h73v7h-73zM745 974h73v7h-73zM745 1146h73v3h-73zM745 1181h73v4h-73zM745 1877h73v5h-73zM745 2200h73v3h-73zM745 2248h73v7h-73zM745 2270h73v6h-73zM818 828h72v3h-72zM818 878h72v7h-72zM818 941h72v3h-72zM818 974h72v7h-72zM818 989h72v3h-72zM818 1058h72v8h-72zM818 1115h72v7h-72zM818 1134h72v5h-72zM818 1154h72v10h-72zM818 1813h72v9h-72zM818 1947h72v4h-72zM890 800h73v3h-73zM890 955h73v6h-73zM890 967h73v7h-73zM890 1001h73v9h-73zM890 1080h73v7h-73zM890 1122h73v3h-73zM890 1170h73v7h-73zM890 1181h73v4h-73zM890 1607h73v4h-73zM890 1623h73v3h-73zM890 1813h73v4h-73zM890 2237h73v3h-73zM890 2327h73v5h-73zM963 1630h73v4h-73zM963 2282h73v6h-73zM1036 1087h73v4h-73zM1036 1604h73v3h-73zM1036 1611h73v7h-73zM1036 2087h73v3h-73zM1109 841h72v7h-72zM1109 851h72v6h-72zM1109 920h72v3h-72zM1109 927h72v5h-72zM1109 967h72v14h-72zM1109 985h72v7h-72zM1109 1010h72v7h-72zM1109 1066h72v4h-72zM1109 1091h72v11h-72zM1109 1170h72v7h-72zM1109 1570h72v2h-72zM1109 1802h72v7h-72zM1109 1817h72v5h-72zM1109 1830h72v6h-72zM1109 1841h72v4h-72zM1109 1897h72v3h-72zM1109 1947h72v4h-72zM1109 2052h72v4h-72zM1109 2215h72v2h-72zM1109 2258h72v6h-72zM1181 901h73v5h-73zM1181 944h73v7h-73zM1181 1080h73v7h-73zM1181 1146h73v8h-73zM1181 1181h73v8h-73zM1181 1219h73v4h-73zM1181 1595h73v7h-73zM1181 1607h73v4h-73zM1181 1841h73v4h-73zM1254 836h73v5h-73zM1254 955h73v6h-73zM1254 998h73v3h-73zM1254 1058h73v4h-73zM1254 1128h73v6h-73zM1254 1154h73v7h-73zM1254 1607h73v11h-73zM1254 1626h73v4h-73zM1254 1813h73v4h-73zM1254 1847h73v6h-73zM1254 1873h73v4h-73zM1254 1882h73v4h-73zM1254 1909h73v4h-73zM1254 2217h73v5h-73zM1327 828h73v3h-73zM1327 1087h73v4h-73zM1327 1607h73v4h-73zM1327 2090h73v5h-73zM1327 2234h73v3h-73zM1400 791h72v3h-72zM1400 1286h72v5h-72zM1400 2004h72v3h-72zM1400 2052h72v4h-72zM1400 2065h72v6h-72zM1472 828h73v3h-73zM1472 967h73v7h-73zM1472 1139h73v7h-73zM1472 1170h73v7h-73zM1472 1634h73v7h-73zM1545 800h73v3h-73zM1545 1297h73v4h-73zM1545 1323h73v3h-73zM1545 1329h73v5h-73zM1545 1440h73v6h-73zM1545 1491h73v6h-73zM1618 1208h73v5h-73zM1618 1334h73v5h-73zM1618 1419h73v3h-73zM1618 1548h73v3h-73zM1618 2033h73v7h-73zM1691 1491h73v6h-73zM1691 1618h73v5h-73zM1691 1671h73v5h-73zM1764 1080h72v7h-72zM1764 1297h72v4h-72zM1764 1323h72v3h-72zM1764 1329h72v5h-72zM1764 1567h72v3h-72zM1836 1426h73v4h-73zM1836 1536h73v3h-73zM1836 1623h73v3h-73zM1909 1213h73v3h-73zM1909 1329h73v5h-73zM1909 2071h73v3h-73zM1982 803h73v13h-73zM1982 822h73v4h-73zM1982 828h73v3h-73zM1982 1253h73v5h-73zM2055 1435h72v5h-72zM2055 1471h72v6h-72zM2055 1484h72v2h-72zM2055 1611h72v7h-72zM2055 1630h72v4h-72zM2055 2099h72v4h-72zM2055 2340h72v3h-72zM2127 1446h73v4h-73zM2200 1435h73v5h-73zM2200 1491h73v6h-73zM2200 1567h73v3h-73zM2346 1286h72v5h-72zM2346 1323h72v3h-72zM2346 1426h72v4h-72zM2346 1464h72v4h-72z"/>
<path fill="#ca2a48" d="M672 874h73v4h-73zM672 901h73v5h-73zM672 923h73v9h-73zM672 964h73v3h-73zM672 981h73v4h-73zM672 1001h73v7h-73zM672 1041h73v5h-73zM672 1161h73v3h-73zM672 1623h73v3h-73zM672 1755h73v6h-73zM672 1798h73v4h-73zM672 1841h73v8h-73zM672 1886h73v4h-73zM672 1893h73v4h-73zM672 2004h73v3h-73zM745 836h73v12h-73zM745 901h73v5h-73zM745 1001h73v7h-73zM745 1073h73v4h-73zM745 1111h73v4h-73zM745 1122h73v3h-73zM745 1134h73v5h-73zM745 1149h73v10h-73zM745 1170h73v7h-73zM745 1223h73v5h-73zM745 1579h73v3h-73zM745 1588h73v3h-73zM818 807h72v7h-72zM818 914h72v9h-72zM818 944h72v7h-72zM818 964h72v3h-72zM818 981h72v4h-72zM818 1070h72v3h-72zM818 1091h72v6h-72zM818 1170h72v7h-72zM818 1189h72v7h-72zM818 1689h72v4h-72zM818 1738h72v6h-72zM818 1765h72v11h-72zM818 1809h72v4h-72zM818 1830h72v6h-72zM818 1921h72v5h-72zM818 2240h72v3h-72zM890 878h73v7h-73zM890 920h73v3h-73zM890 932h73v3h-73zM890 989h73v3h-73zM890 1159h73v2h-73zM890 1177h73v4h-73zM890 1189h73v7h-73zM890 1262h73v2h-73zM890 2047h73v5h-73zM890 2248h73v7h-73zM963 777h73v4h-73zM963 803h73v4h-73zM963 822h73v4h-73zM963 836h73v5h-73zM963 2047h73v5h-73zM963 2134h73v8h-73zM1036 1570h73v2h-73zM1109 836h72v5h-72zM1109 857h72v7h-72zM1109 878h72v9h-72zM1109 935h72v6h-72zM1109 981h72v4h-72zM1109 1001h72v9h-72zM1109 1070h72v3h-72zM1109 1115h72v10h-72zM1109 1128h72v11h-72zM1109 1159h72v2h-72zM1109 1607h72v4h-72zM1109 1666h72v5h-72zM1109 1991h72v5h-72zM1181 908h73v4h-73zM1181 967h73v7h-73zM1181 1189h73v7h-73zM1254 777h73v4h-73zM1254 885h73v2h-73zM1254 935h73v6h-73zM1254 951h73v4h-73zM1254 1017h73v4h-73zM1254 1037h73v4h-73zM1254 1053h73v5h-73zM1254 1106h73v5h-73zM1254 1149h73v5h-73zM1254 1536h73v7h-73zM1254 1748h73v3h-73zM1254 1809h73v4h-73zM1254 1853h73v5h-73zM1254 1886h73v4h-73zM1254 1893h73v4h-73zM1327 1077h73v3h-73zM1327 1543h73v5h-73zM1327 1604h73v3h-73zM1400 1087h72v4h-72zM1400 1623h72v3h-72zM1400 1986h72v5h-72zM1472 878h73v9h-73zM1472 894h73v7h-73zM1472 908h73v4h-73zM1472 1106h73v5h-73zM1472 1125h73v3h-73zM1472 1154h73v5h-73zM1472 1630h73v4h-73zM1472 2052h73v4h-73zM1545 2288h73v5h-73zM1618 794h73v6h-73zM1618 1213h73v3h-73zM1618 1352h73v5h-73zM1618 2296h73v6h-73zM1691 1567h73v3h-73zM1691 1604h73v7h-73zM1764 1626h72v4h-72zM1764 1656h72v5h-72zM1836 1602h73v5h-73zM1836 1641h73v4h-73zM1909 803h73v4h-73zM1909 1264h73v5h-73zM1909 1323h73v3h-73zM1909 2047h73v5h-73zM1982 826h73v2h-73zM1982 1548h73v3h-73zM1982 1604h73v3h-73zM2055 1602h72v2h-72zM2127 1329h73v5h-73zM2200 814h73v2h-73zM2200 1323h73v6h-73zM2200 1376h73v5h-73zM2200 1426h73v4h-73zM2200 1468h73v3h-73zM2200 1607h73v4h-73zM2200 1656h73v5h-73zM2346 1291h72v2h-72zM2346 1334h72v5h-72zM2346 1630h72v4h-72z"/>
<path fill="#c1435c" d="M672 885h73v9h-73zM672 906h73v2h-73zM672 1125h73v3h-73zM672 1419h73v3h-73zM672 1591h73v4h-73zM672 1604h73v3h-73zM672 1697h73v5h-73zM672 1736h73v2h-73zM672 1768h73v4h-73zM672 1909h73v4h-73zM672 1933h73v7h-73zM672 2007h73v3h-73zM672 2065h73v6h-73zM672 2232h73v2h-73zM672 2248h73v7h-73zM672 2264h73v2h-73zM672 2276h73v6h-73zM745 871h73v3h-73zM745 906h73v6h-73zM745 920h73v3h-73zM745 935h73v9h-73zM745 961h73v6h-73zM745 1017h73v4h-73zM745 1032h73v5h-73zM745 1062h73v4h-73zM745 1102h73v4h-73zM745 1125h73v3h-73zM745 1228h73v3h-73zM745 1233h73v4h-73zM745 1258h73v4h-73zM745 1276h73v7h-73zM745 1570h73v2h-73zM745 1723h73v4h-73zM745 1798h73v4h-73zM745 1940h73v2h-73zM745 1986h73v5h-73zM745 2234h73v3h-73zM818 887h72v7h-72zM818 908h72v4h-72zM818 1008h72v2h-72zM818 1032h72v5h-72zM818 1053h72v5h-72zM818 1066h72v4h-72zM818 1097h72v5h-72zM818 1122h72v12h-72zM818 1164h72v6h-72zM818 1604h72v3h-72zM818 1697h72v5h-72zM818 1705h72v6h-72zM818 1736h72v2h-72zM818 1798h72v4h-72zM818 1933h72v9h-72zM818 1951h72v3h-72zM818 2258h72v8h-72zM818 2304h72v8h-72zM890 944h73v7h-73zM890 1097h73v9h-73zM890 1149h73v5h-73zM890 1579h73v3h-73zM890 1653h73v3h-73zM890 1723h73v4h-73zM890 1748h73v3h-73zM890 1761h73v7h-73zM890 1836h73v9h-73zM890 1862h73v11h-73zM890 1886h73v4h-73zM890 1947h73v7h-73zM890 2004h73v3h-73zM890 2013h73v2h-73zM890 2065h73v6h-73zM890 2343h73v5h-73zM963 878h73v7h-73zM963 894h73v7h-73zM963 923h73v9h-73zM963 974h73v7h-73zM963 1196h73v5h-73zM963 1219h73v4h-73zM963 1293h73v4h-73zM963 1595h73v7h-73zM963 1604h73v3h-73zM963 1689h73v4h-73zM963 2052h73v4h-73zM963 2167h73v7h-73zM963 2234h73v3h-73zM963 2258h73v6h-73zM1036 1091h73v6h-73zM1036 1602h73v2h-73zM1036 2001h73v3h-73zM1109 894h72v7h-72zM1109 908h72v4h-72zM1109 1106h72v5h-72zM1109 1543h72v5h-72zM1109 1604h72v3h-72zM1109 1623h72v3h-72zM1109 1788h72v10h-72zM1109 1849h72v4h-72zM1109 1862h72v4h-72zM1109 1909h72v4h-72zM1109 2004h72v3h-72zM1109 2200h72v3h-72zM1109 2217h72v5h-72zM1109 2327h72v5h-72zM1181 848h73v3h-73zM1181 862h73v2h-73zM1181 871h73v3h-73zM1181 878h73v7h-73zM1181 964h73v3h-73zM1181 1091h73v6h-73zM1181 1115h73v10h-73zM1181 1161h73v3h-73zM1181 1201h73v7h-73zM1181 1244h73v5h-73zM1181 1253h73v5h-73zM1181 1276h73v7h-73zM1181 1297h73v4h-73zM1181 1802h73v11h-73zM1181 1826h73v4h-73zM1181 1836h73v5h-73zM1181 1996h73v5h-73zM1181 2225h73v7h-73zM1181 2264h73v2h-73zM1254 848h73v3h-73zM1254 1554h73v4h-73zM1254 1661h73v10h-73zM1254 1730h73v6h-73zM1254 1765h73v3h-73zM1254 1788h73v6h-73zM1254 1841h73v4h-73zM1254 1983h73v3h-73zM1254 2087h73v3h-73zM1254 2209h73v6h-73zM1254 2232h73v2h-73zM1327 784h73v5h-73zM1327 816h73v6h-73zM1327 831h73v5h-73zM1327 974h73v7h-73zM1327 1551h73v3h-73zM1327 2056h73v3h-73zM1327 2076h73v2h-73zM1327 2138h73v4h-73zM1400 777h72v4h-72zM1400 816h72v6h-72zM1400 828h72v8h-72zM1400 1077h72v3h-72zM1400 1276h72v10h-72zM1400 1432h72v3h-72zM1400 1604h72v3h-72zM1400 1626h72v4h-72zM1400 2030h72v3h-72zM1400 2348h72v1h-72zM1472 791h73v3h-73zM1472 816h73v10h-73zM1472 914h73v6h-73zM1472 989h73v9h-73zM1472 1010h73v7h-73zM1472 1181h73v8h-73zM1472 1352h73v5h-73zM1472 1536h73v3h-73zM1472 1543h73v5h-73zM1472 1595h73v7h-73zM1472 1689h73v4h-73zM1472 1886h73v4h-73zM1545 1357h73v6h-73zM1545 1407h73v5h-73zM1545 1464h73v4h-73zM1545 1471h73v6h-73zM1545 1530h73v2h-73zM1545 2074h73v2h-73zM1545 2123h73v4h-73zM1545 2343h73v5h-73zM1618 1313h73v5h-73zM1618 1345h73v4h-73zM1618 1357h73v6h-73zM1618 1372h73v4h-73zM1618 1388h73v3h-73zM1618 1435h73v5h-73zM1618 1457h73v7h-73zM1618 1484h73v2h-73zM1691 1253h73v5h-73zM1691 1334h73v5h-73zM1691 1468h73v9h-73zM1691 1486h73v5h-73zM1691 2033h73v14h-73zM1691 2065h73v6h-73zM1691 2076h73v2h-73zM1764 864h72v7h-72zM1764 878h72v7h-72zM1764 1286h72v5h-72zM1764 1308h72v5h-72zM1764 1548h72v3h-72zM1764 1634h72v7h-72zM1764 1653h72v3h-72zM1836 794h73v6h-73zM1836 1435h73v5h-73zM1836 1484h73v7h-73zM1836 1507h73v5h-73zM1836 2071h73v3h-73zM1836 2158h73v4h-73zM1836 2316h73v2h-73zM1909 1308h73v5h-73zM1909 1334h73v5h-73zM1909 1464h73v7h-73zM1909 1604h73v3h-73zM1909 2078h73v3h-73zM1909 2099h73v4h-73zM1982 1291h73v2h-73zM1982 1357h73v6h-73zM1982 1450h73v14h-73zM1982 1471h73v6h-73zM1982 2065h73v6h-73zM1982 2153h73v3h-73zM2055 803h72v4h-72zM2055 1213h72v3h-72zM2055 1422h72v4h-72zM2055 1432h72v3h-72zM2055 1530h72v2h-72zM2055 1548h72v3h-72zM2127 794h73v6h-73zM2127 831h73v5h-73zM2127 1264h73v5h-73zM2127 1323h73v3h-73zM2127 1372h73v4h-73zM2127 1432h73v3h-73zM2127 1457h73v7h-73zM2127 1486h73v5h-73zM2127 1530h73v2h-73zM2200 822h73v4h-73zM2200 1237h73v7h-73zM2200 1430h73v2h-73zM2200 1602h73v2h-73zM2273 1087h73v4h-73zM2273 1208h73v5h-73zM2273 1249h73v4h-73zM2273 1468h73v3h-73zM2273 1486h73v11h-73zM2273 1602h73v2h-73zM2273 1623h73v3h-73zM2273 2040h73v7h-73zM2273 2162h73v5h-73zM2346 807h72v7h-72zM2346 816h72v10h-72zM2346 1213h72v3h-72zM2346 1435h72v5h-72zM2346 1446h72v4h-72zM2346 1457h72v7h-72zM2346 1477h72v7h-72zM2346 1491h72v6h-72zM2346 1530h72v2h-72zM2346 1991h72v5h-72zM2346 2156h72v2h-72z"/>
<path fill="#d11838" d="M672 908h73v4h-73zM672 944h73v7h-73zM672 961h73v3h-73zM672 1010h73v7h-73zM672 1077h73v20h-73zM672 1154h73v5h-73zM672 1926h73v7h-73zM745 985h73v4h-73zM745 1077h73v20h-73zM745 1185h73v4h-73zM745 1286h73v5h-73zM745 1634h73v7h-73zM818 826h72v2h-72zM818 1087h72v4h-72zM818 1181h72v8h-72zM818 1491h72v6h-72zM818 1570h72v2h-72zM818 1653h72v3h-72zM818 1926h72v7h-72zM890 789h73v2h-73zM890 992h73v6h-73zM890 1087h73v4h-73zM890 1419h73v3h-73zM890 1570h73v2h-73zM963 1570h73v2h-73zM963 1653h73v3h-73zM1036 1491h73v6h-73zM1036 1595h73v7h-73zM1036 1607h73v4h-73zM1109 941h72v3h-72zM1109 961h72v3h-72zM1109 1026h72v6h-72zM1109 1077h72v3h-72zM1109 1087h72v4h-72zM1109 1111h72v4h-72zM1109 1149h72v5h-72zM1109 1185h72v4h-72zM1109 1595h72v7h-72zM1109 1913h72v4h-72zM1181 1223h73v5h-73zM1181 1491h73v6h-73zM1254 857h73v14h-73zM1254 874h73v4h-73zM1254 894h73v26h-73zM1254 923h73v9h-73zM1254 941h73v3h-73zM1254 964h73v3h-73zM1254 974h73v7h-73zM1254 985h73v4h-73zM1254 992h73v6h-73zM1254 1001h73v16h-73zM1254 1021h73v5h-73zM1254 1032h73v5h-73zM1254 1041h73v5h-73zM1254 1062h73v4h-73zM1254 1070h73v21h-73zM1254 1097h73v9h-73zM1254 1111h73v4h-73zM1254 1122h73v3h-73zM1254 1134h73v5h-73zM1254 1304h73v4h-73zM1254 1543h73v5h-73zM1254 1595h73v7h-73zM1254 1623h73v3h-73zM1254 1630h73v4h-73zM1254 1826h73v4h-73zM1254 1921h73v12h-73zM1254 2237h73v3h-73zM1327 1491h73v6h-73zM1327 1570h73v2h-73zM1327 1595h73v7h-73zM1327 2052h73v4h-73zM1400 1426h72v4h-72zM1400 1491h72v6h-72zM1472 1077h73v3h-73zM1472 1111h73v4h-73zM1472 1349h73v3h-73zM1472 2340h73v3h-73zM1545 1567h73v3h-73zM1764 1630h72v4h-72zM1836 1264h73v5h-73zM1836 1554h73v4h-73zM1836 1618h73v5h-73zM1836 1630h73v4h-73zM1909 794h73v6h-73zM1909 814h73v2h-73zM1982 1264h73v5h-73zM1982 1623h73v11h-73zM1982 1656h73v5h-73zM2055 1477h72v7h-72zM2055 1491h72v6h-72zM2055 1604h72v3h-72zM2127 1623h73v3h-73zM2127 1630h73v4h-73zM2200 1604h73v3h-73zM2200 2052h73v4h-73zM2273 1329h73v10h-73zM2346 1297h72v4h-72zM2346 1329h72v5h-72z"/>
<path fill="#b66474" d="M672 1058h73v4h-73zM672 1262h73v2h-73zM672 1940h73v2h-73zM672 1983h73v3h-73zM672 2153h73v3h-73zM672 2215h73v2h-73zM745 807h73v7h-73zM745 1304h73v4h-73zM745 1595h73v7h-73zM745 1768h73v4h-73zM745 1841h73v4h-73zM745 1853h73v5h-73zM745 1917h73v4h-73zM745 2167h73v7h-73zM818 836h72v5h-72zM818 1237h72v7h-72zM818 1264h72v5h-72zM818 1293h72v4h-72zM818 1422h72v4h-72zM818 1858h72v4h-72zM818 1866h72v7h-72zM818 1957h72v5h-72zM818 2025h72v5h-72zM818 2033h72v14h-72zM818 2052h72v4h-72zM818 2222h72v10h-72zM818 2312h72v4h-72zM890 784h73v5h-73zM890 828h73v3h-73zM890 1304h73v4h-73zM890 1727h73v3h-73zM890 1817h73v5h-73zM890 1966h73v5h-73zM890 2078h73v3h-73zM890 2087h73v3h-73zM890 2105h73v4h-73zM890 2194h73v6h-73zM963 800h73v3h-73zM963 862h73v2h-73zM963 885h73v9h-73zM963 955h73v6h-73zM963 967h73v7h-73zM963 1001h73v7h-73zM963 1010h73v11h-73zM963 1041h73v5h-73zM963 1102h73v4h-73zM963 1111h73v4h-73zM963 1125h73v3h-73zM963 1142h73v4h-73zM963 1318h73v5h-73zM963 1326h73v3h-73zM963 1407h73v5h-73zM963 1676h73v4h-73zM963 1705h73v6h-73zM963 1717h73v6h-73zM963 1736h73v2h-73zM963 1744h73v4h-73zM963 1755h73v6h-73zM963 1765h73v3h-73zM963 1798h73v4h-73zM963 1845h73v4h-73zM963 1853h73v5h-73zM963 1873h73v4h-73zM963 1882h73v8h-73zM963 2090h73v5h-73zM1036 822h73v4h-73zM1036 894h73v7h-73zM1036 935h73v9h-73zM1036 981h73v4h-73zM1036 1073h73v4h-73zM1036 1185h73v11h-73zM1036 1223h73v5h-73zM1036 1304h73v4h-73zM1036 1419h73v3h-73zM1036 1464h73v4h-73zM1036 1543h73v5h-73zM1036 1641h73v4h-73zM1036 1666h73v5h-73zM1036 1822h73v4h-73zM1036 1845h73v2h-73zM1036 1991h73v5h-73zM1036 2065h73v6h-73zM1109 781h72v3h-72zM1109 1216h72v3h-72zM1109 1258h72v4h-72zM1109 1264h72v5h-72zM1109 1273h72v3h-72zM1109 1297h72v4h-72zM1109 1304h72v4h-72zM1109 1536h72v7h-72zM1109 1579h72v3h-72zM1109 1641h72v4h-72zM1109 1686h72v3h-72zM1109 1705h72v6h-72zM1109 1713h72v4h-72zM1109 1730h72v6h-72zM1109 1765h72v3h-72zM1109 1974h72v5h-72zM1109 2240h72v3h-72zM1109 2270h72v12h-72zM1109 2288h72v5h-72zM1109 2340h72v3h-72zM1181 998h73v3h-73zM1181 1228h73v3h-73zM1181 1464h73v4h-73zM1181 1602h73v2h-73zM1181 1653h73v8h-73zM1181 1738h73v6h-73zM1181 1886h73v4h-73zM1181 1926h73v7h-73zM1181 2018h73v7h-73zM1181 2030h73v3h-73zM1181 2065h73v6h-73zM1181 2248h73v10h-73zM1254 822h73v4h-73zM1254 1432h73v3h-73zM1254 1680h73v3h-73zM1254 1689h73v8h-73zM1254 1971h73v3h-73zM1254 2248h73v7h-73zM1254 2258h73v6h-73zM1254 2343h73v5h-73zM1327 1001h73v7h-73zM1327 1170h73v7h-73zM1327 1276h73v7h-73zM1327 1339h73v6h-73zM1327 1412h73v14h-73zM1327 1554h73v4h-73zM1327 1986h73v10h-73zM1327 2087h73v3h-73zM1327 2237h73v3h-73zM1327 2327h73v5h-73zM1400 894h72v7h-72zM1400 912h72v2h-72zM1400 1125h72v3h-72zM1400 1134h72v5h-72zM1400 1253h72v5h-72zM1400 1297h72v4h-72zM1400 1304h72v4h-72zM1400 1407h72v12h-72zM1400 1551h72v3h-72zM1400 1661h72v5h-72zM1400 1893h72v4h-72zM1400 2013h72v2h-72zM1400 2312h72v4h-72zM1472 807h73v7h-73zM1472 1041h73v5h-73zM1472 1276h73v7h-73zM1472 1291h73v2h-73zM1472 1554h73v4h-73zM1472 1607h73v4h-73zM1472 1683h73v3h-73zM1472 1730h73v6h-73zM1472 1788h73v14h-73zM1472 1809h73v4h-73zM1472 1817h73v5h-73zM1472 1826h73v10h-73zM1472 1858h73v4h-73zM1472 1873h73v9h-73zM1472 1904h73v5h-73zM1472 1940h73v2h-73zM1472 1954h73v3h-73zM1472 1991h73v5h-73zM1472 2258h73v6h-73zM1545 826h73v2h-73zM1545 1426h73v4h-73zM1545 1525h73v5h-73zM1545 1623h73v3h-73zM1545 1630h73v4h-73zM1545 1991h73v5h-73zM1545 2158h73v4h-73zM1618 803h73v4h-73zM1618 1318h73v5h-73zM1618 1397h73v4h-73zM1618 1405h73v2h-73zM1618 1426h73v4h-73zM1618 1502h73v5h-73zM1618 1520h73v5h-73zM1618 1530h73v2h-73zM1618 1604h73v3h-73zM1618 1618h73v5h-73zM1691 871h73v3h-73zM1691 1087h73v4h-73zM1691 1111h73v4h-73zM1691 1139h73v3h-73zM1691 1154h73v5h-73zM1691 1237h73v7h-73zM1691 1430h73v2h-73zM1691 1579h73v3h-73zM1691 1630h73v4h-73zM1691 2162h73v5h-73zM1764 841h72v3h-72zM1764 848h72v9h-72zM1764 885h72v2h-72zM1764 906h72v2h-72zM1764 920h72v3h-72zM1764 932h72v3h-72zM1764 941h72v3h-72zM1764 1177h72v8h-72zM1764 1189h72v7h-72zM1764 1223h72v5h-72zM1764 1233h72v4h-72zM1764 1249h72v4h-72zM1764 1276h72v7h-72zM1764 1301h72v3h-72zM1764 1318h72v5h-72zM1764 1435h72v11h-72zM1764 1457h72v7h-72zM1764 1468h72v3h-72zM1764 1520h72v5h-72zM1764 1530h72v2h-72zM1764 1723h72v4h-72zM1764 1776h72v6h-72zM1764 1798h72v19h-72zM1764 2076h72v2h-72zM1764 2162h72v5h-72zM1836 1291h73v2h-73zM1836 1297h73v4h-73zM1836 1349h73v3h-73zM1836 1567h73v3h-73zM1836 2059h73v6h-73zM1909 1318h73v5h-73zM1909 1352h73v5h-73zM1909 1372h73v4h-73zM1909 1591h73v11h-73zM1909 1607h73v4h-73zM1909 2074h73v2h-73zM1909 2103h73v2h-73zM1982 777h73v4h-73zM1982 1017h73v4h-73zM1982 1037h73v4h-73zM1982 1177h73v4h-73zM1982 1484h73v2h-73zM1982 1611h73v7h-73zM1982 1996h73v5h-73zM1982 2007h73v3h-73zM1982 2302h73v2h-73zM2055 800h72v3h-72zM2055 1201h72v7h-72zM2055 1318h72v5h-72zM2055 1991h72v5h-72zM2055 2123h72v4h-72zM2127 1318h73v5h-73zM2127 1532h73v4h-73zM2127 1641h73v4h-73zM2127 2158h73v4h-73zM2127 2343h73v5h-73zM2200 1484h73v2h-73zM2200 1507h73v5h-73zM2200 1520h73v5h-73zM2200 1623h73v3h-73zM2200 1671h73v5h-73zM2200 2162h73v5h-73zM2200 2180h73v11h-73zM2200 2348h73v1h-73zM2273 1080h73v7h-73zM2273 1419h73v3h-73zM2273 1432h73v3h-73zM2273 1450h73v7h-73zM2273 1507h73v5h-73zM2273 1554h73v4h-73zM2273 1611h73v7h-73zM2273 1626h73v4h-73zM2346 777h72v4h-72zM2346 794h72v9h-72zM2346 814h72v2h-72zM2346 1189h72v7h-72zM2346 1219h72v4h-72zM2346 1237h72v12h-72zM2346 1293h72v4h-72zM2346 1450h72v7h-72zM2346 1502h72v10h-72z"/>
<path fill="#ba566a" d="M672 1097h73v5h-73zM672 1582h73v6h-73zM672 1680h73v6h-73zM672 1748h73v3h-73zM672 1761h73v4h-73zM672 1794h73v4h-73zM672 1947h73v7h-73zM672 2134h73v4h-73zM672 2203h73v6h-73zM672 2217h73v5h-73zM672 2255h73v3h-73zM745 887h73v7h-73zM745 932h73v3h-73zM745 1053h73v5h-73zM745 1196h73v5h-73zM745 1548h73v3h-73zM745 1582h73v6h-73zM745 1618h73v12h-73zM745 1713h73v10h-73zM745 1738h73v6h-73zM745 1809h73v4h-73zM745 1845h73v2h-73zM745 1873h73v4h-73zM745 1893h73v4h-73zM745 1904h73v5h-73zM745 1947h73v4h-73zM745 1957h73v5h-73zM745 1971h73v3h-73zM745 2052h73v4h-73zM745 2148h73v5h-73zM745 2276h73v6h-73zM818 862h72v2h-72zM818 906h72v2h-72zM818 912h72v2h-72zM818 1001h72v7h-72zM818 1021h72v5h-72zM818 1046h72v7h-72zM818 1253h72v9h-72zM818 1276h72v7h-72zM818 1543h72v5h-72zM818 1683h72v3h-72zM818 1702h72v3h-72zM818 1717h72v6h-72zM818 1727h72v3h-72zM818 1836h72v5h-72zM818 1877h72v5h-72zM818 1909h72v4h-72zM818 1971h72v8h-72zM818 1996h72v5h-72zM818 2200h72v3h-72zM818 2234h72v3h-72zM818 2248h72v7h-72zM890 906h73v2h-73zM890 951h73v4h-73zM890 1017h73v4h-73zM890 1053h73v5h-73zM890 1073h73v4h-73zM890 1128h73v6h-73zM890 1736h73v2h-73zM890 1744h73v4h-73zM890 1826h73v4h-73zM890 1890h73v3h-73zM890 1913h73v4h-73zM890 2052h73v4h-73zM890 2095h73v4h-73zM890 2270h73v6h-73zM963 906h73v2h-73zM963 944h73v7h-73zM963 961h73v3h-73zM963 1032h73v5h-73zM963 1058h73v4h-73zM963 1073h73v4h-73zM963 1134h73v5h-73zM963 1536h73v3h-73zM963 1738h73v6h-73zM963 1761h73v4h-73zM963 1813h73v4h-73zM963 1893h73v4h-73zM963 1983h73v3h-73zM963 2078h73v3h-73zM963 2248h73v7h-73zM963 2312h73v4h-73zM1036 932h73v3h-73zM1036 1008h73v9h-73zM1036 1134h73v5h-73zM1036 1297h73v4h-73zM1036 1318h73v5h-73zM1036 1626h73v4h-73zM1036 2153h73v3h-73zM1036 2167h73v7h-73zM1036 2258h73v6h-73zM1109 789h72v2h-72zM1109 814h72v2h-72zM1109 822h72v4h-72zM1109 828h72v3h-72zM1109 1269h72v4h-72zM1109 1738h72v6h-72zM1109 1768h72v4h-72zM1109 1782h72v6h-72zM1109 1858h72v4h-72zM1109 1893h72v4h-72zM1109 1926h72v7h-72zM1109 1979h72v4h-72zM1181 906h73v2h-73zM1181 923h73v9h-73zM1181 1017h73v4h-73zM1181 1046h73v12h-73zM1181 1066h73v4h-73zM1181 1106h73v9h-73zM1181 1128h73v11h-73zM1181 1142h73v4h-73zM1181 1273h73v3h-73zM1181 1308h73v5h-73zM1181 1345h73v4h-73zM1181 1604h73v3h-73zM1181 1626h73v4h-73zM1181 1693h73v4h-73zM1181 1717h73v6h-73zM1181 1727h73v3h-73zM1181 1794h73v4h-73zM1181 1817h73v5h-73zM1181 1849h73v4h-73zM1181 1873h73v4h-73zM1181 1900h73v4h-73zM1181 2076h73v2h-73zM1254 789h73v2h-73zM1254 1262h73v2h-73zM1254 1276h73v7h-73zM1254 1565h73v2h-73zM1254 1686h73v3h-73zM1254 1727h73v3h-73zM1254 1736h73v2h-73zM1254 1744h73v4h-73zM1254 1782h73v6h-73zM1254 1794h73v4h-73zM1254 1940h73v2h-73zM1254 1947h73v4h-73zM1254 2194h73v9h-73zM1254 2222h73v3h-73zM1254 2240h73v3h-73zM1327 985h73v4h-73zM1327 992h73v6h-73zM1327 1032h73v5h-73zM1327 1349h73v3h-73zM1327 1407h73v5h-73zM1400 789h72v2h-72zM1400 1122h72v3h-72zM1400 1181h72v8h-72zM1400 1291h72v6h-72zM1400 1301h72v3h-72zM1400 1349h72v3h-72zM1400 1430h72v2h-72zM1400 1813h72v4h-72zM1400 2074h72v2h-72zM1472 784h73v5h-73zM1472 998h73v3h-73zM1472 1017h73v4h-73zM1472 1177h73v4h-73zM1472 1208h73v5h-73zM1472 1318h73v5h-73zM1472 1426h73v4h-73zM1472 1548h73v3h-73zM1472 1717h73v6h-73zM1472 1921h73v5h-73zM1472 2156h73v2h-73zM1472 2200h73v3h-73zM1472 2222h73v3h-73zM1472 2232h73v2h-73zM1472 2282h73v6h-73zM1545 777h73v7h-73zM1545 791h73v3h-73zM1545 1253h73v9h-73zM1545 1405h73v2h-73zM1545 1468h73v3h-73zM1545 1517h73v3h-73zM1545 1602h73v5h-73zM1545 1626h73v4h-73zM1618 781h73v3h-73zM1618 1264h73v5h-73zM1618 1301h73v3h-73zM1618 1391h73v3h-73zM1618 1401h73v4h-73zM1618 1450h73v7h-73zM1618 1554h73v4h-73zM1618 1656h73v5h-73zM1618 2105h73v4h-73zM1618 2332h73v6h-73zM1691 789h73v2h-73zM1691 800h73v3h-73zM1691 1077h73v3h-73zM1691 1146h73v3h-73zM1691 1249h73v4h-73zM1691 1339h73v6h-73zM1691 1426h73v4h-73zM1691 1450h73v7h-73zM1691 1532h73v4h-73zM1691 1661h73v5h-73zM1691 2071h73v3h-73zM1764 862h72v2h-72zM1764 871h72v3h-72zM1764 887h72v7h-72zM1764 914h72v6h-72zM1764 1097h72v5h-72zM1764 1111h72v4h-72zM1764 1142h72v4h-72zM1764 1237h72v7h-72zM1764 1264h72v5h-72zM1764 1313h72v5h-72zM1764 1430h72v2h-72zM1764 1446h72v4h-72zM1764 1486h72v5h-72zM1764 1645h72v5h-72zM1764 1794h72v4h-72zM1836 822h73v4h-73zM1836 1213h73v3h-73zM1836 1357h73v6h-73zM1836 1471h73v6h-73zM1836 1502h73v5h-73zM1836 1512h73v5h-73zM1836 1530h73v2h-73zM1836 1565h73v2h-73zM1836 1661h73v5h-73zM1836 2099h73v4h-73zM1836 2162h73v5h-73zM1909 1231h73v2h-73zM1909 1283h73v10h-73zM1909 1301h73v3h-73zM1909 1397h73v8h-73zM1909 1407h73v5h-73zM1909 1422h73v4h-73zM1909 1517h73v3h-73zM1909 1623h73v3h-73zM1909 1991h73v5h-73zM1909 2153h73v3h-73zM1982 1189h73v7h-73zM1982 1579h73v3h-73zM1982 1595h73v9h-73zM1982 2013h73v2h-73zM1982 2158h73v4h-73zM2055 781h72v3h-72zM2055 1249h72v4h-72zM2055 1430h72v2h-72zM2055 1525h72v5h-72zM2055 2103h72v2h-72zM2127 807h73v7h-73zM2127 822h73v4h-73zM2127 1357h73v6h-73zM2127 1430h73v2h-73zM2127 1507h73v5h-73zM2127 2340h73v3h-73zM2200 841h73v3h-73zM2200 1450h73v14h-73zM2200 1530h73v2h-73zM2200 1618h73v5h-73zM2200 2033h73v14h-73zM2200 2158h73v4h-73zM2273 800h73v3h-73zM2273 1196h73v5h-73zM2273 1372h73v4h-73zM2273 1440h73v6h-73zM2273 1464h73v4h-73zM2273 1484h73v2h-73zM2273 1502h73v5h-73zM2346 826h72v2h-72zM2346 1253h72v5h-72zM2346 1264h72v5h-72zM2346 1276h72v7h-72zM2346 1422h72v4h-72zM2346 1554h72v4h-72zM2346 1595h72v7h-72zM2346 1641h72v4h-72zM2346 2113h72v4h-72zM2346 2142h72v6h-72z"/>
<path fill="#97939a" d="M672 1196h73v5h-73zM672 1213h73v3h-73zM672 1397h73v4h-73zM672 1565h73v2h-73zM745 1352h73v5h-73zM745 1397h73v4h-73zM745 1532h73v4h-73zM745 1680h73v3h-73zM745 2209h73v6h-73zM818 1318h72v5h-72zM818 1334h72v5h-72zM818 1357h72v6h-72zM818 1471h72v6h-72zM818 1554h72v4h-72zM818 2288h72v5h-72zM890 1293h73v4h-73zM890 1334h73v5h-73zM890 1349h73v8h-73zM890 1536h73v3h-73zM890 1548h73v3h-73zM890 1666h73v5h-73zM890 1782h73v6h-73zM963 1471h73v6h-73zM963 1539h73v4h-73zM963 1591h73v4h-73zM963 1626h73v4h-73zM963 1671h73v5h-73zM963 2215h73v2h-73zM963 2225h73v7h-73zM963 2270h73v6h-73zM1036 1196h73v5h-73zM1036 1372h73v4h-73zM1036 1394h73v3h-73zM1036 1405h73v2h-73zM1036 1446h73v4h-73zM1036 1477h73v7h-73zM1036 1634h73v7h-73zM1036 1686h73v3h-73zM1036 1705h73v18h-73zM1036 1727h73v3h-73zM1036 1744h73v7h-73zM1036 1761h73v4h-73zM1036 1768h73v4h-73zM1036 1782h73v6h-73zM1036 1794h73v4h-73zM1036 1954h73v3h-73zM1036 1962h73v4h-73zM1036 2015h73v3h-73zM1036 2047h73v5h-73zM1036 2074h73v2h-73zM1036 2138h73v4h-73zM1109 1231h72v2h-72zM1109 1244h72v5h-72zM1109 1283h72v3h-72zM1109 1334h72v5h-72zM1109 1422h72v4h-72zM1109 1471h72v6h-72zM1109 1591h72v4h-72zM1109 1634h72v7h-72zM1181 777h73v4h-73zM1181 1412h73v7h-73zM1181 1484h73v2h-73zM1181 1507h73v5h-73zM1181 1702h73v3h-73zM1181 1942h73v5h-73zM1181 1966h73v5h-73zM1181 2222h73v3h-73zM1254 1273h73v3h-73zM1254 1308h73v5h-73zM1254 1318h73v5h-73zM1254 1367h73v5h-73zM1254 1401h73v4h-73zM1254 2282h73v6h-73zM1327 1512h73v5h-73zM1327 1717h73v6h-73zM1327 1736h73v2h-73zM1327 1862h73v4h-73zM1327 1882h73v8h-73zM1327 2033h73v14h-73zM1327 2255h73v3h-73zM1400 841h72v3h-72zM1400 955h72v6h-72zM1400 1017h72v4h-72zM1400 1066h72v4h-72zM1400 1196h72v5h-72zM1400 1249h72v4h-72zM1400 1273h72v3h-72zM1400 1313h72v5h-72zM1400 1450h72v7h-72zM1400 1497h72v5h-72zM1400 1723h72v4h-72zM1400 1761h72v7h-72zM1400 1845h72v2h-72zM1400 1904h72v5h-72zM1400 2200h72v3h-72zM1400 2276h72v6h-72zM1472 1464h73v4h-73zM1472 1502h73v5h-73zM1472 1558h73v7h-73zM1472 1626h73v4h-73zM1472 1736h73v2h-73zM1472 1761h73v4h-73zM1472 2225h73v7h-73zM1545 857h73v5h-73zM1545 874h73v4h-73zM1545 941h73v3h-73zM1545 1097h73v5h-73zM1545 1189h73v7h-73zM1545 1216h73v7h-73zM1545 1345h73v4h-73zM1545 1551h73v3h-73zM1545 1565h73v2h-73zM1545 2010h73v3h-73zM1618 844h73v4h-73zM1618 1385h73v3h-73zM1618 1539h73v4h-73zM1618 2099h73v4h-73zM1691 894h73v7h-73zM1691 912h73v2h-73zM1691 985h73v4h-73zM1691 992h73v6h-73zM1691 1196h73v5h-73zM1691 1223h73v5h-73zM1691 1262h73v2h-73zM1691 1269h73v4h-73zM1691 1711h73v2h-73zM1691 1817h73v5h-73zM1691 1826h73v4h-73zM1691 1845h73v2h-73zM1691 1858h73v4h-73zM1691 1933h73v7h-73zM1764 800h72v3h-72zM1764 981h72v4h-72zM1764 989h72v3h-72zM1764 1010h72v7h-72zM1764 1046h72v7h-72zM1764 1367h72v5h-72zM1764 1376h72v5h-72zM1764 1394h72v3h-72zM1764 1551h72v3h-72zM1764 1579h72v3h-72zM1764 1591h72v4h-72zM1764 1618h72v5h-72zM1764 1697h72v5h-72zM1764 1751h72v4h-72zM1764 1768h72v4h-72zM1764 1847h72v2h-72zM1764 1917h72v4h-72zM1764 1986h72v5h-72zM1764 2007h72v3h-72zM1836 844h73v4h-73zM1836 851h73v6h-73zM1836 871h73v7h-73zM1836 885h73v2h-73zM1836 894h73v7h-73zM1836 941h73v3h-73zM1836 1053h73v9h-73zM1836 1077h73v3h-73zM1836 1139h73v7h-73zM1836 1201h73v7h-73zM1836 1352h73v5h-73zM1836 1705h73v6h-73zM1836 1713h73v4h-73zM1836 1772h73v4h-73zM1836 2007h73v3h-73zM1909 816h73v10h-73zM1909 862h73v2h-73zM1909 923h73v9h-73zM1909 1115h73v7h-73zM1909 1134h73v5h-73zM1909 1185h73v4h-73zM1909 1849h73v4h-73zM1982 844h73v4h-73zM1982 985h73v4h-73zM1982 1001h73v7h-73zM1982 1125h73v3h-73zM1982 1154h73v7h-73zM1982 1170h73v7h-73zM1982 1219h73v4h-73zM1982 1313h73v5h-73zM1982 1650h73v3h-73zM1982 1661h73v5h-73zM1982 1671h73v5h-73zM1982 1768h73v4h-73zM1982 1830h73v6h-73zM2055 836h72v5h-72zM2055 964h72v3h-72zM2055 1177h72v8h-72zM2055 1262h72v2h-72zM2055 1293h72v4h-72zM2055 1345h72v4h-72zM2055 1536h72v7h-72zM2055 1579h72v3h-72zM2055 2078h72v3h-72zM2055 2087h72v3h-72zM2055 2318h72v3h-72zM2127 826h73v2h-73zM2127 862h73v2h-73zM2127 887h73v7h-73zM2127 955h73v6h-73zM2127 1008h73v2h-73zM2127 1159h73v2h-73zM2127 1244h73v5h-73zM2127 1339h73v6h-73zM2127 1352h73v5h-73zM2127 1543h73v5h-73zM2127 1653h73v3h-73zM2127 1853h73v5h-73zM2200 964h73v3h-73zM2200 1201h73v7h-73zM2200 1293h73v4h-73zM2200 1634h73v7h-73zM2273 862h73v2h-73zM2273 871h73v7h-73zM2273 906h73v2h-73zM2273 927h73v5h-73zM2273 944h73v7h-73zM2273 1017h73v4h-73zM2273 1115h73v7h-73zM2273 1134h73v5h-73zM2273 1223h73v5h-73zM2273 1412h73v7h-73zM2273 1711h73v2h-73zM2273 1826h73v4h-73zM2273 1853h73v5h-73zM2273 2010h73v5h-73zM2273 2081h73v6h-73zM2273 2090h73v9h-73zM2273 2123h73v4h-73zM2273 2134h73v4h-73zM2346 1062h72v4h-72zM2346 1091h72v6h-72zM2346 1122h72v3h-72zM2346 1159h72v2h-72zM2346 1582h72v6h-72zM2346 2065h72v6h-72z"/>
<path fill="#9e8a92" d="M672 1201h73v7h-73zM672 1412h73v7h-73zM672 1543h73v8h-73zM672 2266h73v4h-73zM745 784h73v5h-73zM745 1213h73v3h-73zM745 1326h73v3h-73zM745 1345h73v7h-73zM745 1419h73v3h-73zM745 1464h73v4h-73zM745 1604h73v3h-73zM745 1776h73v12h-73zM745 2222h73v3h-73zM745 2255h73v3h-73zM818 794h72v6h-72zM818 1297h72v4h-72zM818 1407h72v5h-72zM818 1457h72v7h-72zM818 1582h72v6h-72zM818 1623h72v3h-72zM818 2153h72v3h-72zM890 822h73v6h-73zM890 1291h73v2h-73zM890 1582h73v6h-73zM890 1788h73v6h-73zM890 1986h73v5h-73zM890 2090h73v5h-73zM890 2162h73v5h-73zM890 2318h73v3h-73zM963 998h73v3h-73zM963 1258h73v4h-73zM963 1334h73v15h-73zM963 1450h73v7h-73zM963 1554h73v4h-73zM963 1618h73v8h-73zM963 1957h73v5h-73zM963 2004h73v3h-73zM963 2065h73v6h-73zM1036 1037h73v4h-73zM1036 1142h73v4h-73zM1036 1201h73v12h-73zM1036 1228h73v3h-73zM1036 1233h73v4h-73zM1036 1313h73v5h-73zM1036 1339h73v6h-73zM1036 1363h73v9h-73zM1036 1401h73v4h-73zM1036 1430h73v2h-73zM1036 1440h73v6h-73zM1036 1539h73v4h-73zM1036 1676h73v4h-73zM1036 1723h73v4h-73zM1036 1730h73v6h-73zM1036 1772h73v4h-73zM1036 1809h73v4h-73zM1036 2240h73v3h-73zM1109 1237h72v7h-72zM1109 1313h72v5h-72zM1109 1407h72v5h-72zM1109 1477h72v7h-72zM1109 1517h72v3h-72zM1109 1567h72v3h-72zM1109 1645h72v5h-72zM1109 2302h72v2h-72zM1181 1435h73v5h-73zM1181 1477h73v7h-73zM1181 1536h73v3h-73zM1181 1761h73v4h-73zM1181 2001h73v3h-73zM1254 800h73v3h-73zM1254 1216h73v3h-73zM1254 1253h73v9h-73zM1254 1269h73v4h-73zM1254 2013h73v2h-73zM1254 2018h73v7h-73zM1254 2225h73v7h-73zM1327 814h73v2h-73zM1327 864h73v7h-73zM1327 874h73v4h-73zM1327 894h73v7h-73zM1327 920h73v3h-73zM1327 932h73v3h-73zM1327 1244h73v5h-73zM1327 1457h73v7h-73zM1327 1565h73v5h-73zM1327 1591h73v4h-73zM1327 1744h73v4h-73zM1327 1802h73v11h-73zM1327 1913h73v4h-73zM1327 1921h73v5h-73zM1400 864h72v7h-72zM1400 906h72v2h-72zM1400 914h72v13h-72zM1400 967h72v7h-72zM1400 1021h72v5h-72zM1400 1041h72v5h-72zM1400 1146h72v8h-72zM1400 1244h72v5h-72zM1400 1269h72v4h-72zM1400 1539h72v4h-72zM1400 1645h72v5h-72zM1400 1822h72v4h-72zM1400 1873h72v4h-72zM1400 1897h72v3h-72zM1400 2001h72v3h-72zM1400 2327h72v5h-72zM1472 1070h73v3h-73zM1472 1293h73v4h-73zM1472 1497h73v5h-73zM1472 1618h73v5h-73zM1472 1702h73v3h-73zM1472 1765h73v3h-73zM1472 1909h73v4h-73zM1472 2004h73v3h-73zM1472 2215h73v2h-73zM1472 2240h73v3h-73zM1472 2255h73v3h-73zM1545 836h73v5h-73zM1545 844h73v4h-73zM1545 864h73v7h-73zM1545 878h73v7h-73zM1545 1091h73v6h-73zM1545 1122h73v3h-73zM1545 1177h73v4h-73zM1545 1231h73v2h-73zM1545 1536h73v3h-73zM1545 1570h73v2h-73zM1545 1671h73v5h-73zM1545 2001h73v3h-73zM1618 841h73v3h-73zM1618 848h73v3h-73zM1618 1367h73v5h-73zM1618 1595h73v7h-73zM1618 2321h73v6h-73zM1691 791h73v3h-73zM1691 1037h73v4h-73zM1691 1177h73v8h-73zM1691 1258h73v4h-73zM1691 1376h73v5h-73zM1691 1388h73v3h-73zM1691 1412h73v7h-73zM1691 1565h73v2h-73zM1691 1623h73v3h-73zM1691 1730h73v6h-73zM1691 1798h73v4h-73zM1691 1809h73v4h-73zM1691 1836h73v5h-73zM1764 828h72v3h-72zM1764 908h72v4h-72zM1764 961h72v3h-72zM1764 1154h72v5h-72zM1764 1388h72v6h-72zM1764 1397h72v4h-72zM1764 1405h72v2h-72zM1764 1683h72v3h-72zM1764 1702h72v3h-72zM1764 1713h72v4h-72zM1764 1727h72v9h-72zM1764 1822h72v4h-72zM1764 1830h72v6h-72zM1764 1890h72v3h-72zM1764 2282h72v6h-72zM1836 848h73v3h-73zM1836 932h73v3h-73zM1836 1146h73v3h-73zM1836 1154h73v5h-73zM1836 1170h73v7h-73zM1836 1219h73v4h-73zM1836 1233h73v4h-73zM1836 1249h73v4h-73zM1836 1308h73v5h-73zM1836 2013h73v2h-73zM1909 871h73v3h-73zM1909 885h73v2h-73zM1909 1077h73v10h-73zM1909 1154h73v5h-73zM1909 1161h73v3h-73zM1909 1170h73v7h-73zM1909 1258h73v4h-73zM1909 1269h73v4h-73zM1909 1293h73v4h-73zM1909 1656h73v5h-73zM1909 1671h73v5h-73zM1982 981h73v4h-73zM1982 1010h73v7h-73zM1982 1062h73v4h-73zM1982 1073h73v4h-73zM1982 1097h73v5h-73zM1982 1115h73v7h-73zM1982 1146h73v3h-73zM1982 1161h73v3h-73zM1982 1237h73v7h-73zM1982 1507h73v5h-73zM1982 1858h73v4h-73zM1982 2162h73v5h-73zM2055 1216h72v7h-72zM2055 1276h72v7h-72zM2055 1397h72v4h-72zM2055 1551h72v3h-72zM2127 841h73v3h-73zM2127 935h73v9h-73zM2127 1091h73v6h-73zM2127 1115h73v7h-73zM2127 1146h73v3h-73zM2127 1269h73v4h-73zM2127 1349h73v3h-73zM2127 1588h73v3h-73zM2127 2302h73v2h-73zM2127 2316h73v2h-73zM2200 831h73v5h-73zM2200 1219h73v4h-73zM2200 1339h73v6h-73zM2200 1405h73v2h-73zM2200 1412h73v7h-73zM2200 1591h73v4h-73zM2200 1666h73v5h-73zM2200 2010h73v3h-73zM2200 2138h73v4h-73zM2200 2148h73v5h-73zM2273 885h73v16h-73zM2273 964h73v3h-73zM2273 1021h73v5h-73zM2273 1122h73v3h-73zM2273 1231h73v2h-73zM2273 1543h73v8h-73zM2273 1572h73v7h-73zM2273 1788h73v6h-73zM2273 1996h73v5h-73zM2346 836h72v5h-72zM2346 1111h72v4h-72zM2346 1181h72v8h-72zM2346 1233h72v4h-72zM2346 1634h72v7h-72zM2346 2007h72v3h-72z"/>
<path fill="#a2858e" d="M672 1208h73v5h-73zM672 1223h73v5h-73zM672 1264h73v5h-73zM672 1536h73v3h-73zM672 1551h73v3h-73zM672 2270h73v6h-73zM745 1201h73v7h-73zM745 1237h73v12h-73zM745 1491h73v6h-73zM745 1683h73v10h-73zM745 1951h73v3h-73zM745 2243h73v5h-73zM818 1468h72v3h-72zM818 1512h72v5h-72zM818 1548h72v3h-72zM818 1591h72v4h-72zM818 1666h72v5h-72zM818 2123h72v4h-72zM818 2194h72v6h-72zM818 2243h72v5h-72zM818 2266h72v10h-72zM818 2318h72v3h-72zM890 1276h73v7h-73zM890 1345h73v4h-73zM890 1543h73v5h-73zM890 1565h73v2h-73zM890 1680h73v9h-73zM890 1693h73v4h-73zM890 1776h73v6h-73zM890 2234h73v3h-73zM963 1253h73v5h-73zM963 1269h73v4h-73zM963 1313h73v5h-73zM963 1323h73v3h-73zM963 1349h73v8h-73zM963 1367h73v5h-73zM963 1405h73v2h-73zM963 1457h73v7h-73zM963 1517h73v3h-73zM963 1532h73v4h-73zM963 1933h73v7h-73zM963 1951h73v3h-73zM963 2148h73v5h-73zM1036 906h73v2h-73zM1036 912h73v2h-73zM1036 955h73v6h-73zM1036 1021h73v11h-73zM1036 1062h73v4h-73zM1036 1139h73v3h-73zM1036 1146h73v3h-73zM1036 1161h73v9h-73zM1036 1219h73v4h-73zM1036 1345h73v4h-73zM1036 1512h73v5h-73zM1036 1650h73v3h-73zM1036 1826h73v4h-73zM1036 1858h73v4h-73zM1036 1893h73v4h-73zM1036 1900h73v4h-73zM1036 1917h73v4h-73zM1036 1979h73v4h-73zM1036 2010h73v3h-73zM1036 2040h73v7h-73zM1109 1276h72v7h-72zM1109 1293h72v4h-72zM1109 1308h72v5h-72zM1109 1457h72v7h-72zM1109 1736h72v2h-72zM1181 1440h73v6h-73zM1181 1450h73v7h-73zM1181 1468h73v3h-73zM1181 1532h73v4h-73zM1181 1543h73v5h-73zM1181 1634h73v7h-73zM1181 1650h73v3h-73zM1181 1671h73v5h-73zM1181 1713h73v4h-73zM1181 1951h73v11h-73zM1181 2237h73v3h-73zM1254 1244h73v5h-73zM1254 1326h73v3h-73zM1254 1339h73v6h-73zM1254 1349h73v3h-73zM1254 1591h73v4h-73zM1254 2015h73v3h-73zM1254 2095h73v4h-73zM1327 901h73v5h-73zM1327 912h73v8h-73zM1327 923h73v4h-73zM1327 1037h73v4h-73zM1327 1046h73v7h-73zM1327 1097h73v5h-73zM1327 1142h73v4h-73zM1327 1164h73v6h-73zM1327 1196h73v12h-73zM1327 1216h73v3h-73zM1327 1223h73v5h-73zM1327 1313h73v5h-73zM1327 1405h73v2h-73zM1327 1751h73v17h-73zM1327 1772h73v4h-73zM1327 1877h73v5h-73zM1327 2001h73v3h-73zM1327 2103h73v2h-73zM1327 2142h73v6h-73zM1400 851h72v6h-72zM1400 874h72v4h-72zM1400 961h72v6h-72zM1400 1111h72v4h-72zM1400 1139h72v3h-72zM1400 1164h72v6h-72zM1400 1201h72v12h-72zM1400 1264h72v5h-72zM1400 1308h72v5h-72zM1400 1457h72v7h-72zM1400 1548h72v3h-72zM1400 1588h72v3h-72zM1400 1671h72v5h-72zM1400 1717h72v6h-72zM1400 1755h72v6h-72zM1400 1794h72v8h-72zM1400 1847h72v2h-72zM1400 1862h72v4h-72zM1400 1882h72v4h-72zM1400 1890h72v3h-72zM1400 1926h72v7h-72zM1472 1037h73v4h-73zM1472 1046h73v7h-73zM1472 1058h73v4h-73zM1472 1329h73v5h-73zM1472 1477h73v7h-73zM1472 1530h73v6h-73zM1472 1602h73v2h-73zM1472 1744h73v4h-73zM1472 1772h73v4h-73zM1472 1933h73v7h-73zM1472 1942h73v5h-73zM1472 1951h73v3h-73zM1472 1962h73v4h-73zM1472 1974h73v5h-73zM1472 2015h73v3h-73zM1472 2270h73v6h-73zM1545 794h73v6h-73zM1545 1080h73v7h-73zM1545 1269h73v4h-73zM1545 1352h73v5h-73zM1545 1641h73v4h-73zM1545 1661h73v5h-73zM1545 2013h73v2h-73zM1545 2018h73v7h-73zM1618 1219h73v4h-73zM1618 1231h73v2h-73zM1618 1244h73v5h-73zM1618 1258h73v6h-73zM1618 1286h73v5h-73zM1618 1497h73v5h-73zM1618 1634h73v7h-73zM1691 777h73v4h-73zM1691 794h73v6h-73zM1691 862h73v2h-73zM1691 885h73v2h-73zM1691 901h73v5h-73zM1691 920h73v3h-73zM1691 944h73v7h-73zM1691 1041h73v5h-73zM1691 1128h73v11h-73zM1691 1161h73v3h-73zM1691 1185h73v4h-73zM1691 1273h73v3h-73zM1691 1394h73v3h-73zM1691 1401h73v4h-73zM1691 1497h73v5h-73zM1691 1626h73v4h-73zM1691 1853h73v5h-73zM1764 836h72v5h-72zM1764 944h72v7h-72zM1764 964h72v3h-72zM1764 992h72v6h-72zM1764 1041h72v5h-72zM1764 1073h72v4h-72zM1764 1106h72v5h-72zM1764 1293h72v4h-72zM1764 1412h72v7h-72zM1764 1512h72v5h-72zM1764 1680h72v3h-72zM1764 1711h72v2h-72zM1764 1772h72v4h-72zM1764 1841h72v4h-72zM1764 1858h72v8h-72zM1764 1893h72v7h-72zM1764 1904h72v5h-72zM1764 1979h72v4h-72zM1836 803h73v4h-73zM1836 878h73v7h-73zM1836 927h73v5h-73zM1836 1313h73v5h-73zM1836 1391h73v3h-73zM1836 1591h73v4h-73zM1909 844h73v4h-73zM1909 851h73v6h-73zM1909 1087h73v4h-73zM1909 1097h73v5h-73zM1909 1159h73v2h-73zM1909 1181h73v4h-73zM1909 1273h73v3h-73zM1909 1388h73v3h-73zM1909 1641h73v4h-73zM1982 841h73v3h-73zM1982 864h73v7h-73zM1982 992h73v6h-73zM1982 1021h73v5h-73zM1982 1032h73v5h-73zM1982 1185h73v4h-73zM1982 1244h73v5h-73zM1982 1391h73v3h-73zM1982 1772h73v4h-73zM1982 1826h73v4h-73zM1982 2001h73v3h-73zM2055 841h72v7h-72zM2055 851h72v6h-72zM2055 1264h72v12h-72zM2127 803h73v4h-73zM2127 814h73v2h-73zM2127 828h73v3h-73zM2127 864h73v14h-73zM2127 901h73v5h-73zM2127 1077h73v3h-73zM2127 1161h73v3h-73zM2127 1273h73v3h-73zM2127 1391h73v3h-73zM2127 1397h73v4h-73zM2127 1497h73v5h-73zM2127 1548h73v3h-73zM2127 1582h73v6h-73zM2200 816h73v6h-73zM2200 1262h73v2h-73zM2200 1301h73v3h-73zM2200 1367h73v5h-73zM2200 1391h73v6h-73zM2200 1512h73v5h-73zM2200 1641h73v4h-73zM2273 848h73v9h-73zM2273 901h73v5h-73zM2273 951h73v10h-73zM2273 1111h73v4h-73zM2273 1139h73v3h-73zM2273 1164h73v6h-73zM2273 1269h73v4h-73zM2273 1286h73v7h-73zM2273 1345h73v4h-73zM2273 1539h73v4h-73zM2273 2052h73v4h-73zM2346 803h72v4h-72zM2346 844h72v4h-72zM2346 1349h72v3h-72zM2346 1367h72v5h-72zM2346 1394h72v3h-72zM2346 1536h72v7h-72z"/>
<path fill="#908b9d" d="M672 1216h73v3h-73zM672 1301h73v3h-73zM672 1308h73v5h-73zM672 1345h73v4h-73zM672 1367h73v5h-73zM672 1407h73v5h-73zM672 1554h73v4h-73zM672 1567h73v3h-73zM672 1572h73v7h-73zM745 1468h73v3h-73zM745 1517h73v3h-73zM745 1602h73v2h-73zM818 1208h72v5h-72zM818 1223h72v5h-72zM818 1352h72v5h-72zM818 1367h72v5h-72zM818 1502h72v5h-72zM818 1532h72v4h-72zM818 1565h72v5h-72zM818 1634h72v7h-72zM818 1656h72v10h-72zM818 1986h72v5h-72zM818 2158h72v4h-72zM890 1326h73v3h-73zM890 1407h73v5h-73zM890 1430h73v5h-73zM890 1446h73v4h-73zM890 1457h73v7h-73zM890 1532h73v4h-73zM890 1641h73v4h-73zM890 2308h73v8h-73zM963 1249h73v4h-73zM963 1357h73v6h-73zM963 1477h73v7h-73zM963 1565h73v2h-73zM963 1588h73v3h-73zM963 2117h73v6h-73zM963 2156h73v2h-73zM963 2264h73v2h-73zM1036 1497h73v10h-73zM1036 1680h73v6h-73zM1036 1947h73v4h-73zM1036 1966h73v5h-73zM1109 1233h72v4h-72zM1109 1345h72v4h-72zM1109 1450h72v7h-72zM1181 1372h73v4h-73zM1181 1394h73v3h-73zM1181 1554h73v4h-73zM1181 1579h73v3h-73zM1181 1974h73v5h-73zM1181 2158h73v4h-73zM1254 1228h73v5h-73zM1254 1301h73v3h-73zM1254 2065h73v6h-73zM1254 2117h73v6h-73zM1254 2302h73v2h-73zM1327 887h73v7h-73zM1327 906h73v2h-73zM1327 1066h73v7h-73zM1327 1446h73v4h-73zM1327 1484h73v2h-73zM1327 1517h73v3h-73zM1327 1794h73v4h-73zM1327 1813h73v4h-73zM1327 1845h73v2h-73zM1327 1858h73v4h-73zM1327 1890h73v7h-73zM1327 2134h73v4h-73zM1327 2158h73v4h-73zM1400 857h72v5h-72zM1400 871h72v3h-72zM1400 1046h72v7h-72zM1400 1213h72v3h-72zM1400 1329h72v5h-72zM1400 1477h72v9h-72zM1400 1572h72v7h-72zM1400 1582h72v6h-72zM1400 1591h72v4h-72zM1400 1697h72v5h-72zM1400 1727h72v3h-72zM1400 1744h72v4h-72zM1400 1782h72v6h-72zM1400 1817h72v5h-72zM1400 2087h72v3h-72zM1472 1237h73v7h-73zM1472 1262h73v2h-73zM1472 1486h73v5h-73zM1472 2109h73v4h-73zM1472 2264h73v2h-73zM1545 887h73v7h-73zM1545 901h73v5h-73zM1545 908h73v4h-73zM1545 927h73v8h-73zM1545 1223h73v5h-73zM1545 1326h73v3h-73zM1545 1634h73v7h-73zM1545 1653h73v3h-73zM1545 1711h73v2h-73zM1545 1788h73v10h-73zM1545 1979h73v4h-73zM1545 1986h73v5h-73zM1545 2076h73v2h-73zM1545 2332h73v6h-73zM1618 1565h73v2h-73zM1618 1572h73v7h-73zM1618 1650h73v3h-73zM1691 803h73v4h-73zM1691 828h73v8h-73zM1691 955h73v6h-73zM1691 1017h73v9h-73zM1691 1046h73v7h-73zM1691 1058h73v4h-73zM1691 1233h73v4h-73zM1691 1276h73v7h-73zM1691 1405h73v2h-73zM1691 1788h73v6h-73zM1691 1841h73v4h-73zM1691 1849h73v4h-73zM1691 1926h73v7h-73zM1691 1979h73v4h-73zM1691 2001h73v3h-73zM1691 2158h73v4h-73zM1764 1570h72v2h-72zM1764 1582h72v6h-72zM1764 1705h72v6h-72zM1764 1738h72v6h-72zM1836 857h73v5h-73zM1836 864h73v7h-73zM1836 887h73v7h-73zM1836 920h73v3h-73zM1836 964h73v10h-73zM1836 981h73v4h-73zM1836 1037h73v4h-73zM1836 1091h73v6h-73zM1836 1122h73v3h-73zM1836 1181h73v4h-73zM1836 1345h73v4h-73zM1836 1397h73v8h-73zM1836 1582h73v6h-73zM1836 1768h73v4h-73zM1836 1794h73v4h-73zM1836 1858h73v4h-73zM1836 2065h73v6h-73zM1836 2134h73v4h-73zM1909 828h73v3h-73zM1909 894h73v7h-73zM1909 908h73v6h-73zM1909 920h73v3h-73zM1909 998h73v3h-73zM1909 1026h73v6h-73zM1909 1037h73v9h-73zM1909 1164h73v6h-73zM1909 1497h73v5h-73zM1909 1661h73v5h-73zM1909 1836h73v5h-73zM1909 1858h73v4h-73zM1909 2109h73v4h-73zM1982 836h73v5h-73zM1982 874h73v4h-73zM1982 914h73v6h-73zM1982 974h73v7h-73zM1982 1106h73v5h-73zM1982 1128h73v6h-73zM1982 1164h73v6h-73zM1982 1216h73v3h-73zM1982 1304h73v4h-73zM1982 1349h73v3h-73zM1982 1394h73v3h-73zM1982 1570h73v2h-73zM1982 1666h73v5h-73zM1982 1680h73v3h-73zM1982 1693h73v4h-73zM1982 1730h73v6h-73zM1982 1862h73v11h-73zM1982 2076h73v2h-73zM1982 2117h73v10h-73zM2055 864h72v7h-72zM2055 878h72v7h-72zM2055 985h72v4h-72zM2055 992h72v6h-72zM2055 1037h72v4h-72zM2055 1149h72v5h-72zM2055 1161h72v3h-72zM2055 1233h72v4h-72zM2055 1391h72v3h-72zM2055 1591h72v4h-72zM2055 1751h72v4h-72zM2055 1853h72v5h-72zM2127 844h73v4h-73zM2127 951h73v4h-73zM2127 967h73v7h-73zM2127 1041h73v5h-73zM2127 1134h73v5h-73zM2127 1154h73v5h-73zM2127 1170h73v7h-73zM2127 1237h73v7h-73zM2127 1249h73v4h-73zM2127 1258h73v4h-73zM2127 1293h73v4h-73zM2127 1394h73v3h-73zM2127 1602h73v2h-73zM2127 1680h73v3h-73zM2127 1689h73v8h-73zM2127 1717h73v6h-73zM2127 1755h73v6h-73zM2127 1798h73v4h-73zM2127 1817h73v5h-73zM2127 1826h73v4h-73zM2127 1849h73v4h-73zM2127 1873h73v4h-73zM2127 1979h73v4h-73zM2127 2007h73v3h-73zM2127 2018h73v7h-73zM2200 878h73v7h-73zM2200 967h73v7h-73zM2200 1021h73v11h-73zM2200 1097h73v5h-73zM2200 1111h73v4h-73zM2200 1139h73v3h-73zM2200 1223h73v5h-73zM2200 1497h73v5h-73zM2200 1751h73v4h-73zM2200 1768h73v8h-73zM2200 2215h73v2h-73zM2273 920h73v3h-73zM2273 1037h73v4h-73zM2273 1128h73v6h-73zM2273 1276h73v10h-73zM2273 1391h73v3h-73zM2273 1405h73v2h-73zM2273 1634h73v7h-73zM2273 1730h73v6h-73zM2273 1751h73v4h-73zM2273 1768h73v14h-73zM2273 1809h73v4h-73zM2273 1836h73v5h-73zM2273 1866h73v7h-73zM2273 1926h73v7h-73zM2273 2033h73v7h-73zM2273 2087h73v3h-73zM2273 2156h73v2h-73zM2273 2318h73v9h-73zM2273 2332h73v6h-73zM2346 1037h72v4h-72zM2346 1080h72v7h-72zM2346 1102h72v4h-72zM2346 1339h72v6h-72zM2346 1405h72v2h-72zM2346 1618h72v5h-72zM2346 1755h72v6h-72zM2346 1979h72v4h-72zM2346 2040h72v7h-72z"/>
<path fill="#857ea0" d="M672 1219h73v4h-73zM672 1237h73v7h-73zM672 1253h73v5h-73zM672 1405h73v2h-73zM672 1430h73v2h-73zM672 1464h73v4h-73zM672 1491h73v6h-73zM672 1645h73v5h-73zM672 2087h73v3h-73zM745 1357h73v10h-73zM745 1435h73v5h-73zM745 1645h73v8h-73zM745 1666h73v10h-73zM745 2065h73v6h-73zM745 2191h73v3h-73zM818 1196h72v5h-72zM818 1213h72v3h-72zM818 1372h72v9h-72zM818 1530h72v2h-72zM818 2090h72v5h-72zM818 2103h72v2h-72zM890 1435h73v5h-73zM890 1471h73v13h-73zM890 1517h73v3h-73zM890 2134h73v4h-73zM963 1363h73v4h-73zM963 1520h73v10h-73zM963 2185h73v6h-73zM963 2288h73v5h-73zM963 2304h73v4h-73zM963 2340h73v3h-73zM1036 1231h73v2h-73zM1036 1264h73v5h-73zM1036 1572h73v7h-73zM1036 1697h73v5h-73zM1036 2209h73v6h-73zM1036 2348h73v1h-73zM1109 1367h72v5h-72zM1109 1376h72v5h-72zM1109 1394h72v3h-72zM1109 1502h72v5h-72zM1109 2040h72v7h-72zM1109 2059h72v6h-72zM1109 2232h72v2h-72zM1109 2304h72v4h-72zM1181 794h73v9h-73zM1181 1363h73v4h-73zM1181 1422h73v4h-73zM1181 1432h73v3h-73zM1181 1539h73v4h-73zM1181 1558h73v7h-73zM1181 1611h73v7h-73zM1181 1991h73v5h-73zM1181 2015h73v3h-73zM1181 2162h73v18h-73zM1254 2074h73v2h-73zM1327 807h73v7h-73zM1327 1058h73v4h-73zM1327 1073h73v4h-73zM1327 1329h73v5h-73zM1327 1357h73v6h-73zM1327 1435h73v5h-73zM1327 1641h73v4h-73zM1327 1666h73v5h-73zM1327 1730h73v6h-73zM1327 1817h73v5h-73zM1327 1847h73v2h-73zM1327 1947h73v4h-73zM1327 1954h73v8h-73zM1327 1966h73v5h-73zM1327 2065h73v6h-73zM1327 2117h73v6h-73zM1327 2296h73v6h-73zM1400 862h72v2h-72zM1400 1058h72v4h-72zM1400 1233h72v4h-72zM1400 1363h72v4h-72zM1400 1372h72v4h-72zM1400 1381h72v4h-72zM1400 1419h72v3h-72zM1400 1486h72v5h-72zM1400 1776h72v6h-72zM1400 1841h72v4h-72zM1400 1951h72v3h-72zM1400 1962h72v4h-72zM1400 2103h72v2h-72zM1400 2109h72v4h-72zM1400 2162h72v5h-72zM1400 2203h72v6h-72zM1400 2270h72v6h-72zM1400 2340h72v3h-72zM1472 1273h73v3h-73zM1472 1304h73v4h-73zM1472 1385h73v3h-73zM1472 1471h73v6h-73zM1472 1588h73v3h-73zM1472 2304h73v4h-73zM1545 912h73v2h-73zM1545 951h73v4h-73zM1545 985h73v4h-73zM1545 1026h73v6h-73zM1545 1053h73v5h-73zM1545 1159h73v11h-73zM1545 1181h73v4h-73zM1545 1385h73v3h-73zM1545 1650h73v3h-73zM1545 1693h73v4h-73zM1545 1730h73v6h-73zM1545 1809h73v4h-73zM1545 1826h73v4h-73zM1545 1841h73v4h-73zM1545 1926h73v7h-73zM1545 2095h73v4h-73zM1545 2276h73v6h-73zM1545 2316h73v5h-73zM1618 871h73v3h-73zM1618 878h73v7h-73zM1618 908h73v4h-73zM1618 1070h73v3h-73zM1618 1087h73v4h-73zM1618 1111h73v4h-73zM1618 1159h73v2h-73zM1618 1181h73v15h-73zM1618 1293h73v4h-73zM1618 1680h73v3h-73zM1618 1794h73v4h-73zM1618 1836h73v5h-73zM1618 1858h73v4h-73zM1618 2004h73v3h-73zM1618 2302h73v2h-73zM1618 2340h73v3h-73zM1691 836h73v5h-73zM1691 851h73v6h-73zM1691 989h73v3h-73zM1691 1686h73v3h-73zM1691 1705h73v6h-73zM1691 1713h73v4h-73zM1691 1751h73v4h-73zM1691 1866h73v7h-73zM1691 1900h73v4h-73zM1691 1983h73v3h-73zM1691 2296h73v6h-73zM1691 2327h73v5h-73zM1764 1381h72v4h-72zM1764 2258h72v6h-72zM1836 961h73v3h-73zM1836 989h73v3h-73zM1836 998h73v3h-73zM1836 1010h73v7h-73zM1836 1041h73v12h-73zM1836 1228h73v3h-73zM1836 1273h73v3h-73zM1836 1683h73v3h-73zM1836 1693h73v4h-73zM1836 1776h73v6h-73zM1836 1788h73v6h-73zM1836 1836h73v5h-73zM1836 1847h73v2h-73zM1836 2117h73v6h-73zM1909 951h73v4h-73zM1909 964h73v3h-73zM1909 1001h73v7h-73zM1909 1010h73v7h-73zM1909 1046h73v7h-73zM1909 1073h73v4h-73zM1909 1543h73v5h-73zM1909 1558h73v9h-73zM1909 1680h73v3h-73zM1909 1711h73v2h-73zM1909 1723h73v4h-73zM1909 1782h73v6h-73zM1909 1847h73v2h-73zM1909 1882h73v4h-73zM1909 1897h73v3h-73zM1909 2015h73v3h-73zM1909 2059h73v6h-73zM1909 2321h73v6h-73zM1982 901h73v5h-73zM1982 927h73v5h-73zM1982 935h73v6h-73zM1982 955h73v6h-73zM1982 1551h73v3h-73zM1982 1558h73v7h-73zM1982 1645h73v5h-73zM1982 1711h73v2h-73zM1982 1717h73v6h-73zM1982 1798h73v4h-73zM1982 1882h73v4h-73zM1982 1893h73v4h-73zM1982 1917h73v4h-73zM1982 1971h73v3h-73zM1982 1991h73v5h-73zM1982 2033h73v7h-73zM1982 2056h73v3h-73zM1982 2087h73v3h-73zM1982 2099h73v4h-73zM1982 2113h73v4h-73zM1982 2266h73v4h-73zM1982 2327h73v5h-73zM2055 857h72v5h-72zM2055 998h72v3h-72zM2055 1017h72v4h-72zM2055 1046h72v7h-72zM2055 1097h72v5h-72zM2055 1146h72v3h-72zM2055 1326h72v3h-72zM2055 1666h72v10h-72zM2055 1744h72v4h-72zM2055 1768h72v8h-72zM2055 1858h72v4h-72zM2055 1877h72v5h-72zM2055 1917h72v4h-72zM2055 1926h72v7h-72zM2055 1966h72v5h-72zM2055 1996h72v5h-72zM2127 912h73v2h-73zM2127 923h73v4h-73zM2127 981h73v4h-73zM2127 1026h73v6h-73zM2127 1037h73v4h-73zM2127 1046h73v7h-73zM2127 1062h73v4h-73zM2127 1070h73v3h-73zM2127 1106h73v5h-73zM2127 1572h73v7h-73zM2127 1676h73v4h-73zM2127 1702h73v3h-73zM2127 1751h73v4h-73zM2127 1761h73v4h-73zM2127 1768h73v4h-73zM2127 1776h73v6h-73zM2127 1802h73v7h-73zM2127 1866h73v7h-73zM2127 1991h73v10h-73zM2127 2010h73v3h-73zM2127 2312h73v4h-73zM2200 985h73v4h-73zM2200 998h73v10h-73zM2200 1010h73v7h-73zM2200 1032h73v5h-73zM2200 1053h73v5h-73zM2200 1189h73v7h-73zM2200 1419h73v3h-73zM2200 1579h73v3h-73zM2200 1588h73v3h-73zM2200 1686h73v3h-73zM2200 1717h73v6h-73zM2200 1736h73v2h-73zM2200 1755h73v6h-73zM2200 1849h73v4h-73zM2200 1858h73v4h-73zM2200 1886h73v4h-73zM2200 1933h73v7h-73zM2200 1979h73v4h-73zM2200 2209h73v6h-73zM2200 2318h73v3h-73zM2273 912h73v2h-73zM2273 974h73v7h-73zM2273 989h73v3h-73zM2273 1062h73v4h-73zM2273 1073h73v4h-73zM2273 1228h73v3h-73zM2273 1645h73v5h-73zM2273 1697h73v5h-73zM2273 1705h73v6h-73zM2273 1744h73v7h-73zM2273 1822h73v4h-73zM2273 1862h73v4h-73zM2273 1877h73v5h-73zM2273 1890h73v3h-73zM2273 1897h73v3h-73zM2273 1913h73v4h-73zM2273 1957h73v5h-73zM2273 2200h73v3h-73zM2346 871h72v3h-72zM2346 992h72v6h-72zM2346 1017h72v4h-72zM2346 1026h72v6h-72zM2346 1066h72v11h-72zM2346 1125h72v3h-72zM2346 1142h72v4h-72zM2346 1149h72v10h-72zM2346 1164h72v6h-72zM2346 1304h72v4h-72zM2346 1345h72v4h-72zM2346 1693h72v4h-72zM2346 1723h72v4h-72zM2346 1761h72v4h-72zM2346 1826h72v4h-72zM2346 1841h72v4h-72zM2346 1933h72v9h-72zM2346 1947h72v4h-72zM2346 2078h72v3h-72zM2346 2194h72v6h-72zM2346 2327h72v5h-72z"/>
<path fill="#7065a2" d="M672 1233h73v4h-73zM672 1249h73v4h-73zM672 1339h73v6h-73zM672 1440h73v6h-73zM672 1512h73v5h-73zM672 1532h73v4h-73zM672 2090h73v5h-73zM672 2113h73v4h-73zM672 2332h73v6h-73zM745 803h73v4h-73zM745 1507h73v5h-73zM745 2007h73v3h-73zM745 2103h73v2h-73zM745 2117h73v10h-73zM745 2203h73v6h-73zM818 1391h72v3h-72zM818 2127h72v7h-72zM818 2296h72v6h-72zM818 2338h72v5h-72zM890 1376h73v5h-73zM890 1394h73v3h-73zM890 1486h73v5h-73zM890 2071h73v3h-73zM890 2209h73v6h-73zM890 2217h73v5h-73zM890 2276h73v6h-73zM963 1502h73v5h-73zM963 2015h73v3h-73zM963 2099h73v4h-73zM963 2174h73v6h-73zM963 2240h73v8h-73zM963 2318h73v3h-73zM1036 826h73v2h-73zM1036 1249h73v4h-73zM1036 2302h73v2h-73zM1036 2332h73v6h-73zM1109 1381h72v4h-72zM1109 1388h72v3h-72zM1109 1507h72v5h-72zM1109 2025h72v5h-72zM1109 2056h72v3h-72zM1109 2065h72v6h-72zM1109 2095h72v4h-72zM1109 2109h72v14h-72zM1109 2296h72v6h-72zM1109 2312h72v4h-72zM1181 781h73v3h-73zM1181 2134h73v8h-73zM1181 2156h73v2h-73zM1181 2185h73v6h-73zM1181 2308h73v8h-73zM1181 2327h73v5h-73zM1254 814h73v2h-73zM1254 1376h73v5h-73zM1254 1394h73v3h-73zM1254 1464h73v4h-73zM1254 1979h73v4h-73zM1254 2030h73v3h-73zM1254 2059h73v6h-73zM1254 2071h73v3h-73zM1254 2099h73v4h-73zM1254 2142h73v6h-73zM1254 2293h73v3h-73zM1327 1372h73v4h-73zM1327 1611h73v7h-73zM1327 2007h73v3h-73zM1327 2071h73v3h-73zM1327 2113h73v4h-73zM1327 2127h73v7h-73zM1327 2156h73v2h-73zM1327 2191h73v3h-73zM1327 2203h73v6h-73zM1327 2293h73v3h-73zM1400 814h72v2h-72zM1400 2142h72v6h-72zM1400 2153h72v3h-72zM1400 2180h72v5h-72zM1400 2209h72v6h-72zM1400 2222h72v3h-72zM1400 2234h72v3h-72zM1400 2266h72v4h-72zM1400 2296h72v6h-72zM1472 781h73v3h-73zM1472 1249h73v4h-73zM1472 2076h73v2h-73zM1472 2099h73v4h-73zM1472 2148h73v5h-73zM1472 2162h73v5h-73zM1472 2180h73v5h-73zM1545 1073h73v4h-73zM1545 1736h73v2h-73zM1545 1748h73v3h-73zM1545 1921h73v5h-73zM1545 1951h73v3h-73zM1545 2007h73v3h-73zM1545 2047h73v5h-73zM1545 2081h73v6h-73zM1545 2103h73v2h-73zM1545 2117h73v6h-73zM1545 2200h73v3h-73zM1545 2217h73v5h-73zM1545 2340h73v3h-73zM1545 2348h73v1h-73zM1618 784h73v5h-73zM1618 1010h73v7h-73zM1618 1021h73v5h-73zM1618 1053h73v5h-73zM1618 1062h73v4h-73zM1618 1073h73v4h-73zM1618 1097h73v9h-73zM1618 1139h73v3h-73zM1618 1149h73v5h-73zM1618 1686h73v3h-73zM1618 1738h73v6h-73zM1618 1755h73v6h-73zM1618 1776h73v6h-73zM1618 1866h73v7h-73zM1618 2001h73v3h-73zM1618 2095h73v4h-73zM1618 2103h73v2h-73zM1618 2167h73v13h-73zM1618 2217h73v5h-73zM1618 2232h73v2h-73zM1618 2240h73v3h-73zM1618 2264h73v2h-73zM1618 2288h73v5h-73zM1618 2304h73v4h-73zM1618 2348h73v1h-73zM1691 807h73v7h-73zM1691 816h73v6h-73zM1691 826h73v2h-73zM1691 1966h73v8h-73zM1691 2113h73v4h-73zM1691 2127h73v7h-73zM1691 2180h73v5h-73zM1691 2222h73v3h-73zM1691 2304h73v8h-73zM1691 2316h73v2h-73zM1691 2348h73v1h-73zM1764 791h72v3h-72zM1764 1253h72v5h-72zM1764 1385h72v3h-72zM1764 1957h72v17h-72zM1764 2113h72v4h-72zM1764 2127h72v11h-72zM1764 2142h72v6h-72zM1764 2174h72v11h-72zM1764 2222h72v3h-72zM1764 2308h72v8h-72zM1764 2343h72v5h-72zM1836 1026h73v6h-73zM1836 1262h73v2h-73zM1836 1736h73v2h-73zM1836 1748h73v3h-73zM1836 1921h73v5h-73zM1836 1942h73v5h-73zM1836 2015h73v3h-73zM1836 2095h73v4h-73zM1836 2138h73v10h-73zM1836 2200h73v3h-73zM1836 2225h73v7h-73zM1836 2240h73v3h-73zM1836 2296h73v6h-73zM1836 2312h73v4h-73zM1909 1572h73v7h-73zM1909 1697h73v8h-73zM1909 1736h73v2h-73zM1909 1748h73v7h-73zM1909 1886h73v4h-73zM1909 1909h73v8h-73zM1909 1921h73v5h-73zM1909 1942h73v5h-73zM1909 1951h73v3h-73zM1909 1983h73v3h-73zM1909 2065h73v6h-73zM1909 2087h73v3h-73zM1909 2134h73v4h-73zM1909 2200h73v3h-73zM1909 2215h73v2h-73zM1909 2232h73v2h-73zM1909 2276h73v6h-73zM1909 2308h73v4h-73zM1982 791h73v3h-73zM1982 1543h73v5h-73zM1982 1776h73v6h-73zM1982 1921h73v5h-73zM1982 1979h73v4h-73zM1982 2010h73v3h-73zM1982 2148h73v5h-73zM1982 2222h73v3h-73zM1982 2243h73v5h-73zM1982 2316h73v2h-73zM1982 2338h73v2h-73zM2055 794h72v6h-72zM2055 906h72v2h-72zM2055 967h72v7h-72zM2055 1802h72v11h-72zM2055 1893h72v7h-72zM2055 1913h72v4h-72zM2055 1947h72v4h-72zM2055 1957h72v9h-72zM2055 1971h72v3h-72zM2055 2001h72v3h-72zM2055 2010h72v3h-72zM2055 2030h72v10h-72zM2055 2174h72v6h-72zM2055 2248h72v7h-72zM2055 2258h72v6h-72zM2055 2293h72v3h-72zM2127 920h73v3h-73zM2127 1971h73v3h-73zM2127 2074h73v2h-73zM2127 2109h73v4h-73zM2127 2282h73v6h-73zM2200 920h73v3h-73zM2200 944h73v11h-73zM2200 1080h73v7h-73zM2200 1689h73v4h-73zM2200 1697h73v5h-73zM2200 1730h73v6h-73zM2200 1744h73v4h-73zM2200 1788h73v6h-73zM2200 1845h73v4h-73zM2200 1877h73v5h-73zM2200 1893h73v4h-73zM2200 1900h73v9h-73zM2200 1921h73v5h-73zM2200 1954h73v3h-73zM2200 2001h73v3h-73zM2200 2047h73v5h-73zM2200 2081h73v9h-73zM2200 2095h73v4h-73zM2200 2156h73v2h-73zM2200 2167h73v7h-73zM2200 2200h73v3h-73zM2200 2264h73v2h-73zM2200 2293h73v3h-73zM2200 2327h73v5h-73zM2273 1921h73v5h-73zM2273 1940h73v7h-73zM2273 2047h73v5h-73zM2273 2059h73v6h-73zM2273 2099h73v4h-73zM2273 2142h73v6h-73zM2273 2185h73v6h-73zM2273 2225h73v7h-73zM2273 2258h73v6h-73zM2273 2266h73v4h-73zM2273 2276h73v6h-73zM2273 2296h73v6h-73zM2273 2308h73v4h-73zM2346 1683h72v6h-72zM2346 1697h72v5h-72zM2346 1738h72v10h-72zM2346 1751h72v4h-72zM2346 1813h72v4h-72zM2346 1847h72v2h-72zM2346 1877h72v5h-72zM2346 1890h72v3h-72zM2346 1909h72v4h-72zM2346 1957h72v9h-72zM2346 1971h72v3h-72zM2346 1983h72v3h-72zM2346 2052h72v4h-72zM2346 2180h72v5h-72zM2346 2234h72v6h-72zM2346 2270h72v12h-72zM2346 2304h72v4h-72z"/>
<path fill="#a97984" d="M672 1258h73v4h-73zM672 1269h73v4h-73zM672 1293h73v4h-73zM672 1661h73v5h-73zM672 1782h73v6h-73zM672 2243h73v5h-73zM672 2308h73v4h-73zM745 1313h73v5h-73zM745 1412h73v7h-73zM745 1426h73v4h-73zM745 1702h73v3h-73zM745 1727h73v3h-73zM745 1830h73v6h-73zM745 1849h73v4h-73zM745 1909h73v4h-73zM745 2343h73v5h-73zM818 831h72v5h-72zM818 1244h72v5h-72zM818 1412h72v7h-72zM818 1464h72v4h-72zM818 1551h72v3h-72zM818 1588h72v3h-72zM818 1645h72v5h-72zM818 2010h72v3h-72zM818 2174h72v6h-72zM890 912h73v2h-73zM890 1201h73v7h-73zM890 1213h73v3h-73zM890 1273h73v3h-73zM890 1283h73v3h-73zM890 1308h73v5h-73zM890 1567h73v3h-73zM890 1676h73v4h-73zM890 1794h73v4h-73zM890 1900h73v4h-73zM890 1991h73v5h-73zM890 2240h73v3h-73zM963 871h73v3h-73zM963 1046h73v7h-73zM963 1146h73v3h-73zM963 1233h73v4h-73zM963 1244h73v5h-73zM963 1401h73v4h-73zM963 1422h73v4h-73zM963 1430h73v2h-73zM963 1512h73v5h-73zM963 1579h73v3h-73zM963 1730h73v6h-73zM963 1909h73v4h-73zM963 1942h73v9h-73zM963 2001h73v3h-73zM963 2076h73v2h-73zM1036 871h73v3h-73zM1036 887h73v7h-73zM1036 901h73v5h-73zM1036 908h73v4h-73zM1036 964h73v3h-73zM1036 1046h73v7h-73zM1036 1149h73v5h-73zM1036 1216h73v3h-73zM1036 1334h73v5h-73zM1036 1349h73v3h-73zM1036 1412h73v7h-73zM1036 1536h73v3h-73zM1036 1689h73v4h-73zM1036 1788h73v6h-73zM1036 1798h73v4h-73zM1036 1817h73v5h-73zM1036 1830h73v11h-73zM1036 1853h73v5h-73zM1036 1890h73v3h-73zM1036 1957h73v5h-73zM1036 2056h73v3h-73zM1109 1196h72v5h-72zM1109 1464h72v4h-72zM1109 1744h72v4h-72zM1109 1942h72v5h-72zM1109 1966h72v5h-72zM1109 2343h72v5h-72zM1181 828h73v3h-73zM1181 1249h73v4h-73zM1181 1426h73v4h-73zM1181 1680h73v3h-73zM1181 1730h73v6h-73zM1181 1755h73v6h-73zM1181 1772h73v4h-73zM1181 2200h73v3h-73zM1181 2209h73v6h-73zM1254 816h73v6h-73zM1254 1196h73v17h-73zM1254 1345h73v4h-73zM1254 1558h73v7h-73zM1254 1683h73v3h-73zM1254 1942h73v5h-73zM1254 1991h73v5h-73zM1254 2004h73v3h-73zM1254 2103h73v2h-73zM1254 2153h73v3h-73zM1327 841h73v3h-73zM1327 989h73v3h-73zM1327 1021h73v5h-73zM1327 1102h73v13h-73zM1327 1154h73v5h-73zM1327 1219h73v4h-73zM1327 1237h73v7h-73zM1327 1293h73v4h-73zM1327 1308h73v5h-73zM1327 1334h73v5h-73zM1327 1748h73v3h-73zM1400 932h72v3h-72zM1400 941h72v10h-72zM1400 1001h72v7h-72zM1400 1102h72v4h-72zM1400 1142h72v4h-72zM1400 1161h72v3h-72zM1400 1177h72v4h-72zM1400 1216h72v12h-72zM1400 1318h72v5h-72zM1400 1579h72v3h-72zM1400 1666h72v5h-72zM1400 1809h72v4h-72zM1400 2015h72v3h-72zM1472 1021h73v5h-73zM1472 1062h73v4h-73zM1472 1073h73v4h-73zM1472 1231h73v2h-73zM1472 1422h73v4h-73zM1472 1539h73v4h-73zM1472 1567h73v5h-73zM1472 1671h73v5h-73zM1472 1697h73v5h-73zM1472 1755h73v6h-73zM1472 1897h73v3h-73zM1472 2134h73v4h-73zM1472 2194h73v6h-73zM1472 2332h73v6h-73zM1545 828h73v3h-73zM1545 1087h73v4h-73zM1545 1196h73v5h-73zM1545 1249h73v4h-73zM1545 1293h73v4h-73zM1545 1391h73v3h-73zM1545 1595h73v7h-73zM1545 2059h73v6h-73zM1618 1291h73v2h-73zM1618 1551h73v3h-73zM1618 1661h73v5h-73zM1691 781h73v8h-73zM1691 874h73v11h-73zM1691 887h73v7h-73zM1691 941h73v3h-73zM1691 951h73v4h-73zM1691 1106h73v5h-73zM1691 1125h73v3h-73zM1691 1170h73v7h-73zM1691 1213h73v3h-73zM1691 1219h73v4h-73zM1691 1231h73v2h-73zM1691 1304h73v4h-73zM1691 1313h73v5h-73zM1691 1345h73v4h-73zM1691 1882h73v4h-73zM1691 2018h73v7h-73zM1764 1037h72v4h-72zM1764 1062h72v4h-72zM1764 1102h72v4h-72zM1764 1149h72v5h-72zM1764 1269h72v4h-72zM1764 1357h72v6h-72zM1764 1471h72v13h-72zM1764 1502h72v5h-72zM1764 1595h72v9h-72zM1764 1611h72v7h-72zM1764 1686h72v3h-72zM1764 1817h72v5h-72zM1764 1836h72v5h-72zM1764 1877h72v5h-72zM1764 1926h72v7h-72zM1764 2015h72v3h-72zM1836 816h73v6h-73zM1836 828h73v3h-73zM1836 1339h73v6h-73zM1836 1367h73v5h-73zM1909 864h73v7h-73zM1909 1149h73v5h-73zM1909 1228h73v3h-73zM1909 1233h73v4h-73zM1909 1276h73v7h-73zM1909 1345h73v4h-73zM1909 1391h73v6h-73zM1909 1440h73v10h-73zM1909 1502h73v5h-73zM1909 1554h73v4h-73zM1909 1602h73v2h-73zM1909 2090h73v5h-73zM1982 1041h73v5h-73zM1982 1058h73v4h-73zM1982 1091h73v6h-73zM1982 1297h73v4h-73zM1982 1388h73v3h-73zM1982 1502h73v5h-73zM1982 1653h73v3h-73zM2055 784h72v5h-72zM2055 1196h72v5h-72zM2055 1244h72v5h-72zM2055 1286h72v5h-72zM2055 1297h72v4h-72zM2055 1412h72v7h-72zM2055 1497h72v5h-72zM2055 2040h72v7h-72zM2055 2109h72v4h-72zM2127 816h73v6h-73zM2127 1080h73v7h-73zM2127 1122h73v3h-73zM2127 1219h73v4h-73zM2127 1283h73v3h-73zM2127 1401h73v4h-73zM2127 1634h73v7h-73zM2127 2162h73v5h-73zM2200 1258h73v4h-73zM2200 1397h73v4h-73zM2200 1407h73v5h-73zM2200 1502h73v5h-73zM2273 777h73v4h-73zM2273 836h73v8h-73zM2273 864h73v7h-73zM2273 1142h73v4h-73zM2273 1149h73v5h-73zM2273 1367h73v5h-73zM2273 1525h73v5h-73zM2346 841h72v3h-72zM2346 851h72v6h-72zM2346 1201h72v7h-72zM2346 1591h72v4h-72zM2346 2015h72v3h-72zM2346 2162h72v5h-72z"/>
<path fill="#948f9c" d="M672 1273h73v3h-73zM672 1349h73v3h-73zM672 1426h73v4h-73zM672 1432h73v3h-73zM672 1611h73v7h-73zM672 1630h73v4h-73zM672 1656h73v5h-73zM672 1666h73v5h-73zM672 2127h73v7h-73zM745 1407h73v5h-73zM745 1422h73v4h-73zM745 1477h73v7h-73zM745 1486h73v5h-73zM745 1512h73v5h-73zM745 1565h73v5h-73zM745 1661h73v5h-73zM745 2013h73v2h-73zM745 2327h73v5h-73zM818 1201h72v7h-72zM818 1308h72v5h-72zM818 1323h72v3h-72zM818 1363h72v4h-72zM818 1405h72v2h-72zM818 1450h72v7h-72zM818 1477h72v7h-72zM818 1517h72v3h-72zM818 1650h72v3h-72zM818 2047h72v5h-72zM818 2293h72v3h-72zM890 1412h73v7h-73zM890 1440h73v6h-73zM890 1464h73v7h-73zM890 1551h73v7h-73zM890 1661h73v5h-73zM890 2099h73v4h-73zM963 1329h73v5h-73zM963 1376h73v5h-73zM963 1440h73v6h-73zM963 1468h73v3h-73zM963 1497h73v5h-73zM963 1530h73v2h-73zM963 1567h73v3h-73zM963 2123h73v4h-73zM963 2237h73v3h-73zM1036 1058h73v4h-73zM1036 1253h73v5h-73zM1036 1262h73v2h-73zM1036 1432h73v3h-73zM1036 1450h73v7h-73zM1036 1468h73v3h-73zM1036 1484h73v2h-73zM1036 1532h73v4h-73zM1036 1554h73v4h-73zM1036 1738h73v6h-73zM1036 1751h73v4h-73zM1036 1776h73v6h-73zM1036 1849h73v4h-73zM1036 1971h73v8h-73zM1036 2059h73v6h-73zM1036 2099h73v4h-73zM1036 2248h73v7h-73zM1109 1228h72v3h-72zM1109 1326h72v3h-72zM1109 1401h72v4h-72zM1109 1611h72v7h-72zM1181 1304h73v4h-73zM1181 1407h73v5h-73zM1181 2302h73v2h-73zM1181 2321h73v6h-73zM1254 1213h73v3h-73zM1254 1588h73v3h-73zM1254 2180h73v5h-73zM1254 2288h73v5h-73zM1327 848h73v3h-73zM1327 871h73v3h-73zM1327 941h73v3h-73zM1327 951h73v4h-73zM1327 967h73v7h-73zM1327 1213h73v3h-73zM1327 1689h73v4h-73zM1327 1705h73v6h-73zM1327 1713h73v4h-73zM1327 1768h73v4h-73zM1327 1798h73v4h-73zM1327 1822h73v4h-73zM1327 1866h73v7h-73zM1327 1996h73v5h-73zM1327 2222h73v3h-73zM1400 848h72v3h-72zM1400 885h72v2h-72zM1400 1037h72v4h-72zM1400 1228h72v3h-72zM1400 1334h72v5h-72zM1400 1357h72v6h-72zM1400 1394h72v3h-72zM1400 1435h72v5h-72zM1400 1565h72v2h-72zM1400 1676h72v4h-72zM1400 1693h72v4h-72zM1400 1730h72v6h-72zM1400 1738h72v6h-72zM1400 1748h72v3h-72zM1400 1768h72v4h-72zM1400 1830h72v6h-72zM1400 1849h72v4h-72zM1400 1900h72v4h-72zM1400 1917h72v4h-72zM1400 1940h72v2h-72zM1400 1974h72v5h-72zM1400 2332h72v6h-72zM1472 1244h73v5h-73zM1472 1253h73v5h-73zM1472 1579h73v3h-73zM1472 1641h73v9h-73zM1472 1768h73v4h-73zM1472 1957h73v5h-73zM1472 1966h73v5h-73zM1472 2167h73v7h-73zM1472 2338h73v2h-73zM1545 961h73v3h-73zM1545 1111h73v4h-73zM1545 1125h73v9h-73zM1545 1139h73v3h-73zM1545 1170h73v7h-73zM1545 1185h73v4h-73zM1545 1381h73v4h-73zM1545 1558h73v7h-73zM1545 1591h73v4h-73zM1545 1836h73v5h-73zM1545 1849h73v4h-73zM1545 2004h73v3h-73zM1545 2134h73v4h-73zM1545 2180h73v5h-73zM1618 894h73v7h-73zM1618 1223h73v5h-73zM1618 1249h73v4h-73zM1691 844h73v4h-73zM1691 857h73v5h-73zM1691 908h73v4h-73zM1691 1053h73v5h-73zM1691 1283h73v3h-73zM1691 1551h73v3h-73zM1691 1689h73v4h-73zM1691 1717h73v6h-73zM1691 1727h73v3h-73zM1691 1768h73v4h-73zM1691 1782h73v6h-73zM1691 1794h73v4h-73zM1691 1802h73v7h-73zM1691 1813h73v4h-73zM1691 1873h73v4h-73zM1691 1890h73v7h-73zM1764 974h72v7h-72zM1764 1032h72v5h-72zM1764 1588h72v3h-72zM1764 1736h72v2h-72zM1764 1765h72v3h-72zM1764 1921h72v5h-72zM1764 2225h72v7h-72zM1836 841h73v3h-73zM1836 914h73v6h-73zM1836 1080h73v7h-73zM1836 1149h73v5h-73zM1836 1177h73v4h-73zM1836 1293h73v4h-73zM1836 1405h73v7h-73zM1836 1579h73v3h-73zM1836 1588h73v3h-73zM1836 1841h73v4h-73zM1836 1996h73v5h-73zM1909 826h73v2h-73zM1909 874h73v11h-73zM1909 914h73v6h-73zM1909 941h73v3h-73zM1909 955h73v6h-73zM1909 992h73v6h-73zM1909 1262h73v2h-73zM1909 1367h73v5h-73zM1909 1450h73v7h-73zM1909 1512h73v5h-73zM1909 1634h73v7h-73zM1909 2158h73v4h-73zM1909 2304h73v4h-73zM1982 862h73v2h-73zM1982 871h73v3h-73zM1982 941h73v3h-73zM1982 964h73v3h-73zM1982 1149h73v5h-73zM1982 1208h73v5h-73zM1982 1301h73v3h-73zM1982 1397h73v4h-73zM1982 1525h73v5h-73zM1982 1539h73v4h-73zM1982 1554h73v4h-73zM1982 1634h73v7h-73zM1982 1744h73v7h-73zM1982 1809h73v4h-73zM1982 1817h73v5h-73zM1982 1845h73v2h-73zM1982 1954h73v3h-73zM1982 2142h73v6h-73zM1982 2296h73v6h-73zM2055 871h72v3h-72zM2055 1041h72v5h-72zM2055 1185h72v4h-72zM2055 1301h72v3h-72zM2055 1313h72v5h-72zM2055 1634h72v7h-72zM2055 1653h72v8h-72zM2055 1979h72v4h-72zM2055 2025h72v5h-72zM2055 2074h72v2h-72zM2055 2158h72v4h-72zM2127 836h73v5h-73zM2127 857h73v5h-73zM2127 944h73v7h-73zM2127 964h73v3h-73zM2127 985h73v4h-73zM2127 992h73v9h-73zM2127 1125h73v3h-73zM2127 1164h73v6h-73zM2127 1185h73v4h-73zM2127 1223h73v8h-73zM2127 1405h73v2h-73zM2127 1539h73v4h-73zM2127 1570h73v2h-73zM2127 1618h73v5h-73zM2127 1650h73v3h-73zM2127 1711h73v2h-73zM2127 1723h73v4h-73zM2127 1841h73v4h-73zM2127 1983h73v3h-73zM2127 2047h73v5h-73zM2127 2153h73v3h-73zM2127 2167h73v7h-73zM2127 2332h73v6h-73zM2200 864h73v7h-73zM2200 927h73v5h-73zM2200 1159h73v2h-73zM2200 1345h73v4h-73zM2200 1352h73v5h-73zM2200 1554h73v4h-73zM2200 1582h73v6h-73zM2200 2127h73v7h-73zM2273 908h73v4h-73zM2273 914h73v6h-73zM2273 961h73v3h-73zM2273 992h73v6h-73zM2273 1001h73v9h-73zM2273 1070h73v3h-73zM2273 1106h73v5h-73zM2273 1125h73v3h-73zM2273 1388h73v3h-73zM2273 1401h73v4h-73zM2273 1653h73v3h-73zM2273 1755h73v6h-73zM2273 1782h73v6h-73zM2273 1794h73v4h-73zM2273 1813h73v9h-73zM2273 1845h73v4h-73zM2273 1858h73v4h-73zM2273 2117h73v6h-73zM2273 2153h73v3h-73zM2346 862h72v2h-72zM2346 1097h72v5h-72zM2346 1146h72v3h-72zM2346 1223h72v8h-72zM2346 1352h72v5h-72zM2346 1412h72v7h-72zM2346 1565h72v2h-72zM2346 1570h72v2h-72z"/>
<path fill="#a5808a" d="M672 1291h73v2h-73zM672 1942h73v5h-73zM672 2258h73v6h-73zM745 1339h73v6h-73zM745 1554h73v4h-73zM745 1607h73v11h-73zM745 1693h73v4h-73zM745 1736h73v2h-73zM745 1794h73v4h-73zM818 841h72v3h-72zM818 1291h72v2h-72zM818 1326h72v3h-72zM818 1349h72v3h-72zM818 1432h72v3h-72zM818 1539h72v4h-72zM818 1641h72v4h-72zM818 2203h72v6h-72zM818 2237h72v3h-72zM890 1196h73v5h-73zM890 1244h73v5h-73zM890 1253h73v5h-73zM890 1572h73v7h-73zM890 1702h73v3h-73zM890 1904h73v5h-73zM890 1933h73v7h-73zM890 2109h73v4h-73zM890 2215h73v2h-73zM890 2264h73v2h-73zM890 2321h73v6h-73zM963 1097h73v5h-73zM963 1159h73v2h-73zM963 1231h73v2h-73zM963 1237h73v7h-73zM963 1432h73v3h-73zM963 1491h73v6h-73zM963 1543h73v5h-73zM963 1683h73v3h-73zM963 1782h73v6h-73zM963 1794h73v4h-73zM963 1836h73v5h-73zM963 1954h73v3h-73zM963 1962h73v4h-73zM963 1974h73v5h-73zM963 2010h73v3h-73zM1036 781h73v3h-73zM1036 789h73v2h-73zM1036 878h73v9h-73zM1036 1017h73v4h-73zM1036 1154h73v7h-73zM1036 1170h73v7h-73zM1036 1291h73v2h-73zM1036 1329h73v5h-73zM1036 1357h73v6h-73zM1036 1517h73v3h-73zM1036 1548h73v6h-73zM1036 1755h73v6h-73zM1036 1765h73v3h-73zM1036 1813h73v4h-73zM1036 1866h73v11h-73zM1036 1913h73v4h-73zM1036 1921h73v5h-73zM1036 1986h73v5h-73zM1036 2255h73v3h-73zM1109 807h72v7h-72zM1109 1213h72v3h-72zM1109 1253h72v5h-72zM1109 1572h72v7h-72zM1109 1588h72v3h-72zM1109 2167h72v7h-72zM1109 2194h72v6h-72zM1109 2282h72v6h-72zM1181 822h73v4h-73zM1181 1397h73v4h-73zM1181 1457h73v7h-73zM1181 1471h73v6h-73zM1181 1517h73v3h-73zM1181 1567h73v3h-73zM1181 1711h73v2h-73zM1181 1768h73v4h-73zM1181 1877h73v5h-73zM1181 2010h73v3h-73zM1254 791h73v3h-73zM1254 1264h73v5h-73zM1254 1291h73v2h-73zM1254 1397h73v4h-73zM1254 1407h73v12h-73zM1254 1430h73v2h-73zM1254 1579h73v3h-73zM1254 2105h73v4h-73zM1327 955h73v9h-73zM1327 1115h73v7h-73zM1327 1269h73v4h-73zM1327 1318h73v5h-73zM1327 1352h73v5h-73zM1327 1401h73v4h-73zM1327 1979h73v4h-73zM1327 2081h73v6h-73zM1327 2316h73v2h-73zM1327 2338h73v2h-73zM1327 2343h73v5h-73zM1400 878h72v7h-72zM1400 908h72v4h-72zM1400 935h72v6h-72zM1400 981h72v4h-72zM1400 992h72v9h-72zM1400 1106h72v5h-72zM1400 1326h72v3h-72zM1400 1401h72v6h-72zM1400 1468h72v3h-72zM1400 1517h72v3h-72zM1400 1656h72v5h-72zM1400 1713h72v4h-72zM1400 1886h72v4h-72zM1400 1913h72v4h-72zM1400 1983h72v3h-72zM1400 2025h72v5h-72zM1472 1432h73v3h-73zM1472 1517h73v3h-73zM1472 1565h73v2h-73zM1472 1623h73v3h-73zM1472 1711h73v2h-73zM1472 1751h73v4h-73zM1472 1782h73v6h-73zM1472 1947h73v4h-73zM1472 2001h73v3h-73zM1472 2127h73v7h-73zM1472 2209h73v6h-73zM1472 2234h73v3h-73zM1472 2321h73v6h-73zM1545 841h73v3h-73zM1545 1339h73v6h-73zM1545 1367h73v5h-73zM1618 828h73v3h-73zM1618 1422h73v4h-73zM1618 1430h73v5h-73zM1618 1536h73v3h-73zM1618 1543h73v5h-73zM1691 923h73v4h-73zM1691 935h73v6h-73zM1691 1164h73v6h-73zM1691 1208h73v5h-73zM1691 1216h73v3h-73zM1691 1318h73v5h-73zM1691 1367h73v5h-73zM1691 1397h73v4h-73zM1691 1554h73v4h-73zM1691 1723h73v4h-73zM1691 1877h73v5h-73zM1764 794h72v6h-72zM1764 912h72v2h-72zM1764 951h72v4h-72zM1764 967h72v7h-72zM1764 998h72v3h-72zM1764 1008h72v2h-72zM1764 1021h72v5h-72zM1764 1053h72v5h-72zM1764 1066h72v4h-72zM1764 1262h72v2h-72zM1764 1352h72v5h-72zM1764 1507h72v5h-72zM1764 1676h72v4h-72zM1764 1717h72v6h-72zM1764 1761h72v4h-72zM1764 1849h72v4h-72zM1764 1866h72v7h-72zM1764 1900h72v4h-72zM1764 1983h72v3h-72zM1764 2078h72v3h-72zM1836 826h73v2h-73zM1836 1161h73v3h-73zM1836 1196h73v5h-73zM1836 1286h73v5h-73zM1836 1318h73v5h-73zM1836 1394h73v3h-73zM1836 1497h73v5h-73zM1836 1645h73v5h-73zM1836 2074h73v2h-73zM1836 2103h73v2h-73zM1909 841h73v3h-73zM1909 1122h73v3h-73zM1909 1201h73v7h-73zM1909 1582h73v9h-73zM1909 2142h73v6h-73zM1982 998h73v3h-73zM1982 1046h73v12h-73zM1982 1070h73v3h-73zM1982 1077h73v10h-73zM1982 1249h73v4h-73zM1982 1276h73v7h-73zM1982 1308h73v5h-73zM1982 1367h73v5h-73zM1982 1512h73v8h-73zM1982 1530h73v2h-73zM1982 1755h73v6h-73zM1982 2138h73v4h-73zM1982 2156h73v2h-73zM2055 1291h72v2h-72zM2055 1308h72v5h-72zM2055 1405h72v2h-72zM2055 2105h72v4h-72zM2127 894h73v7h-73zM2127 1087h73v4h-73zM2127 1111h73v4h-73zM2127 1233h73v4h-73zM2127 1286h73v5h-73zM2200 1196h73v5h-73zM2200 1276h73v7h-73zM2200 1304h73v4h-73zM2200 1313h73v5h-73zM2200 2004h73v3h-73zM2200 2123h73v4h-73zM2273 998h73v3h-73zM2273 1216h73v3h-73zM2273 1262h73v2h-73zM2273 1497h73v5h-73zM2273 1532h73v4h-73zM2273 1641h73v4h-73zM2273 2105h73v4h-73zM2346 848h72v3h-72zM2346 1525h72v5h-72zM2346 1996h72v5h-72zM2346 2148h72v5h-72zM2346 2158h72v4h-72zM2346 2167h72v7h-72z"/>
<path fill="#9a8e96" d="M672 1297h73v4h-73zM672 1326h73v3h-73zM672 2033h73v7h-73zM745 1253h73v5h-73zM745 1318h73v5h-73zM745 1432h73v3h-73zM745 2266h73v4h-73zM818 777h72v4h-72zM818 1249h72v4h-72zM818 1345h72v4h-72zM818 1430h72v2h-72zM818 1618h72v5h-72zM818 2282h72v6h-72zM890 807h73v7h-73zM890 1231h73v13h-73zM890 1318h73v5h-73zM890 1339h73v6h-73zM890 1422h73v4h-73zM890 1491h73v6h-73zM890 1558h73v7h-73zM890 2302h73v2h-73zM963 1273h73v3h-73zM963 1394h73v3h-73zM963 1446h73v4h-73zM963 1966h73v5h-73zM963 2203h73v6h-73zM963 2232h73v2h-73zM963 2276h73v6h-73zM1036 1053h73v5h-73zM1036 1352h73v5h-73zM1036 1407h73v5h-73zM1036 1422h73v4h-73zM1036 1457h73v7h-73zM1036 1471h73v6h-73zM1036 1530h73v2h-73zM1036 1565h73v2h-73zM1036 1693h73v4h-73zM1036 1841h73v4h-73zM1036 1847h73v2h-73zM1036 1862h73v4h-73zM1036 1882h73v4h-73zM1036 1909h73v4h-73zM1036 1996h73v5h-73zM1036 2264h73v2h-73zM1109 1291h72v2h-72zM1109 1318h72v5h-72zM1109 1397h72v4h-72zM1109 1405h72v2h-72zM1109 1430h72v2h-72zM1109 1468h72v3h-72zM1109 1512h72v5h-72zM1109 1582h72v6h-72zM1109 1650h72v3h-72zM1109 2013h72v2h-72zM1181 1367h73v5h-73zM1181 1391h73v3h-73zM1181 1530h73v2h-73zM1181 1548h73v6h-73zM1181 1565h73v2h-73zM1181 1572h73v7h-73zM1181 1962h73v4h-73zM1181 1971h73v3h-73zM1181 2153h73v3h-73zM1181 2194h73v6h-73zM1254 1323h73v3h-73zM1254 1352h73v5h-73zM1254 2052h73v4h-73zM1327 878h73v7h-73zM1327 927h73v5h-73zM1327 935h73v6h-73zM1327 944h73v7h-73zM1327 964h73v3h-73zM1327 1139h73v3h-73zM1327 1253h73v5h-73zM1327 1323h73v3h-73zM1327 1468h73v3h-73zM1327 1572h73v7h-73zM1327 1582h73v6h-73zM1327 1873h73v4h-73zM1327 2240h73v3h-73zM1327 2340h73v3h-73zM1327 2348h73v1h-73zM1400 951h72v4h-72zM1400 974h72v7h-72zM1400 985h72v7h-72zM1400 1070h72v7h-72zM1400 1097h72v5h-72zM1400 1323h72v3h-72zM1400 1367h72v5h-72zM1400 1440h72v10h-72zM1400 1471h72v6h-72zM1400 1502h72v5h-72zM1400 1530h72v6h-72zM1400 1567h72v5h-72zM1400 1686h72v7h-72zM1400 1705h72v8h-72zM1400 1751h72v4h-72zM1400 1772h72v4h-72zM1400 1788h72v6h-72zM1400 1826h72v4h-72zM1400 1836h72v5h-72zM1400 1853h72v9h-72zM1400 1921h72v5h-72zM1400 2018h72v7h-72zM1472 1066h73v4h-73zM1472 1653h73v3h-73zM1472 1713h73v4h-73zM1472 1971h73v3h-73zM1545 803h73v4h-73zM1545 862h73v2h-73zM1545 871h73v3h-73zM1545 885h73v2h-73zM1545 894h73v7h-73zM1545 906h73v2h-73zM1545 1115h73v7h-73zM1545 1201h73v7h-73zM1545 1497h73v5h-73zM1545 1539h73v4h-73zM1545 1579h73v3h-73zM1545 1588h73v3h-73zM1545 1666h73v5h-73zM1618 851h73v6h-73zM1618 1115h73v7h-73zM1618 1237h73v7h-73zM1618 1283h73v3h-73zM1618 1570h73v2h-73zM1618 1588h73v3h-73zM1618 1653h73v3h-73zM1691 906h73v2h-73zM1691 1026h73v6h-73zM1691 1286h73v5h-73zM1691 1391h73v3h-73zM1691 1536h73v3h-73zM1691 1570h73v2h-73zM1691 1847h73v2h-73zM1691 1886h73v4h-73zM1691 2025h73v5h-73zM1691 2153h73v3h-73zM1764 935h72v6h-72zM1764 955h72v6h-72zM1764 1001h72v7h-72zM1764 1196h72v5h-72zM1764 1345h72v4h-72zM1764 1554h72v4h-72zM1764 1744h72v7h-72zM1764 1913h72v4h-72zM1764 1933h72v7h-72zM1764 2040h72v7h-72zM1764 2087h72v3h-72zM1836 862h73v2h-73zM1836 1087h73v4h-73zM1836 1097h73v5h-73zM1836 1111h73v4h-73zM1836 1125h73v9h-73zM1836 1159h73v2h-73zM1836 1189h73v7h-73zM1836 1231h73v2h-73zM1836 1237h73v7h-73zM1836 1276h73v7h-73zM1836 1304h73v4h-73zM1836 1381h73v4h-73zM1836 1412h73v7h-73zM1836 1711h73v2h-73zM1836 1853h73v5h-73zM1909 836h73v5h-73zM1909 901h73v5h-73zM1909 932h73v3h-73zM1909 1091h73v6h-73zM1909 1111h73v4h-73zM1909 1125h73v9h-73zM1909 1139h73v3h-73zM1909 1189h73v7h-73zM1909 1570h73v2h-73zM1909 1579h73v3h-73zM1909 1653h73v3h-73zM1909 1853h73v5h-73zM1909 1986h73v5h-73zM1909 2004h73v3h-73zM1982 848h73v9h-73zM1982 878h73v7h-73zM1982 887h73v7h-73zM1982 989h73v3h-73zM1982 1026h73v6h-73zM1982 1111h73v4h-73zM1982 1122h73v3h-73zM1982 1139h73v7h-73zM1982 1293h73v4h-73zM1982 1751h73v4h-73zM2055 1111h72v4h-72zM2055 1189h72v7h-72zM2055 1231h72v2h-72zM2055 1258h72v4h-72zM2055 1352h72v5h-72zM2055 1388h72v3h-72zM2055 1641h72v4h-72zM2055 2056h72v3h-72zM2055 2332h72v8h-72zM2127 800h73v3h-73zM2127 848h73v9h-73zM2127 878h73v7h-73zM2127 906h73v6h-73zM2127 1128h73v6h-73zM2127 1139h73v7h-73zM2127 1149h73v5h-73zM2127 1177h73v8h-73zM2127 1189h73v7h-73zM2127 1201h73v7h-73zM2127 1276h73v7h-73zM2127 1412h73v7h-73zM2127 1579h73v3h-73zM2127 1604h73v7h-73zM2127 1772h73v4h-73zM2127 2327h73v5h-73zM2200 1161h73v3h-73zM2200 1231h73v2h-73zM2200 1536h73v3h-73zM2200 1661h73v5h-73zM2200 2065h73v9h-73zM2273 923h73v4h-73zM2273 932h73v9h-73zM2273 967h73v7h-73zM2273 1026h73v6h-73zM2273 1097h73v9h-73zM2273 1181h73v15h-73zM2273 1219h73v4h-73zM2273 1233h73v4h-73zM2273 1397h73v4h-73zM2273 1407h73v5h-73zM2273 1558h73v9h-73zM2273 1723h73v4h-73zM2273 1841h73v4h-73zM2273 1849h73v4h-73zM2273 2074h73v4h-73zM2273 2158h73v4h-73zM2346 864h72v7h-72zM2346 1077h72v3h-72zM2346 1087h72v4h-72zM2346 1177h72v4h-72zM2346 1401h72v4h-72zM2346 1543h72v5h-72zM2346 1579h72v3h-72zM2346 1653h72v3h-72z"/>
<path fill="#7c73a1" d="M672 1313h73v5h-73zM672 1323h73v3h-73zM672 1357h73v6h-73zM672 1471h73v6h-73zM672 1558h73v7h-73zM672 2109h73v4h-73zM672 2158h73v4h-73zM672 2180h73v5h-73zM672 2237h73v3h-73zM672 2321h73v6h-73zM745 1329h73v5h-73zM745 1381h73v10h-73zM745 2071h73v3h-73zM745 2099h73v4h-73zM745 2127h73v7h-73zM745 2185h73v6h-73zM818 1381h72v4h-72zM818 1388h72v3h-72zM818 1435h72v11h-72zM818 1520h72v5h-72zM818 2007h72v3h-72zM818 2074h72v2h-72zM818 2078h72v3h-72zM818 2087h72v3h-72zM818 2156h72v2h-72zM818 2232h72v2h-72zM890 1329h73v5h-73zM890 1357h73v10h-73zM890 2018h73v7h-73zM890 2142h73v6h-73zM890 2288h73v8h-73zM890 2338h73v2h-73zM963 1391h73v3h-73zM963 1507h73v5h-73zM963 1641h73v4h-73zM963 2074h73v2h-73zM963 2095h73v4h-73zM963 2105h73v4h-73zM963 2158h73v4h-73zM963 2266h73v4h-73zM1036 794h73v6h-73zM1036 1942h73v5h-73zM1036 1951h73v3h-73zM1036 2117h73v6h-73zM1036 2148h73v5h-73zM1036 2276h73v6h-73zM1036 2288h73v8h-73zM1036 2321h73v6h-73zM1109 1329h72v5h-72zM1109 1391h72v3h-72zM1109 2087h72v3h-72zM1109 2123h72v4h-72zM1181 1525h73v5h-73zM1181 1591h73v4h-73zM1181 2059h73v6h-73zM1181 2090h73v5h-73zM1181 2099h73v4h-73zM1181 2109h73v4h-73zM1181 2127h73v7h-73zM1181 2348h73v1h-73zM1254 1329h73v5h-73zM1254 1491h73v6h-73zM1254 1512h73v5h-73zM1254 1532h73v4h-73zM1254 1582h73v6h-73zM1254 2296h73v6h-73zM1254 2304h73v4h-73zM1327 1363h73v4h-73zM1327 1440h73v6h-73zM1327 1558h73v7h-73zM1327 1630h73v4h-73zM1327 1671h73v5h-73zM1327 1940h73v2h-73zM1400 800h72v3h-72zM1400 2081h72v6h-72zM1400 2090h72v5h-72zM1400 2158h72v4h-72zM1400 2232h72v2h-72zM1400 2282h72v6h-72zM1472 1264h73v5h-73zM1472 1376h73v5h-73zM1472 1391h73v3h-73zM1472 1435h73v5h-73zM1472 1520h73v5h-73zM1472 1996h73v5h-73zM1472 2030h73v3h-73zM1472 2047h73v5h-73zM1472 2056h73v3h-73zM1472 2087h73v3h-73zM1472 2103h73v2h-73zM1472 2158h73v4h-73zM1472 2185h73v6h-73zM1545 920h73v3h-73zM1545 1032h73v5h-73zM1545 1041h73v5h-73zM1545 1066h73v7h-73zM1545 1680h73v3h-73zM1545 1727h73v3h-73zM1545 1755h73v10h-73zM1545 1802h73v7h-73zM1545 1830h73v6h-73zM1545 1845h73v2h-73zM1545 1866h73v11h-73zM1545 1893h73v4h-73zM1545 1954h73v3h-73zM1545 2240h73v3h-73zM1545 2266h73v4h-73zM1545 2308h73v8h-73zM1545 2321h73v6h-73zM1618 923h73v4h-73zM1618 961h73v6h-73zM1618 985h73v4h-73zM1618 1066h73v4h-73zM1618 1134h73v5h-73zM1618 1170h73v11h-73zM1618 1304h73v4h-73zM1618 1689h73v4h-73zM1618 1761h73v4h-73zM1618 1772h73v4h-73zM1618 1782h73v6h-73zM1618 1817h73v5h-73zM1618 1826h73v10h-73zM1618 1849h73v9h-73zM1618 1893h73v4h-73zM1618 1940h73v2h-73zM1618 1996h73v5h-73zM1618 2065h73v6h-73zM1618 2087h73v3h-73zM1618 2162h73v5h-73zM1618 2191h73v3h-73zM1618 2270h73v6h-73zM1618 2338h73v2h-73zM1691 1062h73v4h-73zM1691 1073h73v4h-73zM1691 1385h73v3h-73zM1691 1683h73v3h-73zM1691 1917h73v4h-73zM1691 1954h73v3h-73zM1691 2081h73v6h-73zM1691 2117h73v6h-73zM1691 2209h73v6h-73zM1691 2237h73v3h-73zM1691 2243h73v12h-73zM1691 2266h73v4h-73zM1691 2332h73v8h-73zM1764 826h72v2h-72zM1764 1543h72v5h-72zM1764 1940h72v2h-72zM1764 1954h72v3h-72zM1764 1974h72v5h-72zM1764 1991h72v5h-72zM1764 2047h72v9h-72zM1764 2074h72v2h-72zM1764 2103h72v2h-72zM1764 2156h72v2h-72zM1764 2200h72v3h-72zM1764 2338h72v2h-72zM1836 912h73v2h-73zM1836 1001h73v7h-73zM1836 1697h73v5h-73zM1836 1751h73v4h-73zM1836 1765h73v3h-73zM1836 1826h73v4h-73zM1836 1845h73v2h-73zM1836 1862h73v11h-73zM1836 1886h73v4h-73zM1836 1962h73v9h-73zM1836 2018h73v12h-73zM1836 2167h73v7h-73zM1836 2248h73v7h-73zM1836 2288h73v5h-73zM1836 2338h73v2h-73zM1836 2343h73v5h-73zM1909 857h73v5h-73zM1909 974h73v7h-73zM1909 1032h73v5h-73zM1909 1253h73v5h-73zM1909 1304h73v4h-73zM1909 1548h73v3h-73zM1909 1645h73v5h-73zM1909 1676h73v4h-73zM1909 1705h73v6h-73zM1909 1768h73v4h-73zM1909 1776h73v6h-73zM1909 1822h73v4h-73zM1909 1873h73v4h-73zM1909 1917h73v4h-73zM1909 1947h73v4h-73zM1909 1966h73v5h-73zM1909 2025h73v5h-73zM1909 2222h73v3h-73zM1909 2255h73v3h-73zM1909 2327h73v5h-73zM1982 920h73v3h-73zM1982 944h73v11h-73zM1982 1326h73v3h-73zM1982 1345h73v4h-73zM1982 1405h73v2h-73zM1982 1412h73v7h-73zM1982 1565h73v2h-73zM1982 1683h73v3h-73zM1982 1782h73v6h-73zM1982 1794h73v4h-73zM1982 1873h73v4h-73zM1982 1926h73v7h-73zM1982 1942h73v9h-73zM1982 2081h73v6h-73zM1982 2109h73v4h-73zM1982 2134h73v4h-73zM1982 2174h73v6h-73zM1982 2185h73v6h-73zM1982 2270h73v6h-73zM1982 2288h73v5h-73zM1982 2304h73v4h-73zM2055 814h72v2h-72zM2055 908h72v4h-72zM2055 914h72v6h-72zM2055 951h72v4h-72zM2055 974h72v7h-72zM2055 1021h72v5h-72zM2055 1062h72v8h-72zM2055 1102h72v4h-72zM2055 1125h72v3h-72zM2055 1134h72v5h-72zM2055 1164h72v6h-72zM2055 1565h72v2h-72zM2055 1676h72v4h-72zM2055 1689h72v8h-72zM2055 1713h72v4h-72zM2055 1830h72v6h-72zM2055 1890h72v3h-72zM2055 1900h72v4h-72zM2055 2215h72v2h-72zM2055 2264h72v2h-72zM2055 2312h72v4h-72zM2055 2321h72v6h-72zM2127 885h73v2h-73zM2127 1010h73v7h-73zM2127 1736h73v2h-73zM2127 1822h73v4h-73zM2127 1830h73v6h-73zM2127 1882h73v15h-73zM2127 1933h73v9h-73zM2127 2030h73v3h-73zM2127 2065h73v6h-73zM2127 2103h73v2h-73zM2127 2113h73v4h-73zM2127 2138h73v4h-73zM2127 2174h73v6h-73zM2127 2185h73v6h-73zM2127 2194h73v6h-73zM2127 2276h73v6h-73zM2200 857h73v5h-73zM2200 906h73v2h-73zM2200 1070h73v3h-73zM2200 1087h73v4h-73zM2200 1122h73v3h-73zM2200 1128h73v6h-73zM2200 1539h73v9h-73zM2200 1645h73v5h-73zM2200 1680h73v6h-73zM2200 1693h73v4h-73zM2200 1809h73v4h-73zM2200 1866h73v7h-73zM2200 1897h73v3h-73zM2200 1913h73v4h-73zM2200 2056h73v3h-73zM2200 2153h73v3h-73zM2200 2270h73v6h-73zM2273 784h73v5h-73zM2273 1046h73v7h-73zM2273 1689h73v4h-73zM2273 1947h73v4h-73zM2273 2004h73v3h-73zM2273 2018h73v12h-73zM2273 2148h73v5h-73zM2273 2180h73v5h-73zM2273 2237h73v3h-73zM2273 2338h73v2h-73zM2346 857h72v5h-72zM2346 874h72v4h-72zM2346 1001h72v7h-72zM2346 1053h72v5h-72zM2346 1326h72v3h-72zM2346 1385h72v3h-72zM2346 1558h72v7h-72zM2346 1645h72v5h-72zM2346 1676h72v4h-72zM2346 1705h72v6h-72zM2346 1717h72v6h-72zM2346 1727h72v3h-72zM2346 1900h72v9h-72zM2346 1913h72v4h-72zM2346 2095h72v4h-72zM2346 2105h72v4h-72zM2346 2174h72v6h-72zM2346 2203h72v6h-72zM2346 2240h72v3h-72zM2346 2332h72v6h-72z"/>
<path fill="#8c879e" d="M672 1318h73v5h-73zM672 2185h73v6h-73zM745 1249h73v4h-73zM745 1334h73v5h-73zM745 1450h73v14h-73zM745 1484h73v2h-73zM745 1656h73v5h-73zM745 2134h73v4h-73zM745 2308h73v4h-73zM745 2338h73v2h-73zM818 1216h72v3h-72zM818 1301h72v3h-72zM818 1329h72v5h-72zM818 1394h72v3h-72zM818 1401h72v4h-72zM818 1446h72v4h-72zM818 1486h72v5h-72zM818 1497h72v5h-72zM818 1611h72v7h-72zM818 1626h72v4h-72zM818 2117h72v6h-72zM818 2348h72v1h-72zM890 1249h73v4h-73zM890 1611h73v7h-73zM890 2167h73v7h-73zM963 1264h73v5h-73zM963 1381h73v4h-73zM963 1484h73v2h-73zM963 2018h73v7h-73zM963 2296h73v6h-73zM1036 1213h73v3h-73zM1036 1237h73v7h-73zM1036 1376h73v5h-73zM1036 1385h73v6h-73zM1036 1567h73v3h-73zM1036 1702h73v3h-73zM1036 1940h73v2h-73zM1036 2076h73v2h-73zM1036 2095h73v4h-73zM1109 1249h72v4h-72zM1109 1432h72v3h-72zM1109 2018h72v7h-72zM1109 2074h72v2h-72zM1181 1357h73v6h-73zM1181 1381h73v4h-73zM1181 1401h73v4h-73zM1181 1486h73v5h-73zM1181 1588h73v3h-73zM1181 1630h73v4h-73zM1181 2180h73v5h-73zM1254 1313h73v5h-73zM1254 1405h73v2h-73zM1254 1517h73v3h-73zM1327 862h73v2h-73zM1327 885h73v2h-73zM1327 1208h73v5h-73zM1327 1228h73v3h-73zM1327 1367h73v5h-73zM1327 1486h73v5h-73zM1327 1530h73v2h-73zM1327 1711h73v2h-73zM1327 1836h73v5h-73zM1327 1904h73v5h-73zM1327 1917h73v4h-73zM1327 1926h73v14h-73zM1327 1962h73v4h-73zM1327 1974h73v5h-73zM1327 2288h73v5h-73zM1400 887h72v7h-72zM1400 1053h72v5h-72zM1400 1062h72v4h-72zM1400 1554h72v4h-72zM1400 1641h72v4h-72zM1400 1683h72v3h-72zM1400 1702h72v3h-72zM1400 1736h72v2h-72zM1400 1933h72v7h-72zM1400 1966h72v8h-72zM1400 2076h72v2h-72zM1400 2099h72v4h-72zM1400 2156h72v2h-72zM1400 2191h72v3h-72zM1400 2217h72v5h-72zM1400 2237h72v3h-72zM1400 2302h72v2h-72zM1472 1440h73v24h-73zM1545 955h73v6h-73zM1545 998h73v10h-73zM1545 1010h73v11h-73zM1545 1037h73v4h-73zM1545 1134h73v5h-73zM1545 1146h73v8h-73zM1545 1233h73v4h-73zM1545 1572h73v7h-73zM1545 1582h73v6h-73zM1545 1782h73v6h-73zM1545 1847h73v2h-73zM1545 1858h73v4h-73zM1545 2156h73v2h-73zM1545 2185h73v6h-73zM1545 2248h73v7h-73zM1545 2296h73v6h-73zM1618 887h73v7h-73zM1618 901h73v7h-73zM1618 1077h73v10h-73zM1618 1122h73v3h-73zM1618 1128h73v6h-73zM1618 1228h73v3h-73zM1618 1276h73v7h-73zM1618 1567h73v3h-73zM1618 1582h73v6h-73zM1618 1591h73v4h-73zM1618 1645h73v5h-73zM1618 2059h73v6h-73zM1691 841h73v3h-73zM1691 961h73v13h-73zM1691 1032h73v5h-73zM1691 1066h73v4h-73zM1691 1539h73v4h-73zM1691 1558h73v7h-73zM1691 1680h73v3h-73zM1691 1744h73v4h-73zM1691 1761h73v4h-73zM1691 1772h73v4h-73zM1691 1897h73v3h-73zM1691 2059h73v6h-73zM1691 2099h73v4h-73zM1691 2142h73v6h-73zM1691 2167h73v7h-73zM1764 784h72v7h-72zM1764 1201h72v7h-72zM1764 1497h72v5h-72zM1764 1536h72v3h-72zM1764 1689h72v4h-72zM1764 1755h72v6h-72zM1764 1909h72v4h-72zM1764 2056h72v3h-72zM1836 791h73v3h-73zM1836 923h73v4h-73zM1836 985h73v4h-73zM1836 992h73v6h-73zM1836 1008h73v2h-73zM1836 1070h73v3h-73zM1836 1102h73v4h-73zM1836 1115h73v7h-73zM1836 1134h73v5h-73zM1836 1301h73v3h-73zM1836 1548h73v3h-73zM1836 1755h73v6h-73zM1836 2033h73v7h-73zM1909 887h73v7h-73zM1909 981h73v11h-73zM1909 1008h73v2h-73zM1909 1070h73v3h-73zM1909 1102h73v4h-73zM1909 1177h73v4h-73zM1909 1551h73v3h-73zM1909 1693h73v4h-73zM1909 1809h73v4h-73zM1909 1996h73v5h-73zM1909 2123h73v4h-73zM1909 2296h73v6h-73zM1982 857h73v5h-73zM1982 885h73v2h-73zM1982 923h73v4h-73zM1982 932h73v3h-73zM1982 961h73v3h-73zM1982 1134h73v5h-73zM1982 1213h73v3h-73zM1982 1258h73v4h-73zM1982 1273h73v3h-73zM1982 1401h73v4h-73zM1982 1497h73v5h-73zM1982 1532h73v7h-73zM1982 1686h73v7h-73zM1982 1736h73v2h-73zM1982 1761h73v7h-73zM1982 1813h73v4h-73zM1982 1822h73v4h-73zM1982 1849h73v4h-73zM1982 1886h73v4h-73zM1982 2015h73v10h-73zM1982 2127h73v7h-73zM2055 862h72v2h-72zM2055 887h72v7h-72zM2055 901h72v5h-72zM2055 941h72v3h-72zM2055 1058h72v4h-72zM2055 1070h72v7h-72zM2055 1159h72v2h-72zM2055 1170h72v7h-72zM2055 1223h72v8h-72zM2055 1394h72v3h-72zM2055 1543h72v5h-72zM2055 1755h72v6h-72zM2055 1836h72v9h-72zM2055 1849h72v4h-72zM2055 1986h72v5h-72zM2127 914h73v6h-73zM2127 927h73v5h-73zM2127 1021h73v5h-73zM2127 1073h73v4h-73zM2127 1102h73v4h-73zM2127 1262h73v2h-73zM2127 1558h73v9h-73zM2127 1611h73v7h-73zM2127 1645h73v5h-73zM2127 1686h73v3h-73zM2127 1705h73v6h-73zM2127 1713h73v4h-73zM2127 1782h73v6h-73zM2127 1836h73v5h-73zM2127 1847h73v2h-73zM2127 1858h73v8h-73zM2127 2013h73v2h-73zM2127 2040h73v7h-73zM2200 781h73v3h-73zM2200 789h73v2h-73zM2200 862h73v2h-73zM2200 923h73v4h-73zM2200 932h73v3h-73zM2200 955h73v9h-73zM2200 992h73v6h-73zM2200 1017h73v4h-73zM2200 1146h73v8h-73zM2200 1164h73v13h-73zM2200 1181h73v4h-73zM2200 1228h73v3h-73zM2200 1233h73v4h-73zM2200 1381h73v7h-73zM2200 1551h73v3h-73zM2200 1650h73v6h-73zM2200 1748h73v3h-73zM2200 2332h73v6h-73zM2200 2343h73v5h-73zM2273 857h73v5h-73zM2273 1010h73v7h-73zM2273 1032h73v5h-73zM2273 1041h73v5h-73zM2273 1053h73v9h-73zM2273 1376h73v5h-73zM2273 1798h73v11h-73zM2273 1893h73v4h-73zM2273 1954h73v3h-73zM2273 2007h73v3h-73zM2273 2138h73v4h-73zM2346 878h72v7h-72zM2346 887h72v7h-72zM2346 998h72v3h-72zM2346 1041h72v5h-72zM2346 1161h72v3h-72zM2346 1170h72v7h-72zM2346 1381h72v4h-72zM2346 1397h72v4h-72zM2346 1650h72v3h-72zM2346 1666h72v5h-72zM2346 2099h72v4h-72zM2346 2302h72v2h-72z"/>
<path fill="#8983a0" d="M672 1334h73v5h-73zM672 1401h73v4h-73zM672 1539h73v4h-73zM672 2348h73v1h-73zM745 1323h73v3h-73zM745 1367h73v5h-73zM745 1394h73v3h-73zM745 1440h73v10h-73zM745 1572h73v7h-73zM745 2030h73v3h-73zM745 2040h73v7h-73zM745 2312h73v4h-73zM745 2348h73v1h-73zM818 791h72v3h-72zM818 1339h72v6h-72zM818 1572h72v7h-72zM818 1671h72v5h-72zM818 1991h72v5h-72zM818 2065h72v6h-72zM818 2109h72v4h-72zM890 1323h73v3h-73zM890 1367h73v5h-73zM890 1397h73v4h-73zM890 1450h73v7h-73zM890 1512h73v5h-73zM890 1539h73v4h-73zM890 1645h73v5h-73zM890 1656h73v5h-73zM890 2056h73v3h-73zM890 2200h73v3h-73zM963 1385h73v6h-73zM963 1582h73v6h-73zM963 1645h73v5h-73zM963 2217h73v5h-73zM1036 1244h73v5h-73zM1036 1258h73v4h-73zM1036 1269h73v4h-73zM1036 1381h73v4h-73zM1036 1391h73v3h-73zM1036 1435h73v5h-73zM1036 1520h73v5h-73zM1036 1736h73v2h-73zM1036 2134h73v4h-73zM1036 2232h73v2h-73zM1036 2243h73v5h-73zM1109 1323h72v3h-72zM1109 1349h72v3h-72zM1109 1446h72v4h-72zM1109 1530h72v6h-72zM1109 1558h72v7h-72zM1109 2030h72v3h-72zM1109 2047h72v5h-72zM1109 2293h72v3h-72zM1181 1405h73v2h-73zM1181 1430h73v2h-73zM1181 2191h73v3h-73zM1254 1334h73v5h-73zM1254 1357h73v6h-73zM1254 1530h73v2h-73zM1254 1634h73v7h-73zM1254 2040h73v7h-73zM1254 2056h73v3h-73zM1254 2076h73v2h-73zM1254 2312h73v4h-73zM1327 857h73v5h-73zM1327 1062h73v4h-73zM1327 1233h73v4h-73zM1327 1249h73v4h-73zM1327 1450h73v7h-73zM1327 1471h73v13h-73zM1327 1661h73v5h-73zM1327 1683h73v6h-73zM1327 1693h73v4h-73zM1327 1788h73v6h-73zM1327 1826h73v4h-73zM1327 1841h73v4h-73zM1327 1849h73v4h-73zM1327 1897h73v3h-73zM1327 1971h73v3h-73zM1327 2109h73v4h-73zM1327 2185h73v6h-73zM1327 2194h73v6h-73zM1327 2308h73v4h-73zM1400 1507h72v5h-72zM1400 1520h72v5h-72zM1400 1680h72v3h-72zM1400 1909h72v4h-72zM1400 1954h72v8h-72zM1400 2047h72v5h-72zM1400 2095h72v4h-72zM1400 2194h72v6h-72zM1472 1258h73v4h-73zM1472 1367h73v5h-73zM1472 1468h73v3h-73zM1472 1484h73v2h-73zM1472 1507h73v5h-73zM1472 2065h73v6h-73zM1472 2113h73v10h-73zM1472 2153h73v3h-73zM1472 2343h73v5h-73zM1545 923h73v4h-73zM1545 964h73v10h-73zM1545 992h73v6h-73zM1545 1021h73v5h-73zM1545 1142h73v4h-73zM1545 1154h73v5h-73zM1545 1228h73v3h-73zM1545 1705h73v6h-73zM1545 1798h73v4h-73zM1545 1853h73v5h-73zM1545 1862h73v4h-73zM1545 1917h73v4h-73zM1545 1996h73v5h-73zM1545 2191h73v3h-73zM1618 836h73v5h-73zM1618 862h73v9h-73zM1618 1125h73v3h-73zM1618 1161h73v3h-73zM1618 1558h73v7h-73zM1618 1579h73v3h-73zM1618 2056h73v3h-73zM1618 2109h73v4h-73zM1618 2293h73v3h-73zM1691 848h73v3h-73zM1691 981h73v4h-73zM1691 998h73v3h-73zM1691 1070h73v3h-73zM1691 1201h73v7h-73zM1691 1228h73v3h-73zM1691 1381h73v4h-73zM1691 1543h73v5h-73zM1691 1572h73v7h-73zM1691 1693h73v4h-73zM1691 1748h73v3h-73zM1691 1776h73v6h-73zM1691 1862h73v4h-73zM1691 1909h73v4h-73zM1691 1991h73v5h-73zM1691 2293h73v3h-73zM1764 814h72v2h-72zM1764 1565h72v2h-72zM1764 2153h72v3h-72zM1764 2302h72v2h-72zM1836 836h73v5h-73zM1836 901h73v7h-73zM1836 955h73v6h-73zM1836 1073h73v4h-73zM1836 1164h73v6h-73zM1836 1185h73v4h-73zM1836 1223h73v5h-73zM1836 1385h73v3h-73zM1836 1676h73v7h-73zM1836 1689h73v4h-73zM1836 1702h73v3h-73zM1836 1723h73v4h-73zM1836 1849h73v4h-73zM1836 1926h73v7h-73zM1909 961h73v3h-73zM1909 967h73v7h-73zM1909 1017h73v9h-73zM1909 1053h73v13h-73zM1909 1536h73v3h-73zM1909 1666h73v5h-73zM1909 1788h73v10h-73zM1909 1813h73v9h-73zM1909 1826h73v10h-73zM1909 1862h73v11h-73zM1909 1877h73v5h-73zM1909 1926h73v14h-73zM1909 2095h73v4h-73zM1909 2332h73v6h-73zM1982 967h73v7h-73zM1982 1231h73v2h-73zM1982 1262h73v2h-73zM1982 1269h73v4h-73zM1982 1376h73v9h-73zM1982 1407h73v5h-73zM1982 1520h73v5h-73zM1982 1676h73v4h-73zM1982 1723h73v4h-73zM1982 1738h73v6h-73zM1982 1802h73v7h-73zM1982 1853h73v5h-73zM1982 1877h73v5h-73zM1982 1890h73v3h-73zM1982 1940h73v2h-73zM1982 1957h73v14h-73zM1982 2047h73v5h-73zM1982 2321h73v6h-73zM2055 955h72v6h-72zM2055 981h72v4h-72zM2055 1008h72v2h-72zM2055 1026h72v6h-72zM2055 1053h72v5h-72zM2055 1139h72v7h-72zM2055 1154h72v5h-72zM2055 1419h72v3h-72zM2055 1582h72v6h-72zM2055 1705h72v6h-72zM2055 1723h72v4h-72zM2055 1748h72v3h-72zM2055 1761h72v4h-72zM2055 1847h72v2h-72zM2055 2117h72v6h-72zM2127 974h73v7h-73zM2127 1017h73v4h-73zM2127 1053h73v9h-73zM2127 1066h73v4h-73zM2127 1097h73v5h-73zM2127 1381h73v4h-73zM2127 1595h73v7h-73zM2127 1683h73v3h-73zM2127 1727h73v9h-73zM2127 1744h73v4h-73zM2127 1794h73v4h-73zM2127 1809h73v8h-73zM2127 1845h73v2h-73zM2127 1877h73v5h-73zM2127 1926h73v7h-73zM2127 2025h73v5h-73zM2127 2033h73v7h-73zM2127 2078h73v3h-73zM2127 2142h73v6h-73zM2127 2203h73v6h-73zM2127 2318h73v3h-73zM2200 777h73v4h-73zM2200 791h73v3h-73zM2200 874h73v4h-73zM2200 914h73v6h-73zM2200 1008h73v2h-73zM2200 1041h73v5h-73zM2200 1058h73v4h-73zM2200 1154h73v5h-73zM2200 1926h73v7h-73zM2200 2217h73v5h-73zM2200 2316h73v2h-73zM2273 1394h73v3h-73zM2273 1650h73v3h-73zM2273 1671h73v5h-73zM2273 1713h73v4h-73zM2273 1727h73v3h-73zM2273 1736h73v2h-73zM2273 1830h73v6h-73zM2273 1882h73v8h-73zM2273 1979h73v4h-73zM2273 1986h73v5h-73zM2346 901h72v5h-72zM2346 985h72v4h-72zM2346 1021h72v5h-72zM2346 1058h72v4h-72zM2346 1115h72v7h-72zM2346 1661h72v5h-72zM2346 1671h72v5h-72zM2346 1711h72v6h-72zM2346 1768h72v4h-72zM2346 1853h72v5h-72zM2346 1926h72v7h-72zM2346 2059h72v6h-72zM2346 2081h72v6h-72zM2346 2288h72v5h-72z"/>
<path fill="#6c60a2" d="M672 1385h73v3h-73zM672 1477h73v7h-73zM672 1486h73v5h-73zM672 2030h73v3h-73zM672 2074h73v2h-73zM672 2095h73v4h-73zM672 2288h73v5h-73zM672 2318h73v3h-73zM745 2004h73v3h-73zM745 2015h73v3h-73zM745 2074h73v2h-73zM745 2095h73v4h-73zM745 2109h73v4h-73zM745 2296h73v6h-73zM745 2318h73v3h-73zM745 2332h73v6h-73zM818 784h72v5h-72zM818 1525h72v5h-72zM818 2018h72v7h-72zM818 2059h72v6h-72zM818 2071h72v3h-72zM818 2095h72v8h-72zM818 2162h72v5h-72zM890 2015h73v3h-73zM890 2081h73v6h-73zM890 2123h73v4h-73zM890 2174h73v6h-73zM890 2191h73v3h-73zM890 2296h73v6h-73zM963 816h73v6h-73zM963 2007h73v3h-73zM963 2113h73v4h-73zM963 2127h73v7h-73zM963 2222h73v3h-73zM963 2321h73v6h-73zM1036 816h73v6h-73zM1036 2103h73v2h-73zM1036 2109h73v4h-73zM1036 2200h73v9h-73zM1109 1435h72v5h-72zM1109 1520h72v10h-72zM1109 2015h72v3h-72zM1109 2033h72v7h-72zM1109 2138h72v10h-72zM1109 2158h72v4h-72zM1109 2180h72v5h-72zM1181 1582h73v6h-73zM1181 2007h73v3h-73zM1181 2074h73v2h-73zM1181 2113h73v4h-73zM1254 781h73v3h-73zM1254 1484h73v2h-73zM1254 1996h73v5h-73zM1254 2033h73v7h-73zM1254 2047h73v5h-73zM1254 2081h73v6h-73zM1254 2123h73v4h-73zM1254 2156h73v2h-73zM1254 2348h73v1h-73zM1327 1951h73v3h-73zM1327 2180h73v5h-73zM1327 2215h73v2h-73zM1327 2270h73v12h-73zM1400 2105h72v4h-72zM1400 2123h72v4h-72zM1472 2018h73v7h-73zM1472 2174h73v6h-73zM1472 2191h73v3h-73zM1472 2203h73v6h-73zM1472 2296h73v6h-73zM1545 807h73v7h-73zM1545 1046h73v7h-73zM1545 1697h73v5h-73zM1545 1744h73v4h-73zM1545 1751h73v4h-73zM1545 1813h73v4h-73zM1545 1890h73v3h-73zM1545 1909h73v4h-73zM1545 1942h73v5h-73zM1545 1962h73v4h-73zM1545 2015h73v3h-73zM1545 2105h73v4h-73zM1545 2167h73v7h-73zM1545 2282h73v6h-73zM1545 2338h73v2h-73zM1618 935h73v6h-73zM1618 951h73v4h-73zM1618 974h73v7h-73zM1618 992h73v6h-73zM1618 1001h73v7h-73zM1618 1032h73v5h-73zM1618 1736h73v2h-73zM1618 1748h73v7h-73zM1618 1765h73v3h-73zM1618 1917h73v4h-73zM1618 1926h73v7h-73zM1618 2076h73v5h-73zM1618 2113h73v4h-73zM1618 2142h73v6h-73zM1618 2200h73v3h-73zM1618 2255h73v9h-73zM1618 2266h73v4h-73zM1691 1962h73v4h-73zM1691 2047h73v5h-73zM1691 2087h73v3h-73zM1691 2215h73v2h-73zM1691 2318h73v3h-73zM1764 777h72v4h-72zM1764 2010h72v3h-72zM1764 2025h72v5h-72zM1764 2081h72v6h-72zM1764 2158h72v4h-72zM1764 2248h72v7h-72zM1764 2270h72v6h-72zM1764 2318h72v3h-72zM1764 2348h72v1h-72zM1836 1727h73v3h-73zM1836 1802h73v7h-73zM1836 1897h73v7h-73zM1836 2076h73v2h-73zM1836 2113h73v4h-73zM1836 2185h73v6h-73zM1836 2215h73v2h-73zM1836 2243h73v5h-73zM1836 2255h73v9h-73zM1836 2276h73v6h-73zM1836 2293h73v3h-73zM1909 1385h73v3h-73zM1909 1683h73v3h-73zM1909 1765h73v3h-73zM1909 1772h73v4h-73zM1909 2007h73v3h-73zM1909 2174h73v6h-73zM1909 2191h73v3h-73zM1909 2225h73v7h-73zM1909 2270h73v6h-73zM1909 2316h73v2h-73zM1982 912h73v2h-73zM1982 1385h73v3h-73zM1982 1702h73v3h-73zM1982 1788h73v6h-73zM1982 1909h73v4h-73zM1982 2071h73v3h-73zM1982 2078h73v3h-73zM1982 2191h73v3h-73zM1982 2203h73v6h-73zM1982 2248h73v10h-73zM1982 2340h73v3h-73zM2055 1381h72v4h-72zM2055 1572h72v7h-72zM2055 1798h72v4h-72zM2055 1909h72v4h-72zM2055 2167h72v7h-72zM2055 2200h72v3h-72zM2055 2234h72v3h-72zM2055 2266h72v10h-72zM2055 2296h72v8h-72zM2055 2327h72v5h-72zM2127 1921h73v5h-73zM2127 2087h73v3h-73zM2127 2215h73v7h-73zM2127 2225h73v7h-73zM2127 2255h73v3h-73zM2127 2304h73v4h-73zM2200 828h73v3h-73zM2200 981h73v4h-73zM2200 1558h73v7h-73zM2200 1572h73v7h-73zM2200 1802h73v7h-73zM2200 1890h73v3h-73zM2200 1940h73v2h-73zM2200 2025h73v5h-73zM2200 2113h73v4h-73zM2200 2232h73v2h-73zM2200 2243h73v5h-73zM2200 2296h73v6h-73zM2200 2312h73v4h-73zM2273 791h73v3h-73zM2273 1381h73v4h-73zM2273 1738h73v6h-73zM2273 1951h73v3h-73zM2273 1962h73v4h-73zM2273 1971h73v3h-73zM2273 1983h73v3h-73zM2273 2167h73v13h-73zM2346 912h72v2h-72zM2346 920h72v3h-72zM2346 935h72v6h-72zM2346 1680h72v3h-72zM2346 1794h72v4h-72zM2346 1873h72v4h-72zM2346 1893h72v4h-72zM2346 1942h72v5h-72zM2346 1951h72v3h-72zM2346 2025h72v5h-72zM2346 2056h72v3h-72zM2346 2074h72v2h-72zM2346 2123h72v4h-72zM2346 2191h72v3h-72zM2346 2222h72v3h-72z"/>
<path fill="#746aa1" d="M672 1457h73v7h-73zM672 1484h73v2h-73zM672 1641h73v4h-73zM672 1650h73v3h-73zM672 2103h73v2h-73zM672 2142h73v6h-73zM672 2174h73v6h-73zM672 2225h73v7h-73zM672 2302h73v2h-73zM672 2327h73v5h-73zM745 814h73v2h-73zM745 1372h73v4h-73zM745 1391h73v3h-73zM745 1497h73v10h-73zM745 1558h73v7h-73zM745 1996h73v5h-73zM745 2059h73v6h-73zM745 2081h73v6h-73zM745 2113h73v4h-73zM745 2302h73v2h-73zM745 2321h73v6h-73zM745 2340h73v3h-73zM818 803h72v4h-72zM818 1228h72v3h-72zM818 1385h72v3h-72zM818 1507h72v5h-72zM818 1558h72v7h-72zM818 1979h72v4h-72zM818 2105h72v4h-72zM890 803h73v4h-73zM890 1372h73v4h-73zM890 1401h73v6h-73zM890 1979h73v4h-73zM890 2007h73v3h-73zM890 2033h73v7h-73zM890 2138h73v4h-73zM890 2158h73v4h-73zM890 2185h73v6h-73zM890 2266h73v4h-73zM890 2348h73v1h-73zM963 826h73v5h-73zM963 1996h73v5h-73zM963 2030h73v10h-73zM963 2056h73v3h-73zM963 2103h73v2h-73zM963 2153h73v3h-73zM963 2332h73v6h-73zM1036 800h73v7h-73zM1036 2007h73v3h-73zM1036 2018h73v7h-73zM1036 2090h73v5h-73zM1036 2142h73v6h-73zM1036 2162h73v5h-73zM1036 2174h73v6h-73zM1036 2185h73v6h-73zM1036 2296h73v6h-73zM1036 2338h73v2h-73zM1036 2343h73v5h-73zM1109 826h72v2h-72zM1109 1357h72v6h-72zM1109 2078h72v3h-72zM1109 2103h72v2h-72zM1109 2134h72v4h-72zM1109 2162h72v5h-72zM1109 2174h72v6h-72zM1109 2185h72v9h-72zM1109 2321h72v6h-72zM1109 2332h72v6h-72zM1181 784h73v5h-73zM1181 826h73v2h-73zM1181 2013h73v2h-73zM1181 2040h73v12h-73zM1181 2103h73v2h-73zM1181 2123h73v4h-73zM1181 2148h73v5h-73zM1181 2234h73v3h-73zM1181 2266h73v4h-73zM1181 2296h73v6h-73zM1181 2318h73v3h-73zM1181 2338h73v10h-73zM1254 1385h73v3h-73zM1254 1391h73v3h-73zM1254 1477h73v7h-73zM1254 2025h73v5h-73zM1254 2162h73v5h-73zM1254 2308h73v4h-73zM1254 2318h73v3h-73zM1254 2338h73v2h-73zM1327 1391h73v3h-73zM1327 1502h73v5h-73zM1327 1525h73v5h-73zM1327 2015h73v3h-73zM1327 2030h73v3h-73zM1327 2047h73v5h-73zM1327 2099h73v4h-73zM1327 2225h73v9h-73zM1327 2332h73v6h-73zM1400 803h72v4h-72zM1400 1385h72v9h-72zM1400 1525h72v5h-72zM1400 2007h72v3h-72zM1400 2033h72v7h-72zM1400 2078h72v3h-72zM1400 2113h72v4h-72zM1400 2138h72v4h-72zM1400 2148h72v5h-72zM1400 2240h72v8h-72zM1400 2304h72v4h-72zM1472 1372h73v4h-73zM1472 1381h73v4h-73zM1472 1388h73v3h-73zM1472 1582h73v6h-73zM1472 2007h73v3h-73zM1472 2033h73v7h-73zM1472 2059h73v6h-73zM1472 2071h73v3h-73zM1472 2138h73v4h-73zM1472 2266h73v4h-73zM1472 2348h73v1h-73zM1545 974h73v7h-73zM1545 989h73v3h-73zM1545 1062h73v4h-73zM1545 1304h73v4h-73zM1545 1683h73v3h-73zM1545 1702h73v3h-73zM1545 1738h73v6h-73zM1545 1776h73v6h-73zM1545 1882h73v4h-73zM1545 1940h73v2h-73zM1545 1974h73v5h-73zM1545 2025h73v5h-73zM1545 2087h73v3h-73zM1545 2153h73v3h-73zM1545 2225h73v7h-73zM1545 2234h73v3h-73zM1545 2258h73v6h-73zM1618 791h73v3h-73zM1618 914h73v9h-73zM1618 941h73v3h-73zM1618 955h73v6h-73zM1618 1008h73v2h-73zM1618 1017h73v4h-73zM1618 1026h73v6h-73zM1618 1037h73v4h-73zM1618 1058h73v4h-73zM1618 1154h73v5h-73zM1618 1326h73v3h-73zM1618 1683h73v3h-73zM1618 1705h73v8h-73zM1618 1717h73v6h-73zM1618 1727h73v3h-73zM1618 1822h73v4h-73zM1618 1845h73v2h-73zM1618 1862h73v4h-73zM1618 1873h73v4h-73zM1618 1890h73v3h-73zM1618 1897h73v3h-73zM1618 1947h73v4h-73zM1618 1954h73v3h-73zM1618 1966h73v5h-73zM1618 1974h73v9h-73zM1618 1991h73v5h-73zM1618 2010h73v3h-73zM1618 2180h73v5h-73zM1618 2215h73v2h-73zM1618 2276h73v6h-73zM1618 2308h73v8h-73zM1618 2318h73v3h-73zM1691 814h73v2h-73zM1691 1697h73v5h-73zM1691 1940h73v2h-73zM1691 2010h73v3h-73zM1691 2134h73v4h-73zM1691 2194h73v9h-73zM1691 2217h73v5h-73zM1691 2255h73v3h-73zM1691 2264h73v2h-73zM1691 2276h73v6h-73zM1691 2288h73v5h-73zM1764 807h72v7h-72zM1764 816h72v10h-72zM1764 831h72v5h-72zM1764 1558h72v7h-72zM1764 1951h72v3h-72zM1764 2095h72v4h-72zM1764 2109h72v4h-72zM1764 2148h72v5h-72zM1764 2185h72v9h-72zM1764 2217h72v5h-72zM1764 2255h72v3h-72zM1764 2304h72v4h-72zM1764 2316h72v2h-72zM1764 2321h72v11h-72zM1836 784h73v5h-73zM1836 908h73v4h-73zM1836 1021h73v5h-73zM1836 1106h73v5h-73zM1836 1269h73v4h-73zM1836 1738h73v6h-73zM1836 1798h73v4h-73zM1836 1809h73v4h-73zM1836 1890h73v7h-73zM1836 1913h73v4h-73zM1836 1947h73v4h-73zM1836 1983h73v3h-73zM1836 2047h73v5h-73zM1836 2081h73v6h-73zM1836 2090h73v5h-73zM1836 2148h73v5h-73zM1836 2203h73v12h-73zM1836 2222h73v3h-73zM1836 2266h73v4h-73zM1836 2304h73v8h-73zM1836 2348h73v1h-73zM1909 1689h73v4h-73zM1909 1713h73v10h-73zM1909 1730h73v6h-73zM1909 1755h73v6h-73zM1909 1940h73v2h-73zM1909 1957h73v5h-73zM1909 1971h73v8h-73zM1909 2010h73v3h-73zM1909 2117h73v6h-73zM1909 2167h73v7h-73zM1909 2194h73v6h-73zM1909 2237h73v3h-73zM1909 2264h73v2h-73zM1909 2302h73v2h-73zM1909 2338h73v2h-73zM1909 2348h73v1h-73zM1982 906h73v2h-73zM1982 1196h73v5h-73zM1982 1223h73v5h-73zM1982 1419h73v3h-73zM1982 1697h73v5h-73zM1982 2025h73v8h-73zM1982 2095h73v4h-73zM1982 2103h73v6h-73zM1982 2194h73v6h-73zM1982 2209h73v8h-73zM1982 2264h73v2h-73zM1982 2276h73v6h-73zM1982 2318h73v3h-73zM1982 2332h73v6h-73zM1982 2348h73v1h-73zM2055 826h72v2h-72zM2055 923h72v4h-72zM2055 1080h72v7h-72zM2055 1122h72v3h-72zM2055 1128h72v6h-72zM2055 1558h72v7h-72zM2055 1686h72v3h-72zM2055 1697h72v5h-72zM2055 1717h72v6h-72zM2055 1730h72v6h-72zM2055 1788h72v10h-72zM2055 1826h72v4h-72zM2055 1862h72v15h-72zM2055 1882h72v4h-72zM2055 1940h72v2h-72zM2055 1954h72v3h-72zM2055 2004h72v6h-72zM2055 2047h72v5h-72zM2055 2059h72v12h-72zM2055 2081h72v6h-72zM2055 2090h72v9h-72zM2055 2134h72v4h-72zM2055 2156h72v2h-72zM2055 2217h72v15h-72zM2055 2276h72v6h-72zM2055 2304h72v4h-72zM2127 1032h73v5h-73zM2127 1385h73v3h-73zM2127 2052h73v4h-73zM2127 2059h73v6h-73zM2127 2071h73v3h-73zM2127 2076h73v2h-73zM2127 2081h73v6h-73zM2127 2105h73v4h-73zM2127 2148h73v5h-73zM2127 2156h73v2h-73zM2127 2180h73v5h-73zM2127 2191h73v3h-73zM2127 2209h73v6h-73zM2127 2232h73v2h-73zM2127 2288h73v8h-73zM2127 2308h73v4h-73zM2200 826h73v2h-73zM2200 887h73v7h-73zM2200 908h73v4h-73zM2200 974h73v7h-73zM2200 989h73v3h-73zM2200 1037h73v4h-73zM2200 1046h73v7h-73zM2200 1062h73v4h-73zM2200 1073h73v4h-73zM2200 1134h73v5h-73zM2200 1702h73v3h-73zM2200 1798h73v4h-73zM2200 1813h73v4h-73zM2200 1862h73v4h-73zM2200 1974h73v5h-73zM2200 2076h73v2h-73zM2200 2103h73v2h-73zM2200 2109h73v4h-73zM2200 2237h73v3h-73zM2200 2288h73v5h-73zM2200 2340h73v3h-73zM2273 1683h73v3h-73zM2273 1702h73v3h-73zM2273 1904h73v5h-73zM2273 1966h73v5h-73zM2273 2109h73v4h-73zM2273 2194h73v6h-73zM2273 2234h73v3h-73zM2273 2243h73v12h-73zM2346 791h72v3h-72zM2346 885h72v2h-72zM2346 894h72v7h-72zM2346 906h72v6h-72zM2346 927h72v5h-72zM2346 944h72v11h-72zM2346 961h72v3h-72zM2346 967h72v7h-72zM2346 989h72v3h-72zM2346 1139h72v3h-72zM2346 1702h72v3h-72zM2346 1730h72v6h-72zM2346 1748h72v3h-72zM2346 1788h72v6h-72zM2346 1798h72v4h-72zM2346 1809h72v4h-72zM2346 1830h72v6h-72zM2346 1897h72v3h-72zM2346 1921h72v5h-72zM2346 1974h72v5h-72zM2346 1986h72v5h-72zM2346 2018h72v7h-72zM2346 2215h72v2h-72zM2346 2243h72v5h-72zM2346 2266h72v4h-72zM2346 2282h72v6h-72zM2346 2293h72v3h-72zM2346 2308h72v4h-72zM2346 2321h72v6h-72z"/>
<path fill="#ae727f" d="M672 1966h73v5h-73zM672 1991h73v5h-73zM745 777h73v7h-73zM745 800h73v3h-73zM745 1208h73v5h-73zM745 1539h73v4h-73zM745 1705h73v6h-73zM745 1730h73v6h-73zM745 1744h73v4h-73zM745 1751h73v4h-73zM745 1788h73v6h-73zM745 1826h73v4h-73zM745 1836h73v5h-73zM745 1900h73v4h-73zM745 1962h73v4h-73zM745 2033h73v7h-73zM745 2232h73v2h-73zM745 2237h73v3h-73zM818 789h72v2h-72zM818 851h72v6h-72zM818 1283h72v3h-72zM818 1397h72v4h-72zM890 1058h73v4h-73zM890 1208h73v5h-73zM890 1269h73v4h-73zM890 1313h73v5h-73zM890 1697h73v5h-73zM890 1917h73v4h-73zM890 1962h73v4h-73zM890 2203h73v6h-73zM890 2255h73v3h-73zM963 831h73v5h-73zM963 857h73v5h-73zM963 1106h73v5h-73zM963 1139h73v3h-73zM963 1164h73v13h-73zM963 1301h73v3h-73zM963 1412h73v7h-73zM963 1464h73v4h-73zM963 1551h73v3h-73zM963 1661h73v10h-73zM963 1693h73v4h-73zM963 1776h73v6h-73zM963 1802h73v11h-73zM963 1841h73v4h-73zM963 1900h73v4h-73zM963 1940h73v2h-73zM963 1971h73v3h-73zM963 1979h73v4h-73zM963 1986h73v5h-73zM963 2013h73v2h-73zM1036 791h73v3h-73zM1036 848h73v3h-73zM1036 961h73v3h-73zM1036 1001h73v7h-73zM1036 1032h73v5h-73zM1036 1097h73v5h-73zM1036 1283h73v3h-73zM1036 1426h73v4h-73zM1036 1582h73v6h-73zM1036 1671h73v5h-73zM1036 1886h73v4h-73zM1036 1904h73v5h-73zM1036 1933h73v7h-73zM1109 794h72v6h-72zM1109 1208h72v5h-72zM1109 1554h72v4h-72zM1109 1693h72v9h-72zM1109 1751h72v4h-72zM1109 1957h72v5h-72zM1109 1971h72v3h-72zM1109 2248h72v7h-72zM1181 1329h73v5h-73zM1181 1349h73v8h-73zM1181 1497h73v10h-73zM1181 1697h73v5h-73zM1181 1736h73v2h-73zM1181 1858h73v4h-73zM1181 1882h73v4h-73zM1181 1890h73v3h-73zM1181 1904h73v9h-73zM1181 1940h73v2h-73zM1181 1979h73v4h-73zM1181 2025h73v5h-73zM1254 1219h73v4h-73zM1254 1237h73v7h-73zM1254 1297h73v4h-73zM1254 1422h73v4h-73zM1254 1962h73v9h-73zM1254 2007h73v3h-73zM1254 2138h73v4h-73zM1254 2255h73v3h-73zM1327 851h73v6h-73zM1327 908h73v4h-73zM1327 1128h73v11h-73zM1327 1149h73v5h-73zM1327 1181h73v4h-73zM1327 1273h73v3h-73zM1327 1301h73v3h-73zM1327 1430h73v5h-73zM1327 1579h73v3h-73zM1327 1588h73v3h-73zM1327 2321h73v6h-73zM1400 836h72v5h-72zM1400 901h72v5h-72zM1400 927h72v5h-72zM1400 1032h72v5h-72zM1400 1170h72v7h-72zM1400 1352h72v5h-72zM1400 1464h72v4h-72zM1400 1512h72v5h-72zM1400 1536h72v3h-72zM1400 1543h72v5h-72zM1400 1877h72v5h-72zM1472 1323h73v3h-73zM1472 1430h73v2h-73zM1472 1512h73v5h-73zM1472 1676h73v7h-73zM1472 1705h73v6h-73zM1472 1738h73v6h-73zM1472 1748h73v3h-73zM1472 1776h73v6h-73zM1472 1849h73v4h-73zM1472 1862h73v4h-73zM1472 1890h73v3h-73zM1472 2248h73v7h-73zM1472 2327h73v5h-73zM1545 789h73v2h-73zM1545 831h73v5h-73zM1545 848h73v3h-73zM1545 1077h73v3h-73zM1545 1208h73v5h-73zM1545 1237h73v12h-73zM1545 1262h73v2h-73zM1545 1318h73v5h-73zM1545 1349h73v3h-73zM1545 1520h73v5h-73zM1545 1554h73v4h-73zM1545 1611h73v12h-73zM1545 2040h73v7h-73zM1618 822h73v4h-73zM1618 1216h73v3h-73zM1618 1412h73v7h-73zM1618 1607h73v4h-73zM1618 1623h73v3h-73zM1618 1641h73v4h-73zM1618 1666h73v5h-73zM1691 914h73v6h-73zM1691 932h73v3h-73zM1691 1097h73v5h-73zM1691 1122h73v3h-73zM1691 1189h73v7h-73zM1691 1291h73v2h-73zM1691 1352h73v5h-73zM1691 1407h73v5h-73zM1691 1432h73v3h-73zM1691 1645h73v5h-73zM1764 857h72v5h-72zM1764 901h72v5h-72zM1764 923h72v4h-72zM1764 985h72v4h-72zM1764 1017h72v4h-72zM1764 1026h72v6h-72zM1764 1058h72v4h-72zM1764 1070h72v3h-72zM1764 1185h72v4h-72zM1764 1258h72v4h-72zM1764 1339h72v6h-72zM1764 1372h72v4h-72zM1764 1401h72v4h-72zM1764 1407h72v5h-72zM1764 1484h72v2h-72zM1764 1782h72v12h-72zM1764 1845h72v2h-72zM1764 1873h72v4h-72zM1764 1886h72v4h-72zM1764 1996h72v5h-72zM1764 2004h72v3h-72zM1764 2018h72v7h-72zM1764 2030h72v10h-72zM1836 1208h73v5h-73zM1836 1244h73v5h-73zM1836 1253h73v5h-73zM1836 1283h73v3h-73zM1836 1525h73v5h-73zM1836 1558h73v7h-73zM1909 784h73v5h-73zM1909 1142h73v7h-73zM1909 1405h73v2h-73zM1909 1412h73v7h-73zM1909 1507h73v5h-73zM1982 781h73v3h-73zM1982 789h73v2h-73zM1982 1008h73v2h-73zM1982 1087h73v4h-73zM1982 1641h73v4h-73zM1982 2004h73v3h-73zM2055 777h72v4h-72zM2055 1283h72v3h-72zM2055 1339h72v6h-72zM2055 1554h72v4h-72zM2127 1231h73v2h-73zM2127 1291h73v2h-73zM2127 1304h73v4h-73zM2127 1367h73v5h-73zM2127 1388h73v3h-73zM2127 1536h73v3h-73zM2200 803h73v4h-73zM2200 1208h73v8h-73zM2200 1308h73v5h-73zM2200 1525h73v5h-73zM2200 2013h73v12h-73zM2273 814h73v2h-73zM2273 844h73v4h-73zM2273 878h73v7h-73zM2273 1091h73v6h-73zM2273 1154h73v10h-73zM2273 1170h73v7h-73zM2273 1264h73v5h-73zM2273 1273h73v3h-73zM2273 1430h73v2h-73zM2273 1536h73v3h-73zM2273 1551h73v3h-73zM2273 1570h73v2h-73zM2273 2065h73v6h-73zM2273 2127h73v7h-73zM2346 1258h72v4h-72zM2346 1273h72v3h-72zM2346 1497h72v5h-72zM2346 2153h72v3h-72z"/>
<path d="M169.0 1533.5H28.5M28.5 1533.5V2098.0M28.5 2098.0H204.5M180.0 1438.0H169.0M169.0 1438.0V1627.0M169.0 1627.0H300.0M211.0 1296.0H180.0M180.0 1296.0V1581.0M180.0 1581.0H297.6M230.0 1148.0H211.0M211.0 1148.0V1444.0M211.0 1444.0H264.3M259.0 1032.0H230.0M230.0 1032.0V1267.0M230.0 1267.0H312.0M330.0 861.0H259.0M259.0 861.0V1205.0M259.0 1205.0H560.0M356.0 802.0H330.0M330.0 802.0V919.0M330.0 919.0H359.5M395.2 794.0H356.0M356.0 794.0V810.5M356.0 810.5H470.0M420.2 788.0H395.2M395.2 788.0V800.0M395.2 800.0H470.0M470.0 784.3H420.2M420.2 784.3V790.2M420.2 790.2H470.0M404.8 829.5H359.5M359.5 829.5V1007.0M359.5 1007.0H412.0M470.0 823.6H404.8M404.8 823.6V833.1M404.8 833.1H475.0M435.7 917.6H412.0M412.0 917.6V1097.4M412.0 1097.4H464.8M590.0 847.4H435.7M435.7 847.4V985.5M435.7 985.5H503.6M517.9 940.2H503.6M503.6 940.2V1033.1M503.6 1033.1H525.0M536.9 909.3H517.9M517.9 909.3V971.2M517.9 971.2H541.7M554.8 880.7H536.9M536.9 880.7V926.0M536.9 926.0H552.4M585.0 870.0H554.8M554.8 870.0V890.2M554.8 890.2H585.0M590.0 915.0H552.4M552.4 915.0V937.0M552.4 937.0H590.0M560.0 952.1H541.7M541.7 952.1V989.0M541.7 989.0H570.0M595.0 945.0H560.0M560.0 945.0V960.0M560.0 960.0H595.0M595.0 980.0H570.0M570.0 980.0V998.0M570.0 998.0H595.0M545.0 1006.9H525.0M525.0 1006.9V1054.5M525.0 1054.5H546.0M595.0 998.0H545.0M545.0 998.0V1016.0M545.0 1016.0H595.0M595.0 1045.0H546.0M546.0 1045.0V1062.0M546.0 1062.0H595.0M585.0 1065.2H464.8M464.8 1065.2V1130.5M464.8 1130.5H513.0M580.0 1088.0H513.0M513.0 1088.0V1174.5M513.0 1174.5H550.0M564.3 1119.8H550.0M550.0 1119.8V1199.5M550.0 1199.5H590.0M590.0 1108.0H564.3M564.3 1108.0V1131.7M564.3 1131.7H590.0M326.2 1244.8H312.0M312.0 1244.8V1287.6M312.0 1287.6H344.0M383.3 1234.0H326.2M326.2 1234.0V1255.5M326.2 1255.5H460.0M421.4 1223.3H383.3M383.3 1223.3V1246.0M383.3 1246.0H450.0M470.0 1212.6H421.4M421.4 1212.6V1234.0M421.4 1234.0H480.0M366.7 1275.7H344.0M344.0 1275.7V1298.3M344.0 1298.3H378.6M440.0 1270.0H366.7M366.7 1270.0V1281.0M366.7 1281.0H440.0M440.5 1292.4H378.6M378.6 1292.4V1306.7M378.6 1306.7H440.5M470.0 1302.0H440.5M440.5 1302.0V1312.0M440.5 1312.0H545.0M296.4 1388.8H264.3M264.3 1388.8V1496.9M264.3 1496.9H350.0M336.9 1361.4H296.4M296.4 1361.4V1416.2M296.4 1416.2H340.5M369.0 1340.0H336.9M336.9 1340.0V1382.9M336.9 1382.9H377.4M430.0 1334.0H369.0M369.0 1334.0V1343.6M369.0 1343.6H430.0M408.3 1367.4H377.4M377.4 1367.4V1398.3M377.4 1398.3H430.0M450.0 1348.3H408.3M408.3 1348.3V1385.2M408.3 1385.2H509.5M560.0 1378.0H509.5M509.5 1378.0V1392.0M509.5 1392.0H560.0M420.0 1411.0H340.5M340.5 1411.0V1421.0M340.5 1421.0H420.0M384.5 1463.6H350.0M350.0 1463.6V1531.4M350.0 1531.4H419.0M420.0 1429.0H384.5M384.5 1429.0V1498.1M384.5 1498.1H473.8M489.3 1482.6H473.8M473.8 1482.6V1513.6M473.8 1513.6H522.6M527.4 1470.7H489.3M489.3 1470.7V1493.3M489.3 1493.3H545.0M560.0 1461.0H527.4M527.4 1461.0V1480.0M527.4 1480.0H565.0M560.0 1508.0H522.6M522.6 1508.0V1519.0M522.6 1519.0H560.0M346.4 1566.0H297.6M297.6 1566.0V1595.7M297.6 1595.7H375.0M366.7 1556.4H346.4M346.4 1556.4V1575.5M346.4 1575.5H414.3M410.7 1549.3H366.7M366.7 1549.3V1563.6M366.7 1563.6H414.0M348.8 1619.5H300.0M300.0 1619.5V1635.0M300.0 1635.0H428.6M364.0 1612.4H348.8M348.8 1612.4V1625.5M348.8 1625.5H420.0M410.0 1606.0H364.0M364.0 1606.0V1614.0M364.0 1614.0H420.0M333.3 1657.6H285.6M285.6 1657.6V2001.4M285.6 2001.4H348.8M366.7 1650.5H333.3M333.3 1650.5V1664.8M333.3 1664.8H377.4M400.0 1645.0H366.7M366.7 1645.0V1656.0M366.7 1656.0H420.0M285.6 1830.0H239.5M239.5 1830.0V2078.5M239.5 2078.5H304.8M373.8 1970.5H348.8M348.8 1970.5V2033.6M348.8 2033.6H395.2M425.0 1931.2H373.8M373.8 1931.2V2012.1M373.8 2012.1H438.1M456.0 1870.5H425.0M425.0 1870.5V1991.9M425.0 1991.9H482.1M471.0 1778.8H456.0M456.0 1778.8V1962.1M456.0 1962.1H517.9M476.2 1696.6H471.0M471.0 1696.6V1861.0M471.0 1861.0H495.2M502.4 1677.9H476.2M476.2 1677.9V1713.6M476.2 1713.6H509.5M560.0 1670.0H502.4M502.4 1670.0V1686.0M502.4 1686.0H560.0M521.4 1705.0H509.5M509.5 1705.0V1725.5M509.5 1725.5H560.0M575.0 1690.0H521.4M521.4 1690.0V1715.0M521.4 1715.0H575.0M506.0 1806.2H495.2M495.2 1806.2V1915.7M495.2 1915.7H538.1M517.9 1764.5H506.0M506.0 1764.5V1849.0M506.0 1849.0H517.9M544.0 1753.8H517.9M517.9 1753.8V1774.0M517.9 1774.0H552.4M565.0 1745.0H544.0M544.0 1745.0V1760.0M544.0 1760.0H565.0M532.0 1813.3H517.9M517.9 1813.3V1883.6M517.9 1883.6H538.0M550.0 1794.0H532.0M532.0 1794.0V1832.0M532.0 1832.0H552.0M575.0 1875.0H538.0M538.0 1875.0V1892.0M538.0 1892.0H575.0M560.0 1900.2H538.1M538.1 1900.2V1931.2M538.1 1931.2H560.0M570.0 1953.8H517.9M517.9 1953.8V1970.5M517.9 1970.5H545.0M520.0 1987.0H482.1M482.1 1987.0V1996.0M482.1 1996.0H520.0M438.0 2027.0H395.2M395.2 2027.0V2040.0M395.2 2040.0H438.0M348.8 2063.3H304.8M304.8 2063.3V2094.3M304.8 2094.3H425.0M395.2 2052.6H348.8M348.8 2052.6V2074.0M348.8 2074.0H419.0M430.0 2046.7H395.2M395.2 2046.7V2058.6M395.2 2058.6H440.0M239.5 1955.0H204.5M204.5 1955.0V2243.8M204.5 2243.8H264.3M306.0 2165.7H264.3M264.3 2165.7V2319.3M264.3 2319.3H309.5M336.9 2146.7H306.0M306.0 2146.7V2186.0M306.0 2186.0H386.9M358.3 2131.2H336.9M336.9 2131.2V2161.0M336.9 2161.0H388.0M395.2 2120.5H358.3M358.3 2120.5V2140.7M358.3 2140.7H397.6M440.0 2114.0H395.2M395.2 2114.0V2127.0M395.2 2127.0H440.0M450.0 2136.0H397.6M397.6 2136.0V2146.0M397.6 2146.0H450.0M445.0 2155.0H388.0M388.0 2155.0V2167.0M388.0 2167.0H445.0M450.0 2179.0H386.9M386.9 2179.0V2193.0M386.9 2193.0H450.0M360.7 2302.6H309.5M309.5 2302.6V2338.3M309.5 2338.3H402.4M395.2 2288.3H360.7M360.7 2288.3V2314.5M360.7 2314.5H438.0M408.3 2278.8H395.2M395.2 2278.8V2299.0M395.2 2299.0H457.0M423.8 2264.5H408.3M408.3 2264.5V2291.9M408.3 2291.9H490.0M476.2 2246.7H423.8M423.8 2246.7V2281.2M423.8 2281.2H478.0M502.4 2221.7H476.2M476.2 2221.7V2270.5M476.2 2270.5H545.0M545.0 2208.6H502.4M502.4 2208.6V2237.1M502.4 2237.1H545.2M580.0 2225.0H545.2M545.2 2225.0V2254.0M545.2 2254.0H580.0M440.0 2332.0H402.4M402.4 2332.0V2344.0M402.4 2344.0H440.0" fill="none" stroke="#1e1e1e" stroke-width="4.8" stroke-linecap="square"/>
<path d="M392.8 779.0H469.0M373.6 786.0H461.0M418.4 790.1H461.0M383.6 794.2H461.0M402.6 798.4H461.0M390.8 802.0H463.0M421.9 807.0H463.0M414.0 814.0H467.0M409.9 818.2H467.0M443.5 822.0H471.0M417.2 825.9H471.0M425.7 831.3H471.0M451.5 838.0H491.0M412.9 843.4H491.0M408.9 1064.0H503.0M509.7 1200.0H556.0M368.7 1204.0H415.0M370.2 1210.0H446.0M395.5 1214.7H446.0M488.0 1220.0H511.0M427.1 1224.9H511.0M485.3 1229.0H511.0M408.1 1234.0H470.0M421.3 1238.6H470.0M325.8 1247.0H439.0M405.2 1253.0H439.0M399.2 1257.5H439.0M424.6 1262.0H487.0M460.3 1267.0H487.0M380.6 1272.6H487.0M397.7 1277.0H439.0M355.5 1280.8H439.0M405.4 1285.1H439.0M396.0 1292.0H463.0M424.5 1296.8H463.0M418.7 1302.7H463.0M481.8 1307.0H546.0M440.4 1311.7H546.0M506.6 1316.4H546.0M525.7 1320.7H546.0M366.9 1327.0H463.0M418.5 1332.4H463.0M383.9 1336.9H463.0M420.5 1342.5H463.0M423.3 1346.8H463.0M505.4 1352.0H558.0M430.8 1389.0H498.0M441.1 1394.6H498.0M361.0 1399.0H427.0M342.1 1403.3H427.0M382.9 1409.0H451.0M366.5 1414.3H451.0M357.2 1419.9H451.0M375.8 1426.0H415.0M394.2 1524.0H439.0M381.0 1529.5H439.0M411.7 1534.5H439.0M432.6 1541.0H463.0M376.4 1545.0H463.0M418.3 1550.8H463.0M403.8 1555.6H463.0M436.5 1560.9H463.0M443.6 1566.9H463.0M391.9 1570.9H463.0M398.9 1575.5H463.0M362.2 1579.0H415.0M334.8 1583.9H415.0M339.8 1588.6H415.0M326.1 1593.7H415.0M373.4 1597.8H415.0M407.8 1602.0H427.0M375.8 1607.0H427.0M394.4 1611.2H427.0M337.3 1615.4H427.0M378.3 1620.5H427.0M377.3 1625.5H427.0M401.8 1630.4H427.0M379.0 1638.0H439.0M348.0 1643.4H439.0M415.3 1647.4H439.0M405.3 1651.7H439.0M391.7 1655.9H439.0M378.4 1661.6H439.0M444.0 1670.0H498.0M409.9 1675.8H498.0M467.0 1952.0H534.0M453.3 1957.9H534.0M486.5 1962.9H534.0M470.8 1967.0H511.0M486.2 1971.0H511.0M456.7 1976.5H511.0M427.9 1982.0H498.0M404.7 1986.5H498.0M462.3 1990.8H498.0M397.4 1995.1H498.0M462.1 2000.8H498.0M467.0 2006.0H487.0M435.6 2011.3H487.0M426.2 2015.6H487.0M431.2 2019.9H487.0M438.0 2025.4H487.0M348.8 2030.0H439.0M402.6 2034.2H439.0M394.2 2038.0H439.0M397.1 2042.0H439.0M386.2 2046.1H439.0M343.7 2050.4H439.0M394.0 2056.0H439.0M424.6 2062.0H451.0M370.2 2065.9H451.0M405.3 2069.9H451.0M414.5 2074.2H451.0M413.9 2078.5H451.0M412.7 2084.4H451.0M436.7 2092.0H475.0M384.8 2097.8H475.0M376.2 2102.8H475.0M384.4 2108.2H475.0M437.2 2115.0H463.0M379.8 2119.0H463.0M414.2 2124.9H463.0M371.0 2130.6H463.0M388.5 2135.1H463.0M396.5 2140.6H463.0M440.3 2144.9H463.0M447.0 2151.0H487.0M442.1 2155.9H487.0M444.4 2160.6H487.0M446.3 2164.7H487.0M446.3 2170.0H487.0M399.9 2175.8H487.0M445.4 2180.6H487.0M397.6 2185.8H487.0M450.5 2191.4H487.0M464.8 2195.7H487.0M505.4 2203.0H546.0M470.7 2207.7H546.0M415.9 2276.0H487.0M438.9 2279.8H487.0M406.1 2283.7H487.0M406.9 2288.1H487.0M434.1 2294.0H463.0M385.0 2298.5H463.0M414.1 2303.8H463.0M429.4 2307.9H463.0M409.5 2312.4H463.0M376.3 2317.7H463.0M405.1 2323.0H463.0M400.9 2327.9H463.0M441.5 2331.9H463.0M413.4 2336.9H463.0M425.1 2342.6H463.0" fill="none" stroke="#1a1a1a" stroke-width="2.6"/>
<path d="M470.0 784.3H647.5M470.0 790.2H647.5M470.0 800.0H647.5M470.0 810.5H647.5M470.0 823.6H647.5M475.0 833.1H647.5M590.0 847.4H647.5M586.2 880.3H647.5M586.2 883.9H647.5M586.2 880.3V883.9M579.0 882.1H586.2M579.0 887.7H647.5M579.0 882.1V887.7M563.8 884.9H579.0M593.3 891.5H647.5M593.3 894.8H647.5M593.3 891.5V894.8M582.0 893.2H593.3M582.0 899.0H647.5M582.0 893.2V899.0M563.8 896.1H582.0M563.8 884.9V896.1M550.0 890.5H563.8M594.8 903.1H647.5M594.8 906.4H647.5M594.8 903.1V906.4M590.1 904.8H594.8M590.1 909.4H647.5M590.1 904.8V909.4M573.5 907.1H590.1M592.3 912.0H647.5M592.3 914.4H647.5M592.3 912.0V914.4M573.5 913.2H592.3M573.5 907.1V913.2M550.0 910.2H573.5M550.0 890.5V910.2M536.9 900.3H550.0M592.5 917.1H647.5M592.5 920.4H647.5M592.5 917.1V920.4M579.4 918.7H592.5M594.1 923.8H647.5M594.1 926.2H647.5M594.1 923.8V926.2M579.4 925.0H594.1M579.4 918.7V925.0M536.9 921.9H579.4M536.9 900.3V921.9M595.0 945.0H647.5M599.7 953.7H647.5M599.7 956.8H647.5M599.7 953.7V956.8M595.0 955.2H599.7M597.8 960.6H647.5M600.2 963.8H647.5M600.2 967.6H647.5M600.2 963.8V967.6M597.8 965.7H600.2M597.8 960.6V965.7M595.0 963.1H597.8M595.0 955.2V963.1M600.1 971.3H647.5M600.1 974.1H647.5M600.1 971.3V974.1M597.2 972.7H600.1M600.9 977.1H647.5M600.9 979.6H647.5M600.9 977.1V979.6M597.2 978.3H600.9M597.2 972.7V978.3M595.0 975.5H597.2M596.8 981.8H647.5M598.6 984.9H647.5M598.6 987.9H647.5M598.6 984.9V987.9M596.8 986.4H598.6M596.8 981.8V986.4M595.0 984.1H596.8M595.0 975.5V984.1M598.0 990.7H647.5M598.0 993.3H647.5M598.0 990.7V993.3M596.5 992.0H598.0M596.5 995.4H647.5M596.5 992.0V995.4M595.0 993.7H596.5M595.0 997.3H647.5M595.0 993.7V998.0M595.0 998.7H647.5M597.6 1002.0H647.5M597.6 1005.8H647.5M597.6 1002.0V1005.8M595.0 1003.9H597.6M595.0 998.0V1003.9M597.4 1008.7H647.5M597.4 1011.9H647.5M597.4 1008.7V1011.9M595.0 1010.3H597.4M598.7 1014.4H647.5M598.7 1017.9H647.5M598.7 1014.4V1017.9M596.5 1016.2H598.7M601.6 1022.0H647.5M601.6 1025.5H647.5M601.6 1022.0V1025.5M600.0 1023.7H601.6M600.0 1028.9H647.5M600.0 1023.7V1028.9M596.5 1026.3H600.0M596.5 1016.2V1026.3M595.0 1021.3H596.5M595.0 1010.3V1021.3M601.4 1031.9H647.5M601.4 1035.3H647.5M601.4 1031.9V1035.3M598.7 1033.6H601.4M600.9 1040.1H647.5M600.9 1045.5H647.5M600.9 1040.1V1045.5M598.7 1042.8H600.9M598.7 1033.6V1042.8M595.0 1038.2H598.7M600.4 1049.5H647.5M600.4 1052.2H647.5M600.4 1049.5V1052.2M595.0 1050.9H600.4M595.0 1038.2V1050.9M595.0 1062.0H647.5M585.0 1065.2H647.5M583.7 1078.6H647.5M583.7 1082.7H647.5M583.7 1078.6V1082.7M580.0 1080.7H583.7M583.2 1092.7H647.5M583.2 1107.5H647.5M583.2 1092.7V1107.5M581.7 1100.1H583.2M591.9 1115.9H647.5M591.9 1119.5H647.5M591.9 1115.9V1119.5M587.6 1117.7H591.9M591.8 1124.4H647.5M591.8 1129.3H647.5M591.8 1124.4V1129.3M587.6 1126.9H591.8M587.6 1117.7V1126.9M581.7 1122.3H587.6M581.7 1100.1V1122.3M580.0 1111.2H581.7M580.0 1080.7V1111.2M592.0 1133.1H647.5M592.0 1135.6H647.5M592.0 1133.1V1135.6M587.7 1134.3H592.0M587.7 1138.7H647.5M587.7 1134.3V1138.7M578.2 1136.5H587.7M601.1 1143.6H647.5M601.1 1147.3H647.5M601.1 1143.6V1147.3M597.6 1145.4H601.1M602.0 1149.6H647.5M602.0 1152.0H647.5M602.0 1149.6V1152.0M597.6 1150.8H602.0M597.6 1145.4V1150.8M591.1 1148.1H597.6M600.2 1154.9H647.5M600.2 1157.7H647.5M600.2 1154.9V1157.7M591.1 1156.3H600.2M591.1 1148.1V1156.3M578.2 1152.2H591.1M578.2 1136.5V1152.2M555.2 1144.4H578.2M601.8 1161.0H647.5M601.8 1164.1H647.5M601.8 1161.0V1164.1M597.6 1162.6H601.8M597.6 1166.5H647.5M597.6 1162.6V1166.5M587.3 1164.6H597.6M601.5 1169.9H647.5M601.5 1174.2H647.5M601.5 1169.9V1174.2M596.1 1172.0H601.5M596.1 1178.8H647.5M596.1 1172.0V1178.8M587.3 1175.4H596.1M587.3 1164.6V1175.4M555.2 1170.0H587.3M555.2 1144.4V1170.0M550.0 1157.2H555.2M588.3 1181.9H647.5M588.3 1184.7H647.5M588.3 1181.9V1184.7M578.7 1183.3H588.3M578.7 1188.1H647.5M578.7 1183.3V1188.1M550.0 1185.7H578.7M550.0 1157.2V1185.7M560.0 1205.0H647.5M470.0 1212.6H647.5M480.0 1234.0H647.5M450.0 1246.0H647.5M460.0 1255.5H647.5M440.0 1270.0H647.5M440.0 1281.0H647.5M440.5 1292.4H647.5M470.0 1302.0H647.5M545.0 1312.0H647.5M437.7 1325.1H647.5M450.5 1328.7H647.5M456.7 1331.2H647.5M456.7 1334.4H647.5M456.7 1331.2V1334.4M450.5 1332.8H456.7M450.5 1328.7V1332.8M437.7 1330.7H450.5M437.7 1325.1V1330.7M430.0 1327.9H437.7M430.0 1337.6H647.5M430.0 1327.9V1337.6M438.1 1340.2H647.5M438.1 1343.2H647.5M438.1 1340.2V1343.2M430.0 1341.7H438.1M430.0 1345.4H647.5M430.0 1341.7V1345.4M450.0 1347.2H647.5M456.0 1349.6H647.5M456.0 1352.8H647.5M456.0 1349.6V1352.8M452.1 1351.2H456.0M520.8 1356.9H647.5M520.8 1361.1H647.5M520.8 1356.9V1361.1M452.1 1359.0H520.8M452.1 1351.2V1359.0M450.0 1355.1H452.1M450.0 1347.2V1355.1M583.1 1365.4H647.5M587.7 1369.3H647.5M587.7 1373.0H647.5M587.7 1369.3V1373.0M583.1 1371.2H587.7M583.1 1365.4V1371.2M569.9 1368.3H583.1M580.0 1376.9H647.5M580.0 1380.3H647.5M580.0 1376.9V1380.3M569.9 1378.6H580.0M569.9 1368.3V1378.6M560.0 1373.4H569.9M560.0 1383.4H647.5M560.0 1373.4V1383.4M560.0 1392.0H647.5M430.0 1398.3H647.5M423.3 1406.2H647.5M423.3 1409.8H647.5M423.3 1406.2V1409.8M420.0 1408.0H423.3M420.0 1413.8H647.5M420.0 1408.0V1413.8M420.0 1421.0H647.5M420.0 1429.0H647.5M582.0 1447.2H647.5M588.3 1450.8H647.5M588.3 1453.6H647.5M588.3 1450.8V1453.6M582.0 1452.2H588.3M582.0 1447.2V1452.2M565.1 1449.7H582.0M575.5 1457.0H647.5M579.4 1460.6H647.5M579.4 1463.3H647.5M579.4 1460.6V1463.3M575.5 1462.0H579.4M575.5 1457.0V1462.0M565.1 1459.5H575.5M565.1 1449.7V1459.5M560.0 1454.6H565.1M575.8 1465.3H647.5M575.8 1468.4H647.5M575.8 1465.3V1468.4M560.0 1466.9H575.8M560.0 1454.6V1466.9M578.3 1472.2H647.5M578.3 1474.8H647.5M578.3 1472.2V1474.8M574.1 1473.5H578.3M577.5 1476.8H647.5M577.5 1479.7H647.5M577.5 1476.8V1479.7M574.1 1478.3H577.5M574.1 1473.5V1478.3M565.0 1475.9H574.1M576.2 1482.8H647.5M576.2 1485.4H647.5M576.2 1482.8V1485.4M565.0 1484.1H576.2M565.0 1475.9V1484.1M559.1 1487.9H647.5M559.1 1491.0H647.5M559.1 1487.9V1491.0M545.0 1489.5H559.1M553.5 1494.7H647.5M553.5 1498.5H647.5M553.5 1494.7V1498.5M545.0 1496.6H553.5M545.0 1489.5V1496.6M566.4 1502.4H647.5M566.4 1505.2H647.5M566.4 1502.4V1505.2M561.9 1503.8H566.4M561.9 1507.6H647.5M561.9 1503.8V1507.6M560.0 1505.7H561.9M560.0 1511.2H647.5M560.0 1505.7V1511.2M560.0 1519.0H647.5M429.7 1526.3H647.5M429.7 1528.7H647.5M429.7 1526.3V1528.7M419.0 1527.5H429.7M432.5 1531.8H647.5M432.5 1535.2H647.5M432.5 1531.8V1535.2M426.5 1533.5H432.5M426.5 1538.6H647.5M426.5 1533.5V1538.6M419.0 1536.1H426.5M419.0 1527.5V1536.1M433.0 1541.9H647.5M445.7 1544.6H647.5M445.7 1548.0H647.5M445.7 1544.6V1548.0M433.0 1546.3H445.7M433.0 1541.9V1546.3M410.7 1544.1H433.0M431.8 1551.1H647.5M431.8 1554.3H647.5M431.8 1551.1V1554.3M410.7 1552.7H431.8M410.7 1544.1V1552.7M433.9 1558.0H647.5M448.2 1560.8H647.5M448.2 1563.2H647.5M448.2 1560.8V1563.2M433.9 1562.0H448.2M433.9 1558.0V1562.0M414.0 1560.0H433.9M435.6 1565.9H647.5M435.6 1568.6H647.5M435.6 1565.9V1568.6M414.0 1567.2H435.6M414.0 1560.0V1567.2M414.3 1575.5H647.5M378.8 1587.8H647.5M399.1 1592.0H647.5M399.1 1596.1H647.5M399.1 1592.0V1596.1M378.8 1594.0H399.1M378.8 1587.8V1594.0M375.0 1590.9H378.8M375.0 1599.5H647.5M375.0 1590.9V1599.5M413.8 1602.2H647.5M413.8 1605.0H647.5M413.8 1602.2V1605.0M410.0 1603.6H413.8M410.0 1608.3H647.5M410.0 1603.6V1608.3M420.0 1611.6H647.5M423.2 1614.8H647.5M423.2 1618.1H647.5M423.2 1614.8V1618.1M420.0 1616.5H423.2M420.0 1611.6V1616.5M423.1 1620.8H647.5M423.1 1623.9H647.5M423.1 1620.8V1623.9M420.0 1622.3H423.1M420.0 1628.1H647.5M420.0 1622.3V1628.1M428.6 1635.0H647.5M415.1 1641.1H647.5M415.1 1643.5H647.5M415.1 1641.1V1643.5M400.0 1642.3H415.1M412.3 1645.7H647.5M412.3 1648.6H647.5M412.3 1645.7V1648.6M400.0 1647.2H412.3M400.0 1642.3V1647.2M429.1 1651.5H647.5M429.1 1654.6H647.5M429.1 1651.5V1654.6M420.0 1653.1H429.1M420.0 1658.5H647.5M420.0 1653.1V1658.5M389.7 1661.7H647.5M389.7 1664.3H647.5M389.7 1661.7V1664.3M377.4 1663.0H389.7M377.4 1666.5H647.5M377.4 1663.0V1666.5M560.0 1670.0H647.5M560.0 1686.0H647.5M575.0 1689.1H647.5M578.1 1692.1H647.5M581.8 1696.0H647.5M581.8 1700.2H647.5M581.8 1696.0V1700.2M578.1 1698.1H581.8M578.1 1692.1V1698.1M575.0 1695.1H578.1M575.0 1689.1V1695.1M581.1 1703.8H647.5M581.1 1706.8H647.5M581.1 1703.8V1706.8M577.5 1705.3H581.1M581.5 1710.7H647.5M584.5 1713.7H647.5M584.5 1716.0H647.5M584.5 1713.7V1716.0M581.5 1714.8H584.5M581.5 1710.7V1714.8M577.5 1712.8H581.5M577.5 1705.3V1712.8M575.0 1709.0H577.5M575.0 1718.9H647.5M575.0 1709.0V1718.9M560.0 1721.8H647.5M578.1 1725.4H647.5M578.1 1729.4H647.5M578.1 1725.4V1729.4M575.0 1727.4H578.1M575.0 1733.2H647.5M575.0 1727.4V1733.2M560.0 1730.3H575.0M560.0 1721.8V1730.3M577.3 1737.3H647.5M582.6 1740.4H647.5M584.9 1742.4H647.5M584.9 1744.8H647.5M584.9 1742.4V1744.8M582.6 1743.6H584.9M582.6 1740.4V1743.6M577.3 1742.0H582.6M577.3 1737.3V1742.0M565.0 1739.7H577.3M578.0 1748.1H647.5M578.0 1751.3H647.5M578.0 1748.1V1751.3M565.0 1749.7H578.0M565.0 1739.7V1749.7M581.6 1753.4H647.5M581.6 1756.1H647.5M581.6 1753.4V1756.1M574.4 1754.7H581.6M574.4 1759.1H647.5M574.4 1754.7V1759.1M565.0 1756.9H574.4M573.5 1762.2H647.5M573.5 1765.6H647.5M573.5 1762.2V1765.6M565.0 1763.9H573.5M565.0 1756.9V1763.9M568.8 1768.2H647.5M568.8 1771.0H647.5M568.8 1768.2V1771.0M552.4 1769.6H568.8M561.2 1774.5H647.5M572.0 1778.6H647.5M572.0 1782.4H647.5M572.0 1778.6V1782.4M561.2 1780.5H572.0M561.2 1774.5V1780.5M552.4 1777.5H561.2M552.4 1769.6V1777.5M574.1 1785.5H647.5M574.1 1788.3H647.5M574.1 1785.5V1788.3M550.0 1786.9H574.1M581.8 1790.8H647.5M581.8 1793.8H647.5M581.8 1790.8V1793.8M575.9 1792.3H581.8M582.8 1796.7H647.5M582.8 1799.2H647.5M582.8 1796.7V1799.2M575.9 1797.9H582.8M575.9 1792.3V1797.9M563.1 1795.1H575.9M584.2 1802.9H647.5M584.2 1806.6H647.5M584.2 1802.9V1806.6M577.9 1804.7H584.2M584.4 1808.8H647.5M584.4 1811.4H647.5M584.4 1808.8V1811.4M577.9 1810.1H584.4M577.9 1804.7V1810.1M563.1 1807.4H577.9M563.1 1795.1V1807.4M550.0 1801.3H563.1M550.0 1786.9V1801.3M580.6 1815.1H647.5M580.6 1819.3H647.5M580.6 1815.1V1819.3M566.6 1817.2H580.6M583.9 1823.2H647.5M583.9 1825.8H647.5M583.9 1823.2V1825.8M577.1 1824.5H583.9M577.1 1828.7H647.5M577.1 1824.5V1828.7M566.6 1826.6H577.1M566.6 1817.2V1826.6M552.0 1821.9H566.6M584.3 1831.8H647.5M584.3 1834.2H647.5M584.3 1831.8V1834.2M580.5 1833.0H584.3M580.5 1837.0H647.5M580.5 1833.0V1837.0M571.1 1835.0H580.5M584.3 1840.4H647.5M584.3 1843.3H647.5M584.3 1840.4V1843.3M578.5 1841.8H584.3M585.0 1846.1H647.5M585.0 1849.2H647.5M585.0 1846.1V1849.2M582.7 1847.6H585.0M582.7 1852.0H647.5M582.7 1847.6V1852.0M578.5 1849.8H582.7M578.5 1841.8V1849.8M571.1 1845.8H578.5M571.1 1835.0V1845.8M552.0 1840.4H571.1M552.0 1821.9V1840.4M584.2 1854.8H647.5M584.2 1858.3H647.5M584.2 1854.8V1858.3M582.1 1856.5H584.2M584.9 1862.1H647.5M584.9 1864.4H647.5M584.9 1862.1V1864.4M582.1 1863.2H584.9M582.1 1856.5V1863.2M579.4 1859.9H582.1M583.8 1867.0H647.5M583.8 1871.3H647.5M583.8 1867.0V1871.3M581.7 1869.1H583.8M584.5 1874.7H647.5M584.5 1877.3H647.5M584.5 1874.7V1877.3M581.7 1876.0H584.5M581.7 1869.1V1876.0M579.4 1872.6H581.7M579.4 1859.9V1872.6M575.0 1866.2H579.4M575.0 1881.2H647.5M575.0 1866.2V1881.2M578.9 1885.1H647.5M582.2 1888.2H647.5M584.5 1890.9H647.5M584.5 1893.2H647.5M584.5 1890.9V1893.2M582.2 1892.0H584.5M582.2 1888.2V1892.0M578.9 1890.1H582.2M578.9 1885.1V1890.1M575.0 1887.6H578.9M575.0 1895.2H647.5M575.0 1887.6V1895.2M560.0 1897.6H647.5M571.9 1901.3H647.5M580.9 1905.1H647.5M580.9 1908.2H647.5M580.9 1905.1V1908.2M571.9 1906.7H580.9M571.9 1901.3V1906.7M566.3 1904.0H571.9M579.7 1911.8H647.5M579.7 1914.7H647.5M579.7 1911.8V1914.7M566.3 1913.2H579.7M566.3 1904.0V1913.2M560.0 1908.6H566.3M560.0 1897.6V1908.6M576.8 1917.8H647.5M583.4 1921.6H647.5M583.4 1924.5H647.5M583.4 1921.6V1924.5M576.8 1923.1H583.4M576.8 1917.8V1923.1M567.3 1920.4H576.8M584.8 1926.7H647.5M584.8 1929.3H647.5M584.8 1926.7V1929.3M581.0 1928.0H584.8M581.0 1932.1H647.5M581.0 1928.0V1932.1M567.3 1930.1H581.0M567.3 1920.4V1930.1M560.0 1925.2H567.3M582.6 1935.4H647.5M582.6 1938.4H647.5M582.6 1935.4V1938.4M572.8 1936.9H582.6M572.8 1941.0H647.5M572.8 1936.9V1941.0M560.0 1938.9H572.8M560.0 1925.2V1938.9M570.0 1953.8H647.5M545.0 1970.5H647.5M520.0 1987.0H647.5M520.0 1996.0H647.5M460.3 2005.5H647.5M474.6 2008.0H647.5M474.6 2010.8H647.5M474.6 2008.0V2010.8M460.3 2009.4H474.6M460.3 2005.5V2009.4M438.1 2007.5H460.3M459.8 2014.4H647.5M459.8 2017.9H647.5M459.8 2014.4V2017.9M438.1 2016.2H459.8M438.1 2007.5V2016.2M438.0 2027.0H647.5M438.0 2040.0H647.5M430.0 2044.4H647.5M433.7 2046.8H647.5M433.7 2049.2H647.5M433.7 2046.8V2049.2M431.6 2048.0H433.7M431.6 2051.4H647.5M431.6 2048.0V2051.4M430.0 2049.7H431.6M430.0 2044.4V2049.7M440.0 2058.6H647.5M434.1 2068.4H647.5M434.1 2071.6H647.5M434.1 2068.4V2071.6M419.0 2070.0H434.1M437.7 2074.7H647.5M437.7 2077.5H647.5M437.7 2074.7V2077.5M427.5 2076.1H437.7M442.9 2079.5H647.5M442.9 2082.4H647.5M442.9 2079.5V2082.4M427.5 2081.0H442.9M427.5 2076.1V2081.0M419.0 2078.5H427.5M419.0 2070.0V2078.5M445.0 2085.5H647.5M445.0 2088.2H647.5M445.0 2085.5V2088.2M435.9 2086.8H445.0M446.0 2090.6H647.5M446.0 2093.1H647.5M446.0 2090.6V2093.1M435.9 2091.9H446.0M435.9 2086.8V2091.9M425.0 2089.4H435.9M462.0 2095.4H647.5M462.0 2098.4H647.5M462.0 2095.4V2098.4M447.5 2096.9H462.0M447.5 2102.2H647.5M447.5 2096.9V2102.2M425.0 2099.6H447.5M425.0 2089.4V2099.6M462.4 2105.3H647.5M462.4 2108.2H647.5M462.4 2105.3V2108.2M451.6 2106.7H462.4M456.7 2111.0H647.5M456.7 2113.9H647.5M456.7 2111.0V2113.9M451.6 2112.4H456.7M451.6 2106.7V2112.4M440.0 2109.6H451.6M454.6 2117.2H647.5M454.6 2119.6H647.5M454.6 2117.2V2119.6M440.0 2118.4H454.6M440.0 2109.6V2118.4M457.0 2121.2H647.5M457.0 2123.6H647.5M457.0 2121.2V2123.6M451.9 2122.4H457.0M451.9 2126.6H647.5M451.9 2122.4V2126.6M440.0 2124.5H451.9M440.0 2129.8H647.5M440.0 2124.5V2129.8M450.0 2133.6H647.5M455.7 2137.1H647.5M455.7 2139.7H647.5M455.7 2137.1V2139.7M450.0 2138.4H455.7M450.0 2133.6V2138.4M457.4 2142.2H647.5M457.4 2144.8H647.5M457.4 2142.2V2144.8M450.0 2143.5H457.4M450.0 2148.4H647.5M450.0 2143.5V2148.4M445.0 2152.4H647.5M462.4 2155.9H647.5M462.4 2159.3H647.5M462.4 2155.9V2159.3M445.0 2157.6H462.4M445.0 2152.4V2157.6M458.3 2162.4H647.5M458.3 2165.4H647.5M458.3 2162.4V2165.4M445.0 2163.9H458.3M458.7 2168.3H647.5M458.7 2171.3H647.5M458.7 2168.3V2171.3M445.0 2169.8H458.7M445.0 2163.9V2169.8M465.9 2174.0H647.5M465.9 2176.7H647.5M465.9 2174.0V2176.7M450.0 2175.4H465.9M464.9 2180.7H647.5M464.9 2184.5H647.5M464.9 2180.7V2184.5M450.0 2182.6H464.9M450.0 2175.4V2182.6M464.2 2187.1H647.5M464.2 2190.4H647.5M464.2 2187.1V2190.4M450.0 2188.7H464.2M463.0 2194.1H647.5M472.6 2196.7H647.5M472.6 2199.3H647.5M472.6 2196.7V2199.3M463.0 2198.0H472.6M463.0 2194.1V2198.0M450.0 2196.0H463.0M450.0 2188.7V2196.0M545.0 2208.6H647.5M580.0 2225.0H647.5M580.0 2254.0H647.5M545.0 2270.5H647.5M480.8 2276.8H647.5M480.8 2279.5H647.5M480.8 2276.8V2279.5M478.0 2278.2H480.8M480.4 2282.6H647.5M480.4 2285.3H647.5M480.4 2282.6V2285.3M478.0 2283.9H480.4M478.0 2278.2V2283.9M490.0 2291.9H647.5M457.0 2296.3H647.5M459.4 2300.3H647.5M459.4 2305.1H647.5M459.4 2300.3V2305.1M457.0 2302.7H459.4M457.0 2296.3V2302.7M447.9 2308.9H647.5M447.9 2312.5H647.5M447.9 2308.9V2312.5M438.0 2310.7H447.9M449.7 2315.8H647.5M456.3 2319.4H647.5M456.3 2322.2H647.5M456.3 2319.4V2322.2M449.7 2320.8H456.3M449.7 2315.8V2320.8M438.0 2318.3H449.7M438.0 2310.7V2318.3M457.2 2324.7H647.5M457.2 2327.6H647.5M457.2 2324.7V2327.6M446.4 2326.2H457.2M446.4 2331.3H647.5M446.4 2326.2V2331.3M440.0 2328.7H446.4M454.5 2334.6H647.5M454.5 2336.9H647.5M454.5 2334.6V2336.9M440.0 2335.7H454.5M440.0 2328.7V2335.7M445.6 2340.0H647.5M445.6 2343.8H647.5M445.6 2340.0V2343.8M440.0 2341.9H445.6M440.0 2346.2H647.5M440.0 2341.9V2346.2" fill="none" stroke="#111" stroke-width="3.2"/>
<path d="M649.5 777.0H469.6V779.5H473.6V784.0H460.0V787.6H468.1V791.0H457.8V797.1H475.0V800.0H489.5V806.1H491.9V812.0H479.6V815.3H466.0V820.0H484.2V823.6H461.7V826.6H492.7V832.5H470.0V836.0H499.6V838.5H484.6V844.9H496.3V849.0H586.3V854.4H579.5V859.8H589.0V865.0H590.0V867.9H593.9V873.7H596.0V877.7H590.2V882.7H589.8V885.4H590.0V889.0H601.9V892.9H591.4V896.9H601.7V900.4H594.9V904.9H603.8V910.9H591.9V915.1H591.6V918.9H600.0V924.9H599.1V928.7H603.9V934.6H597.0V937.0H602.0V942.1H601.4V946.7H603.0V950.8H599.1V954.9H605.9V959.1H601.6V962.2H608.0V965.6H599.9V968.2H605.0V974.5H605.3V978.0H602.0V984.0H600.0V986.9H598.7V990.6H605.5V996.9H602.3V1001.6H604.4V1006.6H602.1V1010.6H596.2V1014.0H598.7V1017.5H601.4V1020.0H603.0V1022.7H607.1V1027.6H602.0V1033.2H596.4V1038.2H605.3V1044.4H597.5V1050.1H600.2V1054.2H606.6V1058.0H566.6V1062.0H502.0V1065.3H508.2V1068.0H565.0V1075.0H588.0V1081.1H580.1V1084.9H578.4V1090.2H579.2V1093.9H591.9V1097.8H585.7V1102.0H594.8V1107.1H597.6V1112.7H599.2V1119.1H599.3V1122.9H587.6V1126.5H586.7V1131.6H599.7V1138.0H603.0V1143.7H596.8V1148.3H607.5V1152.6H598.2V1155.9H600.9V1159.8H600.5V1163.6H605.0V1166.4H604.6V1170.9H608.6V1174.7H603.8V1180.3H607.9V1185.0H592.0V1189.2H585.8V1194.0H592.0V1198.0H576.3V1202.0H414.0V1205.0H424.0V1208.0H450.2V1212.1H450.2V1215.5H445.0V1218.0H510.0V1221.4H507.0V1224.9H522.0V1228.8H526.9V1232.0H479.6V1237.8H482.6V1245.0H441.7V1247.5H454.0V1250.6H444.0V1254.5H474.0V1257.6H438.0V1260.0H488.0V1264.0H502.5V1267.2H468.6V1271.5H486.0V1275.0H477.1V1281.0H458.0V1285.7H438.0V1290.0H478.4V1295.7H462.0V1298.6H483.4V1301.5H465.1V1305.0H553.4V1309.8H554.7V1313.3H562.5V1315.8H540.2V1322.2H557.0V1325.0H482.3V1330.2H481.2V1334.1H482.6V1338.0H473.2V1342.5H462.0V1350.0H560.0V1354.5H577.7V1358.0H590.0V1361.3H593.9V1364.3H587.6V1369.6H588.0V1374.1H583.5V1378.6H596.4V1382.2H592.8V1387.0H504.1V1392.0H513.4V1397.0H447.1V1401.8H426.0V1407.0H471.2V1411.3H431.1V1415.8H478.2V1420.2H461.1V1424.0H424.0V1427.6H416.4V1431.0H590.0V1434.2H583.4V1440.6H586.1V1444.3H594.0V1448.7H591.2V1453.5H590.5V1458.0H581.0V1463.5H587.6V1466.1H587.5V1470.6H578.8V1475.5H587.1V1478.7H582.1V1484.3H578.2V1486.9H581.0V1493.0H569.0V1497.4H569.4V1500.7H574.2V1507.0H566.3V1512.8H568.7V1516.2H569.0V1522.0H463.0V1524.8H446.8V1527.3H449.2V1533.8H439.4V1536.3H453.7V1539.0H469.0V1541.8H457.3V1546.3H463.7V1549.3H495.8V1553.4H490.0V1557.2H469.2V1559.8H450.4V1562.9H478.4V1566.5H462.8V1571.5H478.8V1577.0H430.2V1583.0H434.9V1585.8H440.9V1592.1H407.1V1597.3H422.2V1600.0H456.9V1605.4H410.5V1608.8H453.9V1615.0H432.9V1617.9H438.9V1623.8H468.2V1628.4H429.9V1631.0H460.9V1636.0H438.0V1640.8H467.8V1646.8H471.5V1651.2H454.2V1654.6H436.4V1661.1H461.6V1665.0H450.0V1668.0H497.0V1672.0H522.8V1676.6H524.1V1679.0H586.0V1682.6H590.4V1687.7H584.0V1694.0H589.6V1698.0H590.1V1703.7H591.1V1707.3H587.3V1712.9H589.1V1716.7H589.4V1719.5H589.7V1723.6H584.0V1728.5H586.0V1732.3H582.6V1735.3H581.7V1740.4H586.4V1746.5H581.5V1750.3H584.5V1753.9H583.3V1757.0H592.1V1763.3H592.3V1769.5H592.5V1774.8H584.7V1779.8H588.1V1783.0H592.1V1789.4H585.2V1795.8H593.0V1801.0H591.0V1806.4H586.8V1812.4H583.9V1818.4H585.1V1824.2H590.6V1827.5H587.9V1833.2H582.7V1837.6H588.3V1843.5H590.5V1848.6H590.1V1851.2H581.0V1857.2H591.1V1859.8H586.5V1863.4H581.7V1869.6H579.8V1874.1H591.0V1880.1H590.1V1884.3H590.3V1887.4H589.2V1893.2H583.2V1895.8H590.7V1900.9H588.6V1905.4H587.2V1909.7H581.8V1913.4H586.7V1919.4H583.1V1923.1H586.3V1927.0H585.3V1930.1H584.4V1934.0H579.6V1938.0H586.0V1945.0H606.2V1950.0H536.1V1954.0H565.6V1959.2H547.2V1965.0H511.8V1967.9H524.5V1972.2H528.5V1976.3H510.0V1980.0H497.0V1984.6H508.4V1988.4H493.7V1994.2H511.8V1999.9H497.0V2004.0H486.0V2008.6H501.6V2014.2H525.8V2017.6H490.6V2023.7H506.4V2028.0H463.7V2031.9H463.2V2035.5H449.8V2039.4H451.1V2043.1H441.6V2045.9H449.9V2049.8H446.2V2055.5H438.0V2060.0H454.8V2065.4H452.6V2068.8H457.9V2072.8H471.4V2077.2H454.9V2082.9H462.1V2090.0H497.5V2092.6H487.9V2098.7H503.4V2103.2H485.5V2109.6H483.0V2113.0H469.2V2116.3H460.0V2121.2H470.2V2124.0H471.3V2129.2H505.0V2135.0H464.6V2141.4H473.4V2145.7H494.3V2149.0H521.2V2154.6H494.5V2158.6H477.6V2163.2H500.7V2166.7H474.7V2172.9H494.7V2176.8H485.8V2180.9H487.7V2184.1H486.6V2186.8H513.1V2189.6H494.3V2194.7H501.7V2198.5H510.2V2201.0H545.0V2206.9H548.6V2211.0H572.0V2217.4H568.1V2220.1H573.7V2226.4H571.9V2231.8H571.0V2237.1H574.1V2241.7H578.2V2247.4H576.6V2252.4H567.9V2255.6H565.9V2261.7H568.4V2266.1H572.0V2270.0H570.0V2274.0H520.1V2279.8H508.2V2283.9H484.2V2288.9H486.0V2292.0H462.0V2295.7H489.5V2299.0H488.0V2303.5H463.6V2307.8H465.6V2312.3H448.0V2318.7H459.9V2322.0H466.5V2326.5H474.7V2329.5H472.1V2335.5H470.4V2339.4H448.8V2342.9H466.3V2347.0H649.5Z" fill="#000"/>
<rect x="818" y="1192.5" width="145.5" height="5.5" fill="#f0a8b6"/>
<rect x="819" y="1193.5" width="143.5" height="3.5" fill="#f7cfd6"/>
<rect x="2199.5" y="1192.5" width="75" height="5.5" fill="#d8ccd8"/>
<rect x="2200.5" y="1193.5" width="73" height="3.5" fill="#ece6ee"/>
<rect x="0" y="1243.8" width="2418.5" height="1.3" fill="#ffffff" fill-opacity="0.55"/>
<text x="386" y="61" font-family="Liberation Sans, Arial, sans-serif" font-weight="bold" font-size="56" text-anchor="middle">Color Key</text>
<text x="385.5" y="127.5" font-family="Liberation Sans, Arial, sans-serif" font-weight="bold" font-size="56" text-anchor="middle">and Histogram</text>
<text x="258.7" y="551" font-family="Liberation Sans, Arial, sans-serif" font-weight="bold" font-size="46" text-anchor="middle">0.2</text>
<text x="358.1" y="551" font-family="Liberation Sans, Arial, sans-serif" font-weight="bold" font-size="46" text-anchor="middle">0.4</text>
<text x="460.3" y="551" font-family="Liberation Sans, Arial, sans-serif" font-weight="bold" font-size="46" text-anchor="middle">0.6</text>
<text x="559.8" y="551" font-family="Liberation Sans, Arial, sans-serif" font-weight="bold" font-size="46" text-anchor="middle">0.8</text>
<text x="406.5" y="604" font-family="Liberation Sans, Arial, sans-serif" font-weight="bold" font-size="44.5" text-anchor="middle">Value</text>
<text transform="translate(134 233.5) rotate(-90)" font-family="Liberation Sans, Arial, sans-serif" font-weight="bold" font-size="46" text-anchor="middle">300</text>
<text transform="translate(134 396.7) rotate(-90)" font-family="Liberation Sans, Arial, sans-serif" font-weight="bold" font-size="46" text-anchor="middle">100</text>
<text transform="translate(134 478.4) rotate(-90)" font-family="Liberation Sans, Arial, sans-serif" font-weight="bold" font-size="46" text-anchor="middle">0</text>
<text transform="translate(80 313) rotate(-90)" font-family="Liberation Sans, Arial, sans-serif" font-weight="bold" font-size="46" text-anchor="middle">Count</text>
<rect x="485.5" y="648.5" width="40" height="34" fill="#009e77" stroke="#111" stroke-width="4"/>
<rect x="485.5" y="717.5" width="40" height="34" fill="#fb6300" stroke="#111" stroke-width="4"/>
<text x="579" y="687" font-family="Liberation Sans, Arial, sans-serif" font-size="57" stroke="#000" stroke-width="0.7">NS</text>
<text x="579" y="754" font-family="Liberation Sans, Arial, sans-serif" font-size="57" stroke="#000" stroke-width="0.7">W</text>
<text transform="translate(709.4 2385) rotate(-90)" font-family="Liberation Sans, Arial, sans-serif" font-size="36.5" text-anchor="end" fill="#111">18</text>
<text transform="translate(782.2 2385) rotate(-90)" font-family="Liberation Sans, Arial, sans-serif" font-size="36.5" text-anchor="end" fill="#111">10</text>
<text transform="translate(854.9 2385) rotate(-90)" font-family="Liberation Sans, Arial, sans-serif" font-size="36.5" text-anchor="end" fill="#111">16</text>
<text transform="translate(927.7 2385) rotate(-90)" font-family="Liberation Sans, Arial, sans-serif" font-size="36.5" text-anchor="end" fill="#111">4</text>
<text transform="translate(1000.5 2385) rotate(-90)" font-family="Liberation Sans, Arial, sans-serif" font-size="36.5" text-anchor="end" fill="#111">22</text>
<text transform="translate(1073.2 2385) rotate(-90)" font-family="Liberation Sans, Arial, sans-serif" font-size="36.5" text-anchor="end" fill="#111">23</text>
<text transform="translate(1146.0 2385) rotate(-90)" font-family="Liberation Sans, Arial, sans-serif" font-size="36.5" text-anchor="end" fill="#111">5</text>
<text transform="translate(1218.8 2385) rotate(-90)" font-family="Liberation Sans, Arial, sans-serif" font-size="36.5" text-anchor="end" fill="#111">17</text>
<text transform="translate(1291.6 2385) rotate(-90)" font-family="Liberation Sans, Arial, sans-serif" font-size="36.5" text-anchor="end" fill="#111">6</text>
<text transform="translate(1364.3 2385) rotate(-90)" font-family="Liberation Sans, Arial, sans-serif" font-size="36.5" text-anchor="end" fill="#111">12</text>
<text transform="translate(1437.1 2385) rotate(-90)" font-family="Liberation Sans, Arial, sans-serif" font-size="36.5" text-anchor="end" fill="#111">24</text>
<text transform="translate(1509.9 2385) rotate(-90)" font-family="Liberation Sans, Arial, sans-serif" font-size="36.5" text-anchor="end" fill="#111">11</text>
<text transform="translate(1582.6 2385) rotate(-90)" font-family="Liberation Sans, Arial, sans-serif" font-size="36.5" text-anchor="end" fill="#111">21</text>
<text transform="translate(1655.4 2385) rotate(-90)" font-family="Liberation Sans, Arial, sans-serif" font-size="36.5" text-anchor="end" fill="#111">8</text>
<text transform="translate(1728.2 2385) rotate(-90)" font-family="Liberation Sans, Arial, sans-serif" font-size="36.5" text-anchor="end" fill="#111">20</text>
<text transform="translate(1800.9 2385) rotate(-90)" font-family="Liberation Sans, Arial, sans-serif" font-size="36.5" text-anchor="end" fill="#111">14</text>
<text transform="translate(1873.7 2385) rotate(-90)" font-family="Liberation Sans, Arial, sans-serif" font-size="36.5" text-anchor="end" fill="#111">3</text>
<text transform="translate(1946.5 2385) rotate(-90)" font-family="Liberation Sans, Arial, sans-serif" font-size="36.5" text-anchor="end" fill="#111">19</text>
<text transform="translate(2019.3 2385) rotate(-90)" font-family="Liberation Sans, Arial, sans-serif" font-size="36.5" text-anchor="end" fill="#111">15</text>
<text transform="translate(2092.0 2385) rotate(-90)" font-family="Liberation Sans, Arial, sans-serif" font-size="36.5" text-anchor="end" fill="#111">9</text>
<text transform="translate(2164.8 2385) rotate(-90)" font-family="Liberation Sans, Arial, sans-serif" font-size="36.5" text-anchor="end" fill="#111">2</text>
<text transform="translate(2237.6 2385) rotate(-90)" font-family="Liberation Sans, Arial, sans-serif" font-size="36.5" text-anchor="end" fill="#111">13</text>
<text transform="translate(2310.3 2385) rotate(-90)" font-family="Liberation Sans, Arial, sans-serif" font-size="36.5" text-anchor="end" fill="#111">1</text>
<text transform="translate(2383.1 2385) rotate(-90)" font-family="Liberation Sans, Arial, sans-serif" font-size="36.5" text-anchor="end" fill="#111">7</text>
</svg>
</div></body></html>
